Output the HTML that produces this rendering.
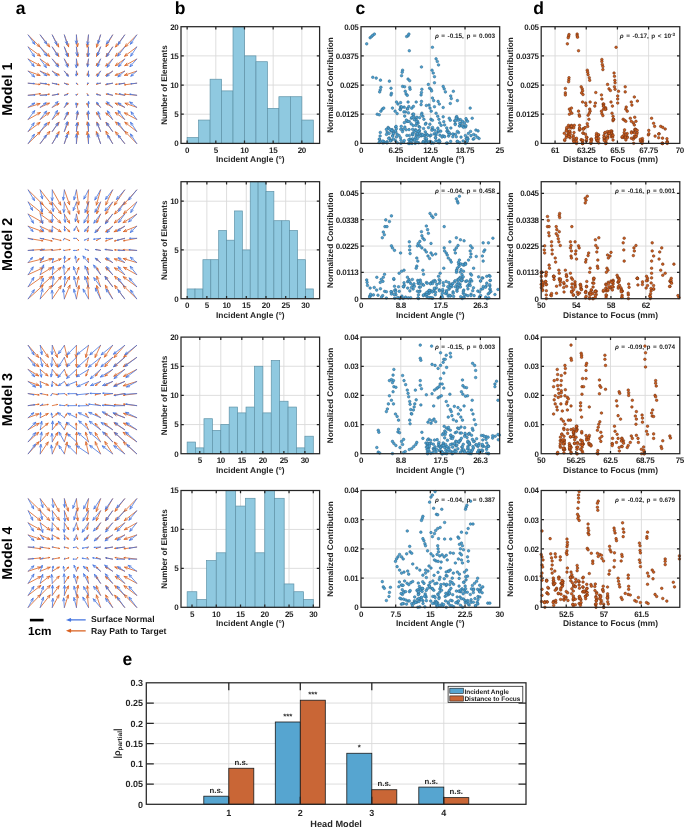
<!DOCTYPE html><html><head><meta charset="utf-8"><style>html,body{margin:0;padding:0;background:#fff;width:685px;height:828px;overflow:hidden}svg{display:block;will-change:transform}text{font-family:"Liberation Sans", sans-serif;text-rendering:geometricPrecision}</style></head><body>
<svg width="685" height="828" viewBox="0 0 685 828">
<rect width="685" height="828" fill="#fff"/>
<text x="15.8" y="14" font-size="17.5" font-weight="bold" text-anchor="start" fill="#000">a</text>
<text x="174.7" y="14.1" font-size="17.5" font-weight="bold" text-anchor="start" fill="#000">b</text>
<text x="355.4" y="14" font-size="17.5" font-weight="bold" text-anchor="start" fill="#000">c</text>
<text x="533.3" y="14" font-size="17.5" font-weight="bold" text-anchor="start" fill="#000">d</text>
<text x="122.6" y="665.4" font-size="17.5" font-weight="bold" text-anchor="start" fill="#000">e</text>
<text x="12" y="89.2" font-size="14.3" font-weight="bold" text-anchor="middle" fill="#000" transform="rotate(-90 12 89.2)">Model 1</text>
<text x="12" y="244.35" font-size="14.3" font-weight="bold" text-anchor="middle" fill="#000" transform="rotate(-90 12 244.35)">Model 2</text>
<text x="12" y="399.55" font-size="14.3" font-weight="bold" text-anchor="middle" fill="#000" transform="rotate(-90 12 399.55)">Model 3</text>
<text x="12" y="553.05" font-size="14.3" font-weight="bold" text-anchor="middle" fill="#000" transform="rotate(-90 12 553.05)">Model 4</text>
<path d="M28.2 35L39.92 46.91M38.7 43.95L39.92 46.91L36.99 45.63M40.26 35L49.68 46.9M48.77 43.83L49.68 46.9L46.9 45.31M52.31 35L58.69 46.91M58.35 43.73L58.69 46.91L56.23 44.86M64.37 35L68.61 46.84M68.74 43.64L68.61 46.84L66.48 44.45M76.42 35L77.57 46.74M78.47 43.67L77.57 46.74L76.09 43.91M88.48 35L87.23 47.21M88.72 44.38L87.23 47.21L86.34 44.14M100.53 35L96.59 47.18M98.64 44.72L96.59 47.18L96.36 43.98M112.59 35L106.05 46.71M108.54 44.7L106.05 46.71L106.45 43.53M124.64 35L115.53 46.97M118.28 45.34L115.53 46.97L116.37 43.89M136.7 35L125.01 46.78M127.95 45.52L125.01 46.78L126.25 43.83M28.2 47.06L40.38 56.11M38.71 53.38L40.38 56.11L37.28 55.31M40.26 47.06L49.6 56.47M48.36 53.52L49.6 56.47L46.66 55.21M52.31 47.06L58.82 56.39M58.11 53.29L58.82 56.39L56.15 54.65M64.37 47.06L68.56 56.26M68.43 53.43L68.56 56.26L66.5 54.31M76.42 47.06L77.94 56.57M78.54 53.94L77.94 56.57L76.55 54.26M88.48 47.06L87.36 56.58M88.65 54.23L87.36 56.58L86.65 53.99M100.53 47.06L96.56 56.33M98.57 54.34L96.56 56.33L96.62 53.51M112.59 47.06L106.06 56.56M108.73 54.79L106.06 56.56L106.76 53.43M124.64 47.06L115.49 56.11M118.44 54.88L115.49 56.11L116.75 53.17M136.7 47.06L124.6 56.22M127.69 55.39L124.6 56.22L126.24 53.48M28.2 59.11L40.28 65.78M38.27 63.3L40.28 65.78L37.11 65.4M40.26 59.11L49.31 65.56M47.63 62.93L49.31 65.56L46.28 64.83M52.31 59.11L58.77 65.68M57.78 63.29L58.77 65.68L56.4 64.65M64.37 59.11L68.47 65.81M68.11 63.64L68.47 65.81L66.7 64.5M76.42 59.11L77.78 65.86M78.13 63.97L77.78 65.86L76.72 64.25M88.48 59.11L87.38 65.47M88.33 63.93L87.38 65.47L86.99 63.7M100.53 59.11L96.31 65.53M98.08 64.3L96.31 65.53L96.73 63.42M112.59 59.11L105.7 66.01M108.21 64.94L105.7 66.01L106.76 63.5M124.64 59.11L115.35 65.65M118.45 64.93L115.35 65.65L117.07 62.98M136.7 59.11L124.81 65.59M127.99 65.22L124.81 65.59L126.84 63.12M28.2 71.17L40.08 75.4M37.69 73.28L40.08 75.4L36.89 75.54M40.26 71.17L49.48 75M47.49 73.04L49.48 75L46.68 74.97M52.31 71.17L59.24 75.08M57.85 73.34L59.24 75.08L57.03 74.79M64.37 71.17L68.23 75.41M67.67 73.9L68.23 75.41L66.78 74.71M76.42 71.17L77.59 74.85M77.67 73.77L77.59 74.85L76.9 74.02M88.48 71.17L87.24 75.22M87.98 74.3L87.24 75.22L87.13 74.04M100.53 71.17L96.47 75.25M97.95 74.62L96.47 75.25L97.09 73.76M112.59 71.17L105.77 75.43M107.99 75.04L105.77 75.43L107.09 73.61M124.64 71.17L115.27 75.33M118.14 75.23L115.27 75.33L117.27 73.26M136.7 71.17L124.47 75.29M127.66 75.48L124.47 75.29L126.9 73.2M28.2 83.22L39.94 84.48M38.95 83.95L39.94 84.48L38.86 84.78M40.26 83.22L49.33 84.75M48.57 84.28L49.33 84.75L48.45 84.95M52.31 83.22L59.02 84.63M58.46 84.25L59.02 84.63L58.36 84.75M64.37 83.22L68.4 84.31M68.07 84.07L68.4 84.31L67.99 84.36M76.42 83.22L77.8 84.38M77.71 84.23L77.8 84.38L77.63 84.33M88.48 83.22L87.28 84.76M87.44 84.67L87.28 84.76L87.33 84.58M100.53 83.22L96.52 84.26M96.92 84.31L96.52 84.26L96.85 84.02M112.59 83.22L105.71 84.62M106.39 84.75L105.71 84.62L106.28 84.24M124.64 83.22L115.64 84.33M116.5 84.56L115.64 84.33L116.42 83.9M136.7 83.22L124.57 84.82M125.65 85.1L124.57 84.82L125.54 84.27M28.2 95.28L40.37 93.71M39.28 93.43L40.37 93.71L39.39 94.26M40.26 95.28L49.31 94.2M48.45 93.97L49.31 94.2L48.52 94.63M52.31 95.28L58.81 94.09M58.18 93.96L58.81 94.09L58.26 94.44M64.37 95.28L68.07 93.66M67.67 93.67L68.07 93.66L67.79 93.94M76.42 95.28L77.52 94.03M77.38 94.1L77.52 94.03L77.47 94.18M88.48 95.28L87.16 93.77M87.22 93.96L87.16 93.77L87.33 93.86M100.53 95.28L96.77 94M97.06 94.26L96.77 94L97.16 93.98M112.59 95.28L106.24 94.11M106.77 94.45L106.24 94.11L106.86 93.98M124.64 95.28L115.41 93.79M116.19 94.27L115.41 93.79L116.3 93.59M136.7 95.28L124.6 94.18M125.59 94.69L124.6 94.18L125.67 93.86M28.2 107.33L40.02 103.58M36.83 103.34L40.02 103.58L37.55 105.62M40.26 107.33L49.35 103.11M46.55 103.25L49.35 103.11L47.43 105.16M52.31 107.33L59.01 103.62M56.88 103.88L59.01 103.62L57.66 105.28M64.37 107.33L68.23 103.18M66.79 103.85L68.23 103.18L67.67 104.66M76.42 107.33L77.71 103.51M76.98 104.37L77.71 103.51L77.78 104.64M88.48 107.33L86.95 103.5M86.94 104.66L86.95 103.5L87.75 104.34M100.53 107.33L96.58 103.64M97.22 105.01L96.58 103.64L97.99 104.18M112.59 107.33L105.91 103.28M107.22 105.04L105.91 103.28L108.07 103.64M124.64 107.33L115.22 103.19M117.23 105.25L115.22 103.19L118.1 103.27M136.7 107.33L125.03 103.21M127.43 105.33L125.03 103.21L128.23 103.07M28.2 119.39L40.35 112.56M37.18 112.97L40.35 112.56L38.35 115.06M40.26 119.39L49.45 112.56M46.35 113.37L49.45 112.56L47.78 115.29M52.31 119.39L59.11 112.77M56.65 113.78L59.11 112.77L58.04 115.2M64.37 119.39L68.55 112.48M66.74 113.84L68.55 112.48L68.19 114.71M76.42 119.39L77.92 112.67M76.83 114.26L77.92 112.67L78.24 114.57M88.48 119.39L87.2 112.8M86.84 114.65L87.2 112.8L88.22 114.38M100.53 119.39L96.49 112.65M96.84 114.83L96.49 112.65L98.25 113.98M112.59 119.39L105.86 112.92M106.93 115.31L105.86 112.92L108.29 113.9M124.64 119.39L115.36 112.52M117.03 115.25L115.36 112.52L118.46 113.32M136.7 119.39L124.51 112.83M126.56 115.29L124.51 112.83L127.69 113.18M28.2 131.44L39.97 122.43M36.88 123.28L39.97 122.43L38.34 125.19M40.26 131.44L49.6 122.15M46.65 123.39L49.6 122.15L48.34 125.09M52.31 131.44L59.06 122.17M56.34 123.86L59.06 122.17L58.28 125.27M64.37 131.44L68.27 122.45M66.31 124.37L68.27 122.45L68.2 125.19M76.42 131.44L78.03 122.43M76.66 124.6L78.03 122.43L78.56 124.94M88.48 131.44L87.27 121.92M86.58 124.52L87.27 121.92L88.58 124.27M100.53 131.44L96.83 122.15M96.82 124.95L96.83 122.15L98.77 124.17M112.59 131.44L105.99 122.39M106.75 125.43L105.99 122.39L108.65 124.04M124.64 131.44L115.61 121.97M116.79 124.95L115.61 121.97L118.52 123.29M136.7 131.44L124.86 122.24M126.46 125.01L124.86 122.24L127.94 123.11M28.2 143.5L40.26 131.86M37.29 133.06L40.26 131.86L38.96 134.78M40.26 143.5L49.82 131.37M47.04 132.96L49.82 131.37L48.92 134.44M52.31 143.5L59.12 131.71M56.59 133.68L59.12 131.71L58.67 134.88M64.37 143.5L68.62 131.27M66.52 133.67L68.62 131.27L68.78 134.46M76.42 143.5L77.88 131.44M76.33 134.24L77.88 131.44L78.71 134.53M88.48 143.5L87.23 131.58M86.35 134.66L87.23 131.58L88.73 134.41M100.53 143.5L96.38 131.65M96.23 134.85L96.38 131.65L98.49 134.05M112.59 143.5L105.9 131.33M106.28 134.51L105.9 131.33L108.38 133.35M124.64 143.5L115.5 131.84M116.39 134.91L115.5 131.84L118.28 133.43M136.7 143.5L124.92 131.41M126.13 134.37L124.92 131.41L127.85 132.7" stroke="#d9601f" stroke-width="0.8" fill="none" stroke-linecap="round" stroke-linejoin="round"/>
<path d="M28.2 35L34.82 44.32M34.13 41.4L34.82 44.32L32.29 42.71M40.26 35L46.78 44.05M46.06 41.13L46.78 44.05L44.24 42.45M52.31 35L56.84 44.69M56.68 41.69L56.84 44.69L54.64 42.64M64.37 35L67.11 44.42M67.41 41.44L67.11 44.42L65.25 42.07M76.42 35L76.37 43.75M77.51 40.97L76.37 43.75L75.26 40.96M88.48 35L87.57 44.72M88.95 42.06L87.57 44.72L86.71 41.85M100.53 35L98 43.45M99.87 41.11L98 43.45L97.72 40.46M112.59 35L106.55 43.83M109.05 42.17L106.55 43.83L107.19 40.9M124.64 35L118.11 44.54M120.61 42.88L118.11 44.54L118.75 41.61M136.7 35L130.43 44.21M132.93 42.55L130.43 44.21L131.07 41.28M28.2 47.06L34.47 56.7M33.9 53.76L34.47 56.7L32.01 54.98M40.26 47.06L46.74 55.96M46.01 53.05L46.74 55.96L44.19 54.37M52.31 47.06L57.61 55.7M57.11 52.74L57.61 55.7L55.2 53.92M64.37 47.06L67.39 56.37M67.6 53.38L67.39 56.37L65.46 54.07M76.42 47.06L77.11 55.55M78 52.71L77.11 55.55L75.77 52.89M88.48 47.06L88.37 56.38M89.53 53.61L88.37 56.38L87.28 53.58M100.53 47.06L97.62 55.39M99.6 53.13L97.62 55.39L97.48 52.39M112.59 47.06L106.8 56.36M109.23 54.59L106.8 56.36L107.32 53.4M124.64 47.06L117.88 56.1M120.45 54.55L117.88 56.1L118.65 53.2M136.7 47.06L130.71 56.19M133.17 54.48L130.71 56.19L131.29 53.25M28.2 59.11L34.12 66.4M33.24 63.53L34.12 66.4L31.49 64.95M40.26 59.11L46.34 67.53M45.62 64.62L46.34 67.53L43.8 65.94M52.31 59.11L58.26 67.02M57.49 64.12L58.26 67.02L55.69 65.48M64.37 59.11L67.67 67.14M67.65 64.14L67.67 67.14L65.57 65M76.42 59.11L76.33 67.66M77.48 64.9L76.33 67.66L75.24 64.87M88.48 59.11L87.55 66.78M88.85 64.41L87.55 66.78L86.84 64.17M100.53 59.11L97.71 66.58M99.61 64.53L97.71 66.58L97.65 63.79M112.59 59.11L107.18 67.25M109.66 65.55L107.18 67.25L107.79 64.31M124.64 59.11L118.53 66.69M121.15 65.23L118.53 66.69L119.4 63.82M136.7 59.11L129.95 66.72M132.63 65.38L129.95 66.72L130.95 63.89M28.2 71.17L34.54 76.96M33.25 74.26L34.54 76.96L31.73 75.92M40.26 71.17L46.64 75.7M45.16 73.39L46.64 75.7L43.97 75.06M52.31 71.17L57.2 75.83M56.22 73.67L57.2 75.83L55 74.96M64.37 71.17L68.2 76.29M67.63 74.12L68.2 76.29L66.28 75.13M76.42 71.17L76.2 75.87M76.89 74.37L76.2 75.87L75.65 74.31M88.48 71.17L88.59 76.71M89.28 74.89L88.59 76.71L87.83 74.92M100.53 71.17L97.4 76.56M99.12 75.22L97.4 76.56L97.71 74.4M112.59 71.17L106.57 76.38M109.21 75.48L106.57 76.38L107.84 73.9M124.64 71.17L118.03 76.82M120.88 75.87L118.03 76.82L119.42 74.16M136.7 71.17L130.84 76.2M133.4 75.34L130.84 76.2L132.08 73.8M28.2 83.22L34.3 83.54M33.62 83.23L34.3 83.54L33.59 83.79M40.26 83.22L46.38 83.64M45.7 83.31L46.38 83.64L45.66 83.87M52.31 83.22L56.98 84.14M56.49 83.82L56.98 84.14L56.41 84.25M64.37 83.22L67.09 84.58M66.85 84.3L67.09 84.58L66.72 84.56M76.42 83.22L76.7 83.94M76.7 83.84L76.7 83.94L76.64 83.87M88.48 83.22L87.37 83.28M87.5 83.32L87.37 83.28L87.49 83.22M100.53 83.22L96.94 83.37M97.35 83.52L96.94 83.37L97.34 83.19M112.59 83.22L106.69 84.11M107.4 84.28L106.69 84.11L107.32 83.74M124.64 83.22L119.02 84.14M119.7 84.29L119.02 84.14L119.61 83.78M136.7 83.22L130.89 83.81M131.58 84.01L130.89 83.81L131.53 83.48M28.2 95.28L34.92 95.04M34.15 94.76L34.92 95.04L34.17 95.38M40.26 95.28L46.75 95.16M46.01 94.87L46.75 95.16L46.02 95.47M52.31 95.28L58.01 94.25M57.32 94.11L58.01 94.25L57.41 94.63M64.37 95.28L67.42 94.57M67.04 94.51L67.42 94.57L67.11 94.79M76.42 95.28L76.15 94.46M76.15 94.57L76.15 94.46L76.22 94.54M88.48 95.28L87.31 95.14M87.43 95.21L87.31 95.14L87.44 95.1M100.53 95.28L96.74 94.54M97.13 94.8L96.74 94.54L97.2 94.45M112.59 95.28L107.64 93.76M108.13 94.16L107.64 93.76L108.27 93.7M124.64 95.28L119.38 93.71M119.91 94.13L119.38 93.71L120.05 93.65M136.7 95.28L129.91 94.18M130.63 94.61L129.91 94.18L130.73 93.99M28.2 107.33L34.7 103M32.02 103.55L34.7 103L33.16 105.26M40.26 107.33L46.05 102.73M43.57 103.47L46.05 102.73L44.77 104.99M52.31 107.33L57.9 101.64M55.34 102.75L57.9 101.64L56.83 104.22M64.37 107.33L67.04 102.57M65.55 103.77L67.04 102.57L66.8 104.47M76.42 107.33L76.1 102.96M75.63 104.42L76.1 102.96L76.78 104.34M88.48 107.33L88.58 101.57M87.79 103.43L88.58 101.57L89.3 103.46M100.53 107.33L96.7 102.3M97.28 104.44L96.7 102.3L98.6 103.43M112.59 107.33L106.85 101.8M107.99 104.35L106.85 101.8L109.44 102.84M124.64 107.33L118.27 102.95M119.76 105.21L118.27 102.95L120.91 103.54M136.7 107.33L129.76 101.93M131.26 104.53L129.76 101.93L132.64 102.75M28.2 119.39L34.65 110.67M32.09 112.24L34.65 110.67L33.9 113.57M40.26 119.39L46.49 111.11M43.91 112.66L46.49 111.11L45.71 114.01M52.31 119.39L57.41 110.55M55.04 112.4L57.41 110.55L56.99 113.52M64.37 119.39L67.41 112.1M65.47 114.07L67.41 112.1L67.38 114.86M76.42 119.39L77.56 110.93M76.08 113.53L77.56 110.93L78.3 113.82M88.48 119.39L88.38 110.98M87.31 113.72L88.38 110.98L89.52 113.7M100.53 119.39L98.16 111.7M97.92 114.51L98.16 111.7L99.94 113.88M112.59 119.39L107.53 110.91M107.99 113.88L107.53 110.91L109.92 112.72M124.64 119.39L118.14 110.64M118.9 113.54L118.14 110.64L120.7 112.2M136.7 119.39L131.04 111.85M131.81 114.75L131.04 111.85L133.61 113.4M28.2 131.44L34.12 122.86M31.62 124.51L34.12 122.86L33.47 125.78M40.26 131.44L46.6 123.17M44.02 124.7L46.6 123.17L45.8 126.07M52.31 131.44L58.14 122.94M55.64 124.6L58.14 122.94L57.49 125.87M64.37 131.44L67.26 121.81M65.38 124.15L67.26 121.81L67.53 124.8M76.42 131.44L76.93 122.95M75.65 125.64L76.93 122.95L77.88 125.77M88.48 131.44L88.5 122.75M87.37 125.53L88.5 122.75L89.62 125.54M100.53 131.44L97.13 122.98M97.13 125.98L97.13 122.98L99.21 125.14M112.59 131.44L106.61 122.84M107.27 125.77L106.61 122.84L109.12 124.49M124.64 131.44L117.95 122.53M118.72 125.43L117.95 122.53L120.52 124.08M136.7 131.44L130.56 122.29M131.18 125.23L130.56 122.29L133.04 123.98M28.2 143.5L34.4 134.34M31.91 136.01L34.4 134.34L33.77 137.27M40.26 143.5L46.4 135.05M43.85 136.64L46.4 135.05L45.67 137.96M52.31 143.5L57.85 134.43M55.44 136.21L57.85 134.43L57.36 137.39M64.37 143.5L67.29 134.43M65.37 136.73L67.29 134.43L67.51 137.42M76.42 143.5L76.39 134.42M75.27 137.21L76.39 134.42L77.52 137.2M88.48 143.5L88.63 134.46M87.46 137.22L88.63 134.46L89.71 137.26M100.53 143.5L97.31 133.75M97.12 136.74L97.31 133.75L99.25 136.03M112.59 143.5L107.56 135.15M108.03 138.11L107.56 135.15L109.96 136.95M124.64 143.5L118.03 135.04M118.86 137.93L118.03 135.04L120.63 136.54M136.7 143.5L130.47 133.98M131.05 136.93L130.47 133.98L132.94 135.69" stroke="#4474e0" stroke-width="0.8" fill="none" stroke-linecap="round" stroke-linejoin="round"/>
<line x1="187.15" y1="26.7" x2="187.15" y2="143.4" stroke="#dadada" stroke-width="0.9"/>
<line x1="215.82" y1="26.7" x2="215.82" y2="143.4" stroke="#dadada" stroke-width="0.9"/>
<line x1="244.49" y1="26.7" x2="244.49" y2="143.4" stroke="#dadada" stroke-width="0.9"/>
<line x1="273.16" y1="26.7" x2="273.16" y2="143.4" stroke="#dadada" stroke-width="0.9"/>
<line x1="301.83" y1="26.7" x2="301.83" y2="143.4" stroke="#dadada" stroke-width="0.9"/>
<line x1="181" y1="114.23" x2="319.6" y2="114.23" stroke="#dadada" stroke-width="0.9"/>
<line x1="181" y1="85.05" x2="319.6" y2="85.05" stroke="#dadada" stroke-width="0.9"/>
<line x1="181" y1="55.88" x2="319.6" y2="55.88" stroke="#dadada" stroke-width="0.9"/>
<rect x="187.15" y="137.56" width="11.47" height="5.83" fill="#8fc9e0" stroke="#5f93a8" stroke-width="0.7"/>
<rect x="198.62" y="120.06" width="11.47" height="23.34" fill="#8fc9e0" stroke="#5f93a8" stroke-width="0.7"/>
<rect x="210.09" y="79.22" width="11.47" height="64.19" fill="#8fc9e0" stroke="#5f93a8" stroke-width="0.7"/>
<rect x="221.55" y="90.89" width="11.47" height="52.52" fill="#8fc9e0" stroke="#5f93a8" stroke-width="0.7"/>
<rect x="233.02" y="26.7" width="11.47" height="116.7" fill="#8fc9e0" stroke="#5f93a8" stroke-width="0.7"/>
<rect x="244.49" y="55.88" width="11.47" height="87.53" fill="#8fc9e0" stroke="#5f93a8" stroke-width="0.7"/>
<rect x="255.96" y="61.71" width="11.47" height="81.69" fill="#8fc9e0" stroke="#5f93a8" stroke-width="0.7"/>
<rect x="267.43" y="108.39" width="11.47" height="35.01" fill="#8fc9e0" stroke="#5f93a8" stroke-width="0.7"/>
<rect x="278.9" y="96.72" width="11.47" height="46.68" fill="#8fc9e0" stroke="#5f93a8" stroke-width="0.7"/>
<rect x="290.36" y="96.72" width="11.47" height="46.68" fill="#8fc9e0" stroke="#5f93a8" stroke-width="0.7"/>
<rect x="301.83" y="120.06" width="11.47" height="23.34" fill="#8fc9e0" stroke="#5f93a8" stroke-width="0.7"/>
<path d="M187.15 143.4V140.6M187.15 26.7V29.5M215.82 143.4V140.6M215.82 26.7V29.5M244.49 143.4V140.6M244.49 26.7V29.5M273.16 143.4V140.6M273.16 26.7V29.5M301.83 143.4V140.6M301.83 26.7V29.5M181 114.23H183.8M319.6 114.23H316.8M181 85.05H183.8M319.6 85.05H316.8M181 55.88H183.8M319.6 55.88H316.8" stroke="#262626" stroke-width="1.25" fill="none"/>
<rect x="181" y="26.7" width="138.6" height="116.7" fill="none" stroke="#262626" stroke-width="1.25"/>
<text x="187.15" y="152.9" font-size="8.0" font-weight="bold" text-anchor="middle" fill="#262626" letter-spacing="-0.3">0</text>
<text x="215.82" y="152.9" font-size="8.0" font-weight="bold" text-anchor="middle" fill="#262626" letter-spacing="-0.3">5</text>
<text x="244.49" y="152.9" font-size="8.0" font-weight="bold" text-anchor="middle" fill="#262626" letter-spacing="-0.3">10</text>
<text x="273.16" y="152.9" font-size="8.0" font-weight="bold" text-anchor="middle" fill="#262626" letter-spacing="-0.3">15</text>
<text x="301.83" y="152.9" font-size="8.0" font-weight="bold" text-anchor="middle" fill="#262626" letter-spacing="-0.3">20</text>
<text x="178.5" y="146.26" font-size="8.0" font-weight="bold" text-anchor="end" fill="#262626" letter-spacing="-0.3">0</text>
<text x="178.5" y="117.09" font-size="8.0" font-weight="bold" text-anchor="end" fill="#262626" letter-spacing="-0.3">5</text>
<text x="178.5" y="87.91" font-size="8.0" font-weight="bold" text-anchor="end" fill="#262626" letter-spacing="-0.3">10</text>
<text x="178.5" y="58.74" font-size="8.0" font-weight="bold" text-anchor="end" fill="#262626" letter-spacing="-0.3">15</text>
<text x="178.5" y="29.56" font-size="8.0" font-weight="bold" text-anchor="end" fill="#262626" letter-spacing="-0.3">20</text>
<text x="250.3" y="162.3" font-size="8.4" font-weight="bold" text-anchor="middle" fill="#262626">Incident Angle (°)</text>
<text x="167.3" y="85.05" font-size="8.2" font-weight="bold" text-anchor="middle" fill="#262626" transform="rotate(-90 167.3 85.05)">Number of Elements</text>
<line x1="395.68" y1="26.7" x2="395.68" y2="143.4" stroke="#dadada" stroke-width="0.9"/>
<line x1="430.35" y1="26.7" x2="430.35" y2="143.4" stroke="#dadada" stroke-width="0.9"/>
<line x1="465.02" y1="26.7" x2="465.02" y2="143.4" stroke="#dadada" stroke-width="0.9"/>
<line x1="361" y1="114.23" x2="499.7" y2="114.23" stroke="#dadada" stroke-width="0.9"/>
<line x1="361" y1="85.05" x2="499.7" y2="85.05" stroke="#dadada" stroke-width="0.9"/>
<line x1="361" y1="55.88" x2="499.7" y2="55.88" stroke="#dadada" stroke-width="0.9"/>
<g fill="#4ba2d4" stroke="#2f6688" stroke-width="0.55">
<circle cx="366.69" cy="43.84" r="1.3"/>
<circle cx="370.13" cy="37.76" r="1.3"/>
<circle cx="371.56" cy="36.54" r="1.3"/>
<circle cx="372.78" cy="35.32" r="1.3"/>
<circle cx="374.4" cy="34.11" r="1.3"/>
<circle cx="406.66" cy="36.54" r="1.3"/>
<circle cx="408.07" cy="35.73" r="1.3"/>
<circle cx="408.89" cy="34.11" r="1.3"/>
<circle cx="409.3" cy="50.74" r="1.3"/>
<circle cx="432.43" cy="47.29" r="1.3"/>
<circle cx="436.08" cy="58.85" r="1.3"/>
<circle cx="437.3" cy="61.48" r="1.3"/>
<circle cx="438.52" cy="64.93" r="1.3"/>
<circle cx="421.47" cy="66.95" r="1.3"/>
<circle cx="402.6" cy="70.19" r="1.3"/>
<circle cx="402.19" cy="72.22" r="1.3"/>
<circle cx="401.58" cy="75.68" r="1.3"/>
<circle cx="432.03" cy="70.19" r="1.3"/>
<circle cx="433.23" cy="73.04" r="1.3"/>
<circle cx="434.46" cy="76.68" r="1.3"/>
<circle cx="372.78" cy="77.3" r="1.3"/>
<circle cx="376.22" cy="78.11" r="1.3"/>
<circle cx="380.47" cy="80.14" r="1.3"/>
<circle cx="389.41" cy="81.15" r="1.3"/>
<circle cx="408.07" cy="79.12" r="1.3"/>
<circle cx="409.7" cy="80.74" r="1.3"/>
<circle cx="434.46" cy="82.77" r="1.3"/>
<circle cx="428.37" cy="84.4" r="1.3"/>
<circle cx="380.89" cy="87.23" r="1.3"/>
<circle cx="380.28" cy="89.87" r="1.3"/>
<circle cx="379.67" cy="91.89" r="1.3"/>
<circle cx="391.03" cy="88.25" r="1.3"/>
<circle cx="391.44" cy="93.31" r="1.3"/>
<circle cx="391.03" cy="94.93" r="1.3"/>
<circle cx="402.6" cy="86.42" r="1.3"/>
<circle cx="404.62" cy="86.82" r="1.3"/>
<circle cx="409.7" cy="87.43" r="1.3"/>
<circle cx="410.1" cy="89.26" r="1.3"/>
<circle cx="421.88" cy="89.26" r="1.3"/>
<circle cx="421.47" cy="92.51" r="1.3"/>
<circle cx="421.07" cy="94.93" r="1.3"/>
<circle cx="429.59" cy="88.25" r="1.3"/>
<circle cx="431" cy="89.26" r="1.3"/>
<circle cx="431.61" cy="90.89" r="1.3"/>
<circle cx="443.18" cy="86.42" r="1.3"/>
<circle cx="444.19" cy="88.85" r="1.3"/>
<circle cx="445.41" cy="91.89" r="1.3"/>
<circle cx="453.33" cy="91.28" r="1.3"/>
<circle cx="450.7" cy="95.95" r="1.3"/>
<circle cx="451.29" cy="98.59" r="1.3"/>
<circle cx="450.28" cy="103.45" r="1.3"/>
<circle cx="457.38" cy="100.61" r="1.3"/>
<circle cx="432.43" cy="97.98" r="1.3"/>
<circle cx="433.65" cy="100.61" r="1.3"/>
<circle cx="438.1" cy="101.42" r="1.3"/>
<circle cx="439.32" cy="104.06" r="1.3"/>
<circle cx="405.23" cy="91.28" r="1.3"/>
<circle cx="406.05" cy="93.92" r="1.3"/>
<circle cx="407.27" cy="95.34" r="1.3"/>
<circle cx="396.51" cy="102.03" r="1.3"/>
<circle cx="397.94" cy="104.06" r="1.3"/>
<circle cx="400.57" cy="102.64" r="1.3"/>
<circle cx="408.07" cy="102.03" r="1.3"/>
<circle cx="416.19" cy="102.03" r="1.3"/>
<circle cx="421.47" cy="101.42" r="1.3"/>
<circle cx="421.07" cy="104.67" r="1.3"/>
<circle cx="426.34" cy="105.47" r="1.3"/>
<circle cx="428.98" cy="105.08" r="1.3"/>
<circle cx="429.99" cy="108.11" r="1.3"/>
<circle cx="431.21" cy="111.16" r="1.3"/>
<circle cx="434.46" cy="106.7" r="1.3"/>
<circle cx="443.18" cy="107.5" r="1.3"/>
<circle cx="377.23" cy="114.2" r="1.3"/>
<circle cx="379.27" cy="114.81" r="1.3"/>
<circle cx="380.89" cy="111.16" r="1.3"/>
<circle cx="382.3" cy="109.13" r="1.3"/>
<circle cx="383.73" cy="108.11" r="1.3"/>
<circle cx="392.46" cy="108.11" r="1.3"/>
<circle cx="395.09" cy="111.16" r="1.3"/>
<circle cx="397.12" cy="113.58" r="1.3"/>
<circle cx="412.75" cy="114.2" r="1.3"/>
<circle cx="413.76" cy="116.22" r="1.3"/>
<circle cx="411.32" cy="118.25" r="1.3"/>
<circle cx="421.88" cy="113.19" r="1.3"/>
<circle cx="422.89" cy="116.22" r="1.3"/>
<circle cx="423.9" cy="119.27" r="1.3"/>
<circle cx="425.94" cy="123.32" r="1.3"/>
<circle cx="436.08" cy="113.19" r="1.3"/>
<circle cx="437.7" cy="116.22" r="1.3"/>
<circle cx="438.92" cy="119.27" r="1.3"/>
<circle cx="439.73" cy="122.92" r="1.3"/>
<circle cx="441.15" cy="125.35" r="1.3"/>
<circle cx="431" cy="119.27" r="1.3"/>
<circle cx="432.43" cy="120.28" r="1.3"/>
<circle cx="443.18" cy="116.83" r="1.3"/>
<circle cx="443.79" cy="121.69" r="1.3"/>
<circle cx="444.61" cy="124.94" r="1.3"/>
<circle cx="456.37" cy="117.24" r="1.3"/>
<circle cx="457.99" cy="118.86" r="1.3"/>
<circle cx="460.43" cy="119.67" r="1.3"/>
<circle cx="462.46" cy="121.3" r="1.3"/>
<circle cx="464.48" cy="122.92" r="1.3"/>
<circle cx="466.52" cy="120.28" r="1.3"/>
<circle cx="463.47" cy="125.75" r="1.3"/>
<circle cx="465.51" cy="126.97" r="1.3"/>
<circle cx="467.54" cy="121.3" r="1.3"/>
<circle cx="472.2" cy="118.25" r="1.3"/>
<circle cx="470.17" cy="108.11" r="1.3"/>
<circle cx="449.27" cy="118.25" r="1.3"/>
<circle cx="450.28" cy="120.28" r="1.3"/>
<circle cx="380.28" cy="132.44" r="1.3"/>
<circle cx="379.67" cy="139.54" r="1.3"/>
<circle cx="380.28" cy="141.57" r="1.3"/>
<circle cx="470.57" cy="131.43" r="1.3"/>
<circle cx="473.62" cy="134.47" r="1.3"/>
<circle cx="475.65" cy="135.49" r="1.3"/>
<circle cx="479.1" cy="138.52" r="1.3"/>
<circle cx="404.15" cy="107.15" r="1.3"/>
<circle cx="408.8" cy="106.6" r="1.3"/>
<circle cx="407.17" cy="108.68" r="1.3"/>
<circle cx="400.38" cy="109.69" r="1.3"/>
<circle cx="400.09" cy="109.16" r="1.3"/>
<circle cx="400.54" cy="106.73" r="1.3"/>
<circle cx="405.58" cy="111.95" r="1.3"/>
<circle cx="401.32" cy="107.67" r="1.3"/>
<circle cx="408.46" cy="112.81" r="1.3"/>
<circle cx="407.76" cy="108.9" r="1.3"/>
<circle cx="413.43" cy="106.42" r="1.3"/>
<circle cx="411.75" cy="108.14" r="1.3"/>
<circle cx="401.6" cy="106.92" r="1.3"/>
<circle cx="403.94" cy="111.88" r="1.3"/>
<circle cx="406.91" cy="121.44" r="1.3"/>
<circle cx="415.29" cy="118.47" r="1.3"/>
<circle cx="413.62" cy="114.07" r="1.3"/>
<circle cx="404.7" cy="116.1" r="1.3"/>
<circle cx="416.04" cy="119.25" r="1.3"/>
<circle cx="409.35" cy="121.5" r="1.3"/>
<circle cx="411.89" cy="117.43" r="1.3"/>
<circle cx="418.12" cy="123.11" r="1.3"/>
<circle cx="408.07" cy="121.33" r="1.3"/>
<circle cx="413.21" cy="125.6" r="1.3"/>
<circle cx="416.94" cy="117.27" r="1.3"/>
<circle cx="421.51" cy="114.86" r="1.3"/>
<circle cx="411.25" cy="123.92" r="1.3"/>
<circle cx="406.38" cy="120.12" r="1.3"/>
<circle cx="404.33" cy="122.66" r="1.3"/>
<circle cx="417.58" cy="121.32" r="1.3"/>
<circle cx="419.6" cy="117.63" r="1.3"/>
<circle cx="416.31" cy="121.61" r="1.3"/>
<circle cx="414.21" cy="119.65" r="1.3"/>
<circle cx="418.95" cy="126.6" r="1.3"/>
<circle cx="461.07" cy="123.29" r="1.3"/>
<circle cx="455.21" cy="123.75" r="1.3"/>
<circle cx="463.54" cy="127.3" r="1.3"/>
<circle cx="466.02" cy="118.67" r="1.3"/>
<circle cx="459.82" cy="123.34" r="1.3"/>
<circle cx="454.66" cy="120.83" r="1.3"/>
<circle cx="456.73" cy="116.63" r="1.3"/>
<circle cx="455.18" cy="124.55" r="1.3"/>
<circle cx="456.18" cy="118.22" r="1.3"/>
<circle cx="459.89" cy="125.81" r="1.3"/>
<circle cx="455.48" cy="120.68" r="1.3"/>
<circle cx="462.15" cy="125.95" r="1.3"/>
<circle cx="465.98" cy="125.72" r="1.3"/>
<circle cx="458.3" cy="120.26" r="1.3"/>
<circle cx="459.44" cy="125.97" r="1.3"/>
<circle cx="412.6" cy="129.37" r="1.3"/>
<circle cx="391.19" cy="131.02" r="1.3"/>
<circle cx="392.76" cy="135.57" r="1.3"/>
<circle cx="402.5" cy="131.61" r="1.3"/>
<circle cx="386.48" cy="134.45" r="1.3"/>
<circle cx="396.48" cy="136.92" r="1.3"/>
<circle cx="412.47" cy="138.92" r="1.3"/>
<circle cx="400.49" cy="137.75" r="1.3"/>
<circle cx="404.88" cy="127.11" r="1.3"/>
<circle cx="411" cy="140.31" r="1.3"/>
<circle cx="410.32" cy="140.58" r="1.3"/>
<circle cx="397.12" cy="134.1" r="1.3"/>
<circle cx="389.2" cy="138.02" r="1.3"/>
<circle cx="388.07" cy="127.46" r="1.3"/>
<circle cx="392.08" cy="129.61" r="1.3"/>
<circle cx="395.68" cy="127.07" r="1.3"/>
<circle cx="386.37" cy="129.37" r="1.3"/>
<circle cx="389.14" cy="133.47" r="1.3"/>
<circle cx="387.06" cy="141.73" r="1.3"/>
<circle cx="403.19" cy="129.31" r="1.3"/>
<circle cx="393.28" cy="133.18" r="1.3"/>
<circle cx="396.34" cy="128.75" r="1.3"/>
<circle cx="409.61" cy="143.4" r="1.3"/>
<circle cx="399.13" cy="135.56" r="1.3"/>
<circle cx="388.71" cy="128.29" r="1.3"/>
<circle cx="395.74" cy="131.65" r="1.3"/>
<circle cx="409.07" cy="129.59" r="1.3"/>
<circle cx="386.99" cy="142.87" r="1.3"/>
<circle cx="400.83" cy="129.28" r="1.3"/>
<circle cx="401.25" cy="126.36" r="1.3"/>
<circle cx="400.83" cy="143.28" r="1.3"/>
<circle cx="410.02" cy="139" r="1.3"/>
<circle cx="393.51" cy="133.53" r="1.3"/>
<circle cx="390.95" cy="140.18" r="1.3"/>
<circle cx="400.96" cy="140.3" r="1.3"/>
<circle cx="395.4" cy="130.84" r="1.3"/>
<circle cx="408.6" cy="143.38" r="1.3"/>
<circle cx="409.73" cy="140.7" r="1.3"/>
<circle cx="408.78" cy="139.69" r="1.3"/>
<circle cx="392.58" cy="136.12" r="1.3"/>
<circle cx="396.1" cy="126.42" r="1.3"/>
<circle cx="387.13" cy="131.93" r="1.3"/>
<circle cx="393.47" cy="138.94" r="1.3"/>
<circle cx="412.57" cy="134.93" r="1.3"/>
<circle cx="412.03" cy="143.4" r="1.3"/>
<circle cx="412.53" cy="133.49" r="1.3"/>
<circle cx="392.4" cy="130.91" r="1.3"/>
<circle cx="391.75" cy="130.47" r="1.3"/>
<circle cx="403.46" cy="142.13" r="1.3"/>
<circle cx="409.39" cy="135.48" r="1.3"/>
<circle cx="404.25" cy="140.61" r="1.3"/>
<circle cx="388.68" cy="138.44" r="1.3"/>
<circle cx="411.29" cy="140.34" r="1.3"/>
<circle cx="406.91" cy="135.45" r="1.3"/>
<circle cx="391.25" cy="140.45" r="1.3"/>
<circle cx="395.48" cy="140.62" r="1.3"/>
<circle cx="412.98" cy="134.04" r="1.3"/>
<circle cx="397.37" cy="142.82" r="1.3"/>
<circle cx="406.22" cy="129.77" r="1.3"/>
<circle cx="389.85" cy="129.37" r="1.3"/>
<circle cx="411.15" cy="140.72" r="1.3"/>
<circle cx="390.36" cy="141.02" r="1.3"/>
<circle cx="435.63" cy="137.81" r="1.3"/>
<circle cx="421.58" cy="135.86" r="1.3"/>
<circle cx="416.69" cy="123.99" r="1.3"/>
<circle cx="435.43" cy="137.68" r="1.3"/>
<circle cx="425.51" cy="142.51" r="1.3"/>
<circle cx="423.44" cy="141.49" r="1.3"/>
<circle cx="432.19" cy="129.16" r="1.3"/>
<circle cx="419.38" cy="130.91" r="1.3"/>
<circle cx="419.13" cy="136.55" r="1.3"/>
<circle cx="419.55" cy="133.43" r="1.3"/>
<circle cx="416.69" cy="142.12" r="1.3"/>
<circle cx="421.65" cy="134.18" r="1.3"/>
<circle cx="426.79" cy="142.02" r="1.3"/>
<circle cx="423.15" cy="142.24" r="1.3"/>
<circle cx="424.95" cy="135.56" r="1.3"/>
<circle cx="425.44" cy="124.16" r="1.3"/>
<circle cx="423.58" cy="128.53" r="1.3"/>
<circle cx="413.84" cy="140.26" r="1.3"/>
<circle cx="417.6" cy="134.47" r="1.3"/>
<circle cx="429.95" cy="136" r="1.3"/>
<circle cx="421.03" cy="135.3" r="1.3"/>
<circle cx="426.16" cy="140.02" r="1.3"/>
<circle cx="416.13" cy="136.07" r="1.3"/>
<circle cx="419.31" cy="130.57" r="1.3"/>
<circle cx="431" cy="135.1" r="1.3"/>
<circle cx="426.3" cy="139.6" r="1.3"/>
<circle cx="434.12" cy="133.89" r="1.3"/>
<circle cx="427.44" cy="135.07" r="1.3"/>
<circle cx="425.19" cy="138.44" r="1.3"/>
<circle cx="423.86" cy="135.58" r="1.3"/>
<circle cx="424.43" cy="142.64" r="1.3"/>
<circle cx="429.37" cy="141.57" r="1.3"/>
<circle cx="434.79" cy="130.21" r="1.3"/>
<circle cx="426.24" cy="142.66" r="1.3"/>
<circle cx="432.51" cy="127.46" r="1.3"/>
<circle cx="416.48" cy="133.88" r="1.3"/>
<circle cx="415.38" cy="129.8" r="1.3"/>
<circle cx="415.4" cy="138.03" r="1.3"/>
<circle cx="431.25" cy="141.91" r="1.3"/>
<circle cx="417.2" cy="138.84" r="1.3"/>
<circle cx="428.49" cy="127.6" r="1.3"/>
<circle cx="433.47" cy="143.06" r="1.3"/>
<circle cx="418.66" cy="142.82" r="1.3"/>
<circle cx="422.65" cy="134.73" r="1.3"/>
<circle cx="435.86" cy="140.83" r="1.3"/>
<circle cx="417.37" cy="133.67" r="1.3"/>
<circle cx="425.27" cy="131.86" r="1.3"/>
<circle cx="418.13" cy="131.44" r="1.3"/>
<circle cx="429.88" cy="124.19" r="1.3"/>
<circle cx="426.12" cy="133.84" r="1.3"/>
<circle cx="414.16" cy="131.71" r="1.3"/>
<circle cx="427.69" cy="135.2" r="1.3"/>
<circle cx="415.19" cy="143.35" r="1.3"/>
<circle cx="431.36" cy="143.13" r="1.3"/>
<circle cx="416.09" cy="130.34" r="1.3"/>
<circle cx="414.65" cy="139.92" r="1.3"/>
<circle cx="419.79" cy="127.27" r="1.3"/>
<circle cx="423.18" cy="142.14" r="1.3"/>
<circle cx="432.04" cy="130.19" r="1.3"/>
<circle cx="417.09" cy="142.27" r="1.3"/>
<circle cx="426.49" cy="138.57" r="1.3"/>
<circle cx="415.76" cy="125.38" r="1.3"/>
<circle cx="465.41" cy="135.56" r="1.3"/>
<circle cx="439.17" cy="142.79" r="1.3"/>
<circle cx="463.11" cy="140.96" r="1.3"/>
<circle cx="439.64" cy="141.7" r="1.3"/>
<circle cx="438.92" cy="141.79" r="1.3"/>
<circle cx="455.41" cy="134.2" r="1.3"/>
<circle cx="459.64" cy="142.64" r="1.3"/>
<circle cx="447.49" cy="130.53" r="1.3"/>
<circle cx="458.53" cy="132.52" r="1.3"/>
<circle cx="440.74" cy="131.15" r="1.3"/>
<circle cx="438.23" cy="131.88" r="1.3"/>
<circle cx="449.38" cy="133.64" r="1.3"/>
<circle cx="468.45" cy="133.4" r="1.3"/>
<circle cx="457.4" cy="131.45" r="1.3"/>
<circle cx="450.86" cy="128.03" r="1.3"/>
<circle cx="446.76" cy="127.95" r="1.3"/>
<circle cx="467.31" cy="137.45" r="1.3"/>
<circle cx="444.15" cy="136.32" r="1.3"/>
<circle cx="475.91" cy="130.07" r="1.3"/>
<circle cx="470.98" cy="135.66" r="1.3"/>
<circle cx="457.17" cy="141.42" r="1.3"/>
<circle cx="452.83" cy="136.79" r="1.3"/>
<circle cx="465.39" cy="143.36" r="1.3"/>
<circle cx="450.68" cy="141.38" r="1.3"/>
<circle cx="466.19" cy="138.66" r="1.3"/>
<circle cx="453.33" cy="134.34" r="1.3"/>
<circle cx="438.39" cy="130.54" r="1.3"/>
<circle cx="439.09" cy="140.13" r="1.3"/>
<circle cx="446.97" cy="131.18" r="1.3"/>
<circle cx="439.68" cy="141.5" r="1.3"/>
<circle cx="473.18" cy="139.15" r="1.3"/>
<circle cx="448.09" cy="132.59" r="1.3"/>
<circle cx="448.58" cy="136.08" r="1.3"/>
<circle cx="442.79" cy="135.87" r="1.3"/>
<circle cx="447.3" cy="143.1" r="1.3"/>
<circle cx="477.52" cy="137.39" r="1.3"/>
<circle cx="446.49" cy="143.14" r="1.3"/>
<circle cx="449.27" cy="134.48" r="1.3"/>
<circle cx="436.12" cy="134.88" r="1.3"/>
<circle cx="456.3" cy="136.74" r="1.3"/>
<circle cx="444.65" cy="136.76" r="1.3"/>
<circle cx="436.29" cy="132.97" r="1.3"/>
<circle cx="439.91" cy="135.16" r="1.3"/>
<circle cx="437.85" cy="128.16" r="1.3"/>
<circle cx="449.05" cy="132.43" r="1.3"/>
<circle cx="461.03" cy="137.12" r="1.3"/>
<circle cx="468.06" cy="138.98" r="1.3"/>
<circle cx="466.59" cy="142.01" r="1.3"/>
<circle cx="452.68" cy="133.99" r="1.3"/>
<circle cx="478.05" cy="130.92" r="1.3"/>
<circle cx="466.94" cy="138.77" r="1.3"/>
<circle cx="437.95" cy="141.42" r="1.3"/>
<circle cx="474.08" cy="138.55" r="1.3"/>
<circle cx="467.36" cy="141.11" r="1.3"/>
<circle cx="442.01" cy="137.04" r="1.3"/>
<circle cx="457.58" cy="141.42" r="1.3"/>
<circle cx="384.77" cy="142.44" r="1.3"/>
<circle cx="382.98" cy="142.89" r="1.3"/>
<circle cx="383.79" cy="141.53" r="1.3"/>
<circle cx="380.11" cy="135.99" r="1.3"/>
<circle cx="379.32" cy="139.07" r="1.3"/>
<circle cx="379.1" cy="142.51" r="1.3"/>
<circle cx="382.78" cy="141.08" r="1.3"/>
</g>
<path d="M395.68 143.4V140.6M395.68 26.7V29.5M430.35 143.4V140.6M430.35 26.7V29.5M465.02 143.4V140.6M465.02 26.7V29.5M361 114.23H363.8M499.7 114.23H496.9M361 85.05H363.8M499.7 85.05H496.9M361 55.88H363.8M499.7 55.88H496.9" stroke="#262626" stroke-width="1.25" fill="none"/>
<rect x="361" y="26.7" width="138.7" height="116.7" fill="none" stroke="#262626" stroke-width="1.25"/>
<text x="361" y="152.9" font-size="8.0" font-weight="bold" text-anchor="middle" fill="#262626" letter-spacing="-0.3">0</text>
<text x="395.68" y="152.9" font-size="8.0" font-weight="bold" text-anchor="middle" fill="#262626" letter-spacing="-0.3">6.25</text>
<text x="430.35" y="152.9" font-size="8.0" font-weight="bold" text-anchor="middle" fill="#262626" letter-spacing="-0.3">12.5</text>
<text x="465.02" y="152.9" font-size="8.0" font-weight="bold" text-anchor="middle" fill="#262626" letter-spacing="-0.3">18.75</text>
<text x="499.7" y="152.9" font-size="8.0" font-weight="bold" text-anchor="middle" fill="#262626" letter-spacing="-0.3">25</text>
<text x="358.5" y="146.26" font-size="8.0" font-weight="bold" text-anchor="end" fill="#262626" letter-spacing="-0.3">0</text>
<text x="358.5" y="117.09" font-size="8.0" font-weight="bold" text-anchor="end" fill="#262626" letter-spacing="-0.3">0.0125</text>
<text x="358.5" y="87.91" font-size="8.0" font-weight="bold" text-anchor="end" fill="#262626" letter-spacing="-0.3">0.025</text>
<text x="358.5" y="58.74" font-size="8.0" font-weight="bold" text-anchor="end" fill="#262626" letter-spacing="-0.3">0.0375</text>
<text x="358.5" y="29.56" font-size="8.0" font-weight="bold" text-anchor="end" fill="#262626" letter-spacing="-0.3">0.05</text>
<text x="430.35" y="162.3" font-size="8.4" font-weight="bold" text-anchor="middle" fill="#262626">Incident Angle (°)</text>
<text x="332.6" y="85.05" font-size="8.2" font-weight="bold" text-anchor="middle" fill="#262626" transform="rotate(-90 332.6 85.05)">Normalized Contribution</text>
<text x="495.1" y="38.2" font-size="6.4" font-weight="bold" text-anchor="end" fill="#262626" word-spacing="0.75"><tspan font-style="italic">&#961;</tspan> = -0.15, p = 0.003</text>
<line x1="555.06" y1="26.7" x2="555.06" y2="143.4" stroke="#dadada" stroke-width="0.9"/>
<line x1="586.25" y1="26.7" x2="586.25" y2="143.4" stroke="#dadada" stroke-width="0.9"/>
<line x1="617.43" y1="26.7" x2="617.43" y2="143.4" stroke="#dadada" stroke-width="0.9"/>
<line x1="648.62" y1="26.7" x2="648.62" y2="143.4" stroke="#dadada" stroke-width="0.9"/>
<line x1="541.2" y1="114.23" x2="679.8" y2="114.23" stroke="#dadada" stroke-width="0.9"/>
<line x1="541.2" y1="85.05" x2="679.8" y2="85.05" stroke="#dadada" stroke-width="0.9"/>
<line x1="541.2" y1="55.88" x2="679.8" y2="55.88" stroke="#dadada" stroke-width="0.9"/>
<g fill="#d2601f" stroke="#6b3012" stroke-width="0.55">
<circle cx="569" cy="34.52" r="1.3"/>
<circle cx="568.6" cy="36.14" r="1.3"/>
<circle cx="568.19" cy="37.76" r="1.3"/>
<circle cx="577.13" cy="34.11" r="1.3"/>
<circle cx="577.13" cy="35.73" r="1.3"/>
<circle cx="577.53" cy="37.16" r="1.3"/>
<circle cx="567.38" cy="43.84" r="1.3"/>
<circle cx="578.54" cy="50.74" r="1.3"/>
<circle cx="616.09" cy="47.29" r="1.3"/>
<circle cx="601.88" cy="59.46" r="1.3"/>
<circle cx="601.88" cy="61.48" r="1.3"/>
<circle cx="602.28" cy="64.52" r="1.3"/>
<circle cx="602.89" cy="66.55" r="1.3"/>
<circle cx="602.89" cy="69.59" r="1.3"/>
<circle cx="587.27" cy="70.19" r="1.3"/>
<circle cx="587.67" cy="72.22" r="1.3"/>
<circle cx="588.07" cy="74.66" r="1.3"/>
<circle cx="589.29" cy="77.7" r="1.3"/>
<circle cx="589.7" cy="80.34" r="1.3"/>
<circle cx="569" cy="77.7" r="1.3"/>
<circle cx="568.8" cy="79.73" r="1.3"/>
<circle cx="568.6" cy="81.76" r="1.3"/>
<circle cx="614.05" cy="73.04" r="1.3"/>
<circle cx="614.45" cy="76.29" r="1.3"/>
<circle cx="614.87" cy="80.34" r="1.3"/>
<circle cx="615.06" cy="82.77" r="1.3"/>
<circle cx="565.34" cy="88.45" r="1.3"/>
<circle cx="565.34" cy="92.9" r="1.3"/>
<circle cx="565.34" cy="94.93" r="1.3"/>
<circle cx="581.17" cy="86.82" r="1.3"/>
<circle cx="582.2" cy="88.85" r="1.3"/>
<circle cx="582.6" cy="90.89" r="1.3"/>
<circle cx="581.59" cy="92.9" r="1.3"/>
<circle cx="583" cy="94.53" r="1.3"/>
<circle cx="607.56" cy="84.4" r="1.3"/>
<circle cx="608.98" cy="88.85" r="1.3"/>
<circle cx="610.4" cy="90.48" r="1.3"/>
<circle cx="614.45" cy="86.82" r="1.3"/>
<circle cx="615.06" cy="89.26" r="1.3"/>
<circle cx="595.79" cy="92.51" r="1.3"/>
<circle cx="618.51" cy="91.28" r="1.3"/>
<circle cx="625.21" cy="86.82" r="1.3"/>
<circle cx="625.21" cy="91.89" r="1.3"/>
<circle cx="601.46" cy="94.93" r="1.3"/>
<circle cx="601.88" cy="98.98" r="1.3"/>
<circle cx="617.71" cy="95.95" r="1.3"/>
<circle cx="617.71" cy="98.98" r="1.3"/>
<circle cx="617.71" cy="103.05" r="1.3"/>
<circle cx="634.34" cy="96.97" r="1.3"/>
<circle cx="637.39" cy="101.01" r="1.3"/>
<circle cx="582.6" cy="102.03" r="1.3"/>
<circle cx="585.65" cy="103.05" r="1.3"/>
<circle cx="586.05" cy="105.47" r="1.3"/>
<circle cx="590.11" cy="102.03" r="1.3"/>
<circle cx="595.38" cy="103.05" r="1.3"/>
<circle cx="594.77" cy="106.09" r="1.3"/>
<circle cx="611.01" cy="102.03" r="1.3"/>
<circle cx="612.43" cy="106.09" r="1.3"/>
<circle cx="631.3" cy="102.03" r="1.3"/>
<circle cx="631.91" cy="105.08" r="1.3"/>
<circle cx="626.23" cy="107.09" r="1.3"/>
<circle cx="627.24" cy="111.16" r="1.3"/>
<circle cx="625.82" cy="109.13" r="1.3"/>
<circle cx="569.41" cy="109.13" r="1.3"/>
<circle cx="571.44" cy="108.11" r="1.3"/>
<circle cx="570.42" cy="111.16" r="1.3"/>
<circle cx="569.41" cy="114.2" r="1.3"/>
<circle cx="571.84" cy="113.19" r="1.3"/>
<circle cx="578.54" cy="111.16" r="1.3"/>
<circle cx="579.15" cy="114.81" r="1.3"/>
<circle cx="579.55" cy="116.22" r="1.3"/>
<circle cx="589.7" cy="109.13" r="1.3"/>
<circle cx="590.11" cy="111.16" r="1.3"/>
<circle cx="589.29" cy="113.19" r="1.3"/>
<circle cx="588.07" cy="115.21" r="1.3"/>
<circle cx="588.89" cy="119.27" r="1.3"/>
<circle cx="601.46" cy="111.16" r="1.3"/>
<circle cx="601.88" cy="113.58" r="1.3"/>
<circle cx="602.89" cy="115.61" r="1.3"/>
<circle cx="612.02" cy="113.19" r="1.3"/>
<circle cx="613.04" cy="116.22" r="1.3"/>
<circle cx="613.65" cy="119.27" r="1.3"/>
<circle cx="623.18" cy="119.27" r="1.3"/>
<circle cx="624.61" cy="120.28" r="1.3"/>
<circle cx="625.82" cy="121.3" r="1.3"/>
<circle cx="630.28" cy="118.25" r="1.3"/>
<circle cx="631.3" cy="121.3" r="1.3"/>
<circle cx="633.33" cy="122.92" r="1.3"/>
<circle cx="634.34" cy="124.94" r="1.3"/>
<circle cx="634.75" cy="117.24" r="1.3"/>
<circle cx="635.96" cy="121.3" r="1.3"/>
<circle cx="651.59" cy="118.25" r="1.3"/>
<circle cx="653.62" cy="123.32" r="1.3"/>
<circle cx="654.63" cy="126.36" r="1.3"/>
<circle cx="660.73" cy="126.36" r="1.3"/>
<circle cx="662.75" cy="127.38" r="1.3"/>
<circle cx="665.19" cy="129" r="1.3"/>
<circle cx="603.13" cy="104.06" r="1.3"/>
<circle cx="603.75" cy="104.06" r="1.3"/>
<circle cx="603.42" cy="106.02" r="1.3"/>
<circle cx="603.74" cy="106.3" r="1.3"/>
<circle cx="603.65" cy="109.13" r="1.3"/>
<circle cx="605.61" cy="107.82" r="1.3"/>
<circle cx="605.82" cy="109.13" r="1.3"/>
<circle cx="605.3" cy="109.13" r="1.3"/>
<circle cx="570.01" cy="136.5" r="1.3"/>
<circle cx="570.04" cy="137.79" r="1.3"/>
<circle cx="574.3" cy="125.35" r="1.3"/>
<circle cx="573.69" cy="127.82" r="1.3"/>
<circle cx="574.01" cy="132.47" r="1.3"/>
<circle cx="568.24" cy="135.69" r="1.3"/>
<circle cx="568.21" cy="134.53" r="1.3"/>
<circle cx="568.7" cy="133.78" r="1.3"/>
<circle cx="568.82" cy="136.42" r="1.3"/>
<circle cx="568.3" cy="131.89" r="1.3"/>
<circle cx="570.07" cy="132.13" r="1.3"/>
<circle cx="570.15" cy="134.16" r="1.3"/>
<circle cx="569.7" cy="130.99" r="1.3"/>
<circle cx="568.52" cy="125.35" r="1.3"/>
<circle cx="568.89" cy="127.32" r="1.3"/>
<circle cx="566.66" cy="129.2" r="1.3"/>
<circle cx="566.29" cy="137.39" r="1.3"/>
<circle cx="566.36" cy="135.28" r="1.3"/>
<circle cx="566.73" cy="127.65" r="1.3"/>
<circle cx="566.26" cy="130.97" r="1.3"/>
<circle cx="579.77" cy="128.53" r="1.3"/>
<circle cx="579.51" cy="125.35" r="1.3"/>
<circle cx="579.47" cy="130.08" r="1.3"/>
<circle cx="580.06" cy="129.54" r="1.3"/>
<circle cx="579.56" cy="128.16" r="1.3"/>
<circle cx="575.86" cy="138.8" r="1.3"/>
<circle cx="576.17" cy="139.58" r="1.3"/>
<circle cx="576.45" cy="143.4" r="1.3"/>
<circle cx="576.63" cy="141.72" r="1.3"/>
<circle cx="576.53" cy="138.2" r="1.3"/>
<circle cx="564.73" cy="140.49" r="1.3"/>
<circle cx="564.69" cy="139.74" r="1.3"/>
<circle cx="564.29" cy="133.28" r="1.3"/>
<circle cx="571.39" cy="127.94" r="1.3"/>
<circle cx="571.11" cy="126.6" r="1.3"/>
<circle cx="571.46" cy="125.35" r="1.3"/>
<circle cx="571.08" cy="126.39" r="1.3"/>
<circle cx="571.57" cy="126.26" r="1.3"/>
<circle cx="573.26" cy="139.79" r="1.3"/>
<circle cx="573.3" cy="135.67" r="1.3"/>
<circle cx="573.22" cy="137.32" r="1.3"/>
<circle cx="573.95" cy="141.26" r="1.3"/>
<circle cx="573.88" cy="141.82" r="1.3"/>
<circle cx="581.45" cy="140.03" r="1.3"/>
<circle cx="581.2" cy="139.71" r="1.3"/>
<circle cx="590.79" cy="139.37" r="1.3"/>
<circle cx="591.51" cy="139.04" r="1.3"/>
<circle cx="591.53" cy="140.35" r="1.3"/>
<circle cx="590.96" cy="142.77" r="1.3"/>
<circle cx="583.29" cy="133.12" r="1.3"/>
<circle cx="582.89" cy="133.08" r="1.3"/>
<circle cx="583.31" cy="128.64" r="1.3"/>
<circle cx="583.36" cy="129.2" r="1.3"/>
<circle cx="585.44" cy="134.19" r="1.3"/>
<circle cx="584.98" cy="127.63" r="1.3"/>
<circle cx="597.15" cy="140.97" r="1.3"/>
<circle cx="597.06" cy="139.81" r="1.3"/>
<circle cx="596.92" cy="135.16" r="1.3"/>
<circle cx="597" cy="136.46" r="1.3"/>
<circle cx="596.78" cy="139.98" r="1.3"/>
<circle cx="590.92" cy="143.4" r="1.3"/>
<circle cx="590.94" cy="141.88" r="1.3"/>
<circle cx="586.99" cy="137.35" r="1.3"/>
<circle cx="586.38" cy="141.04" r="1.3"/>
<circle cx="586.38" cy="137.12" r="1.3"/>
<circle cx="586.55" cy="139.75" r="1.3"/>
<circle cx="596.34" cy="137.94" r="1.3"/>
<circle cx="596.68" cy="137.45" r="1.3"/>
<circle cx="596.56" cy="133.46" r="1.3"/>
<circle cx="598.48" cy="135.15" r="1.3"/>
<circle cx="598.05" cy="140.7" r="1.3"/>
<circle cx="598.69" cy="138.45" r="1.3"/>
<circle cx="598.73" cy="142.93" r="1.3"/>
<circle cx="598.48" cy="134.69" r="1.3"/>
<circle cx="587.71" cy="126.41" r="1.3"/>
<circle cx="587.31" cy="123.71" r="1.3"/>
<circle cx="596.32" cy="138.46" r="1.3"/>
<circle cx="596.35" cy="135.39" r="1.3"/>
<circle cx="582.88" cy="143.4" r="1.3"/>
<circle cx="582.52" cy="140.7" r="1.3"/>
<circle cx="582.5" cy="143.4" r="1.3"/>
<circle cx="582.43" cy="143.4" r="1.3"/>
<circle cx="582.84" cy="140.27" r="1.3"/>
<circle cx="582.72" cy="143.4" r="1.3"/>
<circle cx="611.87" cy="131.12" r="1.3"/>
<circle cx="611.55" cy="135.27" r="1.3"/>
<circle cx="611.91" cy="133.52" r="1.3"/>
<circle cx="612.99" cy="120.74" r="1.3"/>
<circle cx="613.29" cy="119.27" r="1.3"/>
<circle cx="613.38" cy="119.27" r="1.3"/>
<circle cx="606.06" cy="142.84" r="1.3"/>
<circle cx="605.9" cy="143.4" r="1.3"/>
<circle cx="605.73" cy="143.4" r="1.3"/>
<circle cx="606.02" cy="140.69" r="1.3"/>
<circle cx="603.93" cy="135.57" r="1.3"/>
<circle cx="604.24" cy="139.23" r="1.3"/>
<circle cx="604.26" cy="140.59" r="1.3"/>
<circle cx="611.01" cy="131.99" r="1.3"/>
<circle cx="611.29" cy="132.98" r="1.3"/>
<circle cx="610.93" cy="130.98" r="1.3"/>
<circle cx="611.32" cy="136.84" r="1.3"/>
<circle cx="604.48" cy="137.49" r="1.3"/>
<circle cx="604.43" cy="138.18" r="1.3"/>
<circle cx="604.85" cy="133.07" r="1.3"/>
<circle cx="605.15" cy="132.49" r="1.3"/>
<circle cx="607.76" cy="137.17" r="1.3"/>
<circle cx="608.25" cy="133.36" r="1.3"/>
<circle cx="607.76" cy="135.53" r="1.3"/>
<circle cx="607.53" cy="138.25" r="1.3"/>
<circle cx="607.53" cy="131.52" r="1.3"/>
<circle cx="609.38" cy="131.64" r="1.3"/>
<circle cx="608.96" cy="133.43" r="1.3"/>
<circle cx="609.17" cy="133.33" r="1.3"/>
<circle cx="612.69" cy="136.92" r="1.3"/>
<circle cx="613.05" cy="140.05" r="1.3"/>
<circle cx="613.02" cy="135.23" r="1.3"/>
<circle cx="604.36" cy="137.9" r="1.3"/>
<circle cx="604.21" cy="137.46" r="1.3"/>
<circle cx="624.19" cy="132.63" r="1.3"/>
<circle cx="623.86" cy="135.2" r="1.3"/>
<circle cx="624.14" cy="137.65" r="1.3"/>
<circle cx="624.57" cy="129.92" r="1.3"/>
<circle cx="622.09" cy="137.48" r="1.3"/>
<circle cx="622.16" cy="136.75" r="1.3"/>
<circle cx="631.54" cy="131.84" r="1.3"/>
<circle cx="631.36" cy="138.23" r="1.3"/>
<circle cx="631.43" cy="132.98" r="1.3"/>
<circle cx="635.66" cy="129.41" r="1.3"/>
<circle cx="635" cy="129.41" r="1.3"/>
<circle cx="635" cy="129.41" r="1.3"/>
<circle cx="627.16" cy="133.54" r="1.3"/>
<circle cx="627.19" cy="136.76" r="1.3"/>
<circle cx="627.24" cy="137.62" r="1.3"/>
<circle cx="633.22" cy="139.25" r="1.3"/>
<circle cx="633.67" cy="143.29" r="1.3"/>
<circle cx="633.98" cy="131.87" r="1.3"/>
<circle cx="634.63" cy="137.55" r="1.3"/>
<circle cx="634.15" cy="137.11" r="1.3"/>
<circle cx="634.39" cy="136.42" r="1.3"/>
<circle cx="634.42" cy="132.93" r="1.3"/>
<circle cx="636" cy="136.18" r="1.3"/>
<circle cx="635.79" cy="130.01" r="1.3"/>
<circle cx="636" cy="136.76" r="1.3"/>
<circle cx="625.47" cy="137" r="1.3"/>
<circle cx="625.87" cy="139.91" r="1.3"/>
<circle cx="625.95" cy="134.81" r="1.3"/>
<circle cx="642.39" cy="138.64" r="1.3"/>
<circle cx="642.39" cy="140.62" r="1.3"/>
<circle cx="642.1" cy="143.4" r="1.3"/>
<circle cx="642.03" cy="141.26" r="1.3"/>
<circle cx="641.96" cy="142.43" r="1.3"/>
<circle cx="659.13" cy="133.77" r="1.3"/>
<circle cx="658.62" cy="137.72" r="1.3"/>
<circle cx="658.68" cy="133.96" r="1.3"/>
<circle cx="648.37" cy="134.89" r="1.3"/>
<circle cx="648.77" cy="130.41" r="1.3"/>
<circle cx="648.89" cy="133.74" r="1.3"/>
<circle cx="667.27" cy="141.54" r="1.3"/>
<circle cx="666.95" cy="138.7" r="1.3"/>
<circle cx="667.19" cy="143.4" r="1.3"/>
<circle cx="667.13" cy="142.02" r="1.3"/>
<circle cx="667.09" cy="142.43" r="1.3"/>
<circle cx="637.13" cy="132.69" r="1.3"/>
<circle cx="637.14" cy="130.41" r="1.3"/>
<circle cx="636.65" cy="134.43" r="1.3"/>
<circle cx="640.58" cy="141.31" r="1.3"/>
<circle cx="640.65" cy="140.52" r="1.3"/>
<circle cx="640.4" cy="139.27" r="1.3"/>
<circle cx="662.64" cy="143.4" r="1.3"/>
<circle cx="662.07" cy="143.4" r="1.3"/>
<circle cx="662.57" cy="143.4" r="1.3"/>
<circle cx="662.53" cy="138.14" r="1.3"/>
<circle cx="662.05" cy="143.4" r="1.3"/>
<circle cx="655.1" cy="136.11" r="1.3"/>
</g>
<path d="M555.06 143.4V140.6M555.06 26.7V29.5M586.25 143.4V140.6M586.25 26.7V29.5M617.43 143.4V140.6M617.43 26.7V29.5M648.62 143.4V140.6M648.62 26.7V29.5M541.2 114.23H544M679.8 114.23H677M541.2 85.05H544M679.8 85.05H677M541.2 55.88H544M679.8 55.88H677" stroke="#262626" stroke-width="1.25" fill="none"/>
<rect x="541.2" y="26.7" width="138.6" height="116.7" fill="none" stroke="#262626" stroke-width="1.25"/>
<text x="555.06" y="152.9" font-size="8.0" font-weight="bold" text-anchor="middle" fill="#262626" letter-spacing="-0.3">61</text>
<text x="586.25" y="152.9" font-size="8.0" font-weight="bold" text-anchor="middle" fill="#262626" letter-spacing="-0.3">63.25</text>
<text x="617.43" y="152.9" font-size="8.0" font-weight="bold" text-anchor="middle" fill="#262626" letter-spacing="-0.3">65.5</text>
<text x="648.62" y="152.9" font-size="8.0" font-weight="bold" text-anchor="middle" fill="#262626" letter-spacing="-0.3">67.75</text>
<text x="679.8" y="152.9" font-size="8.0" font-weight="bold" text-anchor="middle" fill="#262626" letter-spacing="-0.3">70</text>
<text x="538.7" y="146.26" font-size="8.0" font-weight="bold" text-anchor="end" fill="#262626" letter-spacing="-0.3">0</text>
<text x="538.7" y="117.09" font-size="8.0" font-weight="bold" text-anchor="end" fill="#262626" letter-spacing="-0.3">0.0125</text>
<text x="538.7" y="87.91" font-size="8.0" font-weight="bold" text-anchor="end" fill="#262626" letter-spacing="-0.3">0.025</text>
<text x="538.7" y="58.74" font-size="8.0" font-weight="bold" text-anchor="end" fill="#262626" letter-spacing="-0.3">0.0375</text>
<text x="538.7" y="29.56" font-size="8.0" font-weight="bold" text-anchor="end" fill="#262626" letter-spacing="-0.3">0.05</text>
<text x="610.5" y="162.3" font-size="8.4" font-weight="bold" text-anchor="middle" fill="#262626">Distance to Focus (mm)</text>
<text x="512.8" y="85.05" font-size="8.2" font-weight="bold" text-anchor="middle" fill="#262626" transform="rotate(-90 512.8 85.05)">Normalized Contribution</text>
<text x="675.2" y="38.2" font-size="6.4" font-weight="bold" text-anchor="end" fill="#262626" word-spacing="0.75"><tspan font-style="italic">&#961;</tspan> = -0.17, p &lt; 10<tspan dy="-2.2" font-size="4.6">-3</tspan></text>
<path d="M28.2 190L43.13 204.74M41.86 201.8L43.13 204.74L40.18 203.51M40.26 190L51.99 205.02M51.11 201.95L51.99 205.02L49.22 203.42M52.31 190L60.8 205.04M60.39 201.87L60.8 205.04L58.3 203.04M64.37 190L69.59 204.74M69.73 201.54L69.59 204.74L67.47 202.34M76.42 190L78.69 204.91M79.43 201.79L78.69 204.91L77.06 202.15M88.48 190L87.63 204.75M89 201.86L87.63 204.75L86.61 201.72M100.53 190L96.38 205.12M98.32 202.57L96.38 205.12L96.01 201.94M112.59 190L105.76 204.86M108.09 202.67L105.76 204.86L105.91 201.66M124.64 190L114.4 205.03M117.06 203.25L114.4 205.03L115.08 201.9M136.7 190L123.4 204.83M126.27 203.42L123.4 204.83L124.48 201.82M28.2 202.09L42.79 213.91M41.24 211.11L42.79 213.91L39.73 212.97M40.26 202.09L51.81 213.61M50.56 210.67L51.81 213.61L48.87 212.36M52.31 202.09L61.06 213.79M60.25 210.69L61.06 213.79L58.33 212.13M64.37 202.09L69.85 214.1M69.71 210.9L69.85 214.1L67.52 211.89M76.42 202.09L78.88 213.98M79.46 210.83L78.88 213.98L77.11 211.32M88.48 202.09L87.41 213.78M88.87 210.93L87.41 213.78L86.49 210.71M100.53 202.09L96.81 213.64M98.86 211.18L96.81 213.64L96.58 210.45M112.59 202.09L105.72 214.05M108.24 212.07L105.72 214.05L106.16 210.88M124.64 202.09L114.63 214.01M117.46 212.51L114.63 214.01L115.62 210.97M136.7 202.09L123.61 213.65M126.63 212.59L123.61 213.65L125.04 210.79M28.2 214.18L42.99 222.56M41 220.05L42.99 222.56L39.82 222.14M40.26 214.18L51.92 222.55M50.21 219.85L51.92 222.55L48.81 221.79M52.31 214.18L60.68 223.08M59.52 220.1L60.68 223.08L57.78 221.74M64.37 214.18L69.62 223.1M69.19 220.24L69.62 223.1L67.32 221.34M76.42 214.18L78.53 222.91M78.9 220.42L78.53 222.91L77.06 220.86M88.48 214.18L87.77 223.03M88.88 220.81L87.77 223.03L87.03 220.66M100.53 214.18L96.79 222.66M98.65 220.85L96.79 222.66L96.88 220.06M112.59 214.18L105.56 222.84M108.3 221.33L105.56 222.84L106.48 219.85M124.64 214.18L114.33 222.92M117.37 221.92L114.33 222.92L115.82 220.09M136.7 214.18L123.11 222.65M126.26 222.1L123.11 222.65L124.99 220.06M28.2 226.27L42.86 231.67M40.49 229.52L42.86 231.67L39.66 231.77M40.26 226.27L52.11 231.87M49.93 229.52L52.11 231.87L48.91 231.68M52.31 226.27L61.02 231.79M59.34 229.44L61.02 231.79L58.18 231.27M64.37 226.27L69.74 231.87M68.93 229.85L69.74 231.87L67.76 230.98M76.42 226.27L78.73 231.73M78.7 230.07L78.73 231.73L77.56 230.56M88.48 226.27L87.42 232.06M88.3 230.66L87.42 232.06L87.09 230.44M100.53 226.27L96.71 231.62M98.27 230.63L96.71 231.62L97.14 229.83M112.59 226.27L105.7 231.74M108.06 231.04L105.7 231.74L106.91 229.6M124.64 226.27L114.19 231.71M117.37 231.4L114.19 231.71L116.27 229.28M136.7 226.27L123.44 231.55M126.64 231.56L123.44 231.55L125.76 229.34M28.2 238.36L42.82 240.82M41.87 240.24L42.82 240.82L41.73 241.06M40.26 238.36L52.12 240.99M51.2 240.36L52.12 240.99L51.02 241.18M52.31 238.36L61.07 240.5M60.35 239.98L61.07 240.5L60.19 240.62M64.37 238.36L69.71 240.55M69.3 240.15L69.71 240.55L69.14 240.55M76.42 238.36L78.53 240.55M78.42 240.27L78.53 240.55L78.26 240.42M88.48 238.36L87.83 240.76M87.98 240.56L87.83 240.76L87.8 240.52M100.53 238.36L96.58 240.43M97.02 240.39L96.58 240.43L96.86 240.1M112.59 238.36L105.66 240.96M106.39 240.98L105.66 240.96L106.2 240.47M124.64 238.36L114.51 240.97M115.53 241.1L114.51 240.97L115.33 240.36M136.7 238.36L123.62 240.75M124.71 240.98L123.62 240.75L124.56 240.15M28.2 250.44L42.85 249.38M41.79 249.03L42.85 249.38L41.85 249.87M40.26 250.44L52.3 249.71M51.24 249.36L52.3 249.71L51.29 250.2M52.31 250.44L60.71 249.39M59.91 249.18L60.71 249.39L59.98 249.79M64.37 250.44L70.14 249.53M69.58 249.4L70.14 249.53L69.65 249.83M76.42 250.44L78.7 249.69M78.47 249.67L78.7 249.69L78.52 249.84M88.48 250.44L87.94 249.81M87.97 249.88L87.94 249.81L88.01 249.84M100.53 250.44L96.33 249.54M96.68 249.77L96.33 249.54L96.75 249.46M112.59 250.44L105.35 249.44M105.97 249.8L105.35 249.44L106.05 249.27M124.64 250.44L114.71 249.88M115.59 250.3L114.71 249.88L115.63 249.57M136.7 250.44L123.19 249.82M124.21 250.29L123.19 249.82L124.25 249.45M28.2 262.53L42.81 258.83M39.63 258.4L42.81 258.83L40.22 260.72M40.26 262.53L52.1 258.69M48.91 258.46L52.1 258.69L49.65 260.74M52.31 262.53L61.1 258.86M58.44 258.89L61.1 258.86L59.21 260.74M64.37 262.53L70.06 258.33M68.14 258.83L70.06 258.33L69.02 260.02M76.42 262.53L78.87 258.52M77.81 259.31L78.87 258.52L78.65 259.82M88.48 262.53L87.96 258.32M87.65 259.47L87.96 258.32L88.53 259.36M100.53 262.53L96.39 258.89M97.08 260.27L96.39 258.89L97.85 259.4M112.59 262.53L105.34 258.71M106.82 260.46L105.34 258.71L107.63 258.94M124.64 262.53L114.32 258.88M116.61 260.91L114.32 258.88L117.38 258.75M136.7 262.53L123.25 258.54M125.75 260.53L123.25 258.54L126.43 258.23M28.2 274.62L43.08 267.8M39.88 267.94L43.08 267.8L40.88 270.12M40.26 274.62L51.73 267.56M48.58 268.1L51.73 267.56L49.83 270.14M52.31 274.62L61.05 267.42M58.02 268.37L61.05 267.42L59.53 270.2M64.37 274.62L69.63 267.81M67.55 269.03L69.63 267.81L68.98 270.13M76.42 274.62L78.74 267.28M77.36 268.95L78.74 267.28L78.9 269.43M88.48 274.62L87.45 267.57M86.98 269.51L87.45 267.57L88.46 269.29M100.53 274.62L96.8 267.74M97.05 269.92L96.8 267.74L98.49 269.14M112.59 274.62L105.7 267.76M106.77 270.27L105.7 267.76L108.21 268.82M124.64 274.62L114.46 267.82M116.26 270.46L114.46 267.82L117.59 268.47M136.7 274.62L123.62 267.28M125.62 269.78L123.62 267.28L126.8 267.68M28.2 286.71L42.79 276.34M39.68 277.08L42.79 276.34L41.07 279.04M40.26 286.71L52.04 276.36M49.02 277.42L52.04 276.36L50.6 279.22M52.31 286.71L61.22 276.52M58.36 277.97L61.22 276.52L60.17 279.54M64.37 286.71L69.63 276.53M67.21 278.61L69.63 276.53L69.33 279.71M76.42 286.71L78.56 276.49M76.93 278.92L78.56 276.49L79.08 279.37M88.48 286.71L87.49 276.44M86.67 279.21L87.49 276.44L88.82 279.01M100.53 286.71L96.8 276.24M96.67 279.35L96.8 276.24L98.86 278.56M112.59 286.71L105.24 276.38M105.98 279.5L105.24 276.38L107.93 278.11M124.64 286.71L114.69 276.29M115.87 279.26L114.69 276.29L117.6 277.6M136.7 286.71L123.22 276.71M124.89 279.44L123.22 276.71L126.32 277.51M28.2 298.8L43.13 285.35M40.13 286.44L43.13 285.35L41.73 288.22M40.26 298.8L51.9 285.48M49.04 286.93L51.9 285.48L50.85 288.5M52.31 298.8L61.19 285.72M58.53 287.5L61.19 285.72L60.52 288.85M64.37 298.8L69.98 285.14M67.74 287.43L69.98 285.14L69.96 288.34M76.42 298.8L79 285.66M77.25 288.34L79 285.66L79.61 288.8M88.48 298.8L87.95 285.26M86.86 288.27L87.95 285.26L89.26 288.18M100.53 298.8L96.72 285.66M96.4 288.84L96.72 285.66L98.7 288.17M112.59 298.8L105.34 285.21M105.68 288.4L105.34 285.21L107.79 287.27M124.64 298.8L114.71 285.51M115.52 288.6L114.71 285.51L117.44 287.16M136.7 298.8L123.2 285.67M124.49 288.6L123.2 285.67L126.16 286.88" stroke="#d9601f" stroke-width="0.8" fill="none" stroke-linecap="round" stroke-linejoin="round"/>
<path d="M28.2 190L34.46 200.51M34 197.55L34.46 200.51L32.07 198.7M40.26 190L42.41 198.83M42.84 195.86L42.41 198.83L40.66 196.39M52.31 190L52.19 200.62M53.34 197.86L52.19 200.62L51.1 197.83M64.37 190L63.24 200.14M64.67 197.5L63.24 200.14L62.43 197.25M76.42 190L74.06 199.82M75.8 197.38L74.06 199.82L73.62 196.86M88.48 190L83.88 199.02M86.14 197.06L83.88 199.02L84.14 196.04M100.53 190L94.87 199.89M97.23 198.03L94.87 199.89L95.28 196.92M112.59 190L105.52 199.31M108.09 197.77L105.52 199.31L106.31 196.41M124.64 190L116.5 199.41M119.17 198.04L116.5 199.41L117.47 196.57M136.7 190L128.56 199.99M131.19 198.54L128.56 199.99L129.44 197.12M28.2 202.09L32.51 210.36M32.22 207.38L32.51 210.36L30.23 208.42M40.26 202.09L42.26 211.92M42.8 208.97L42.26 211.92L40.6 209.42M52.31 202.09L53.24 211.42M54.09 208.54L53.24 211.42L51.85 208.77M64.37 202.09L63.78 212.37M65.06 209.66L63.78 212.37L62.82 209.53M76.42 202.09L73.29 210.48M75.32 208.27L73.29 210.48L73.21 207.48M88.48 202.09L85.12 212.38M87.05 210.09L85.12 212.38L84.91 209.39M100.53 202.09L94.93 212.14M97.27 210.26L94.93 212.14L95.3 209.16M112.59 202.09L104.94 210.71M107.63 209.37L104.94 210.71L105.95 207.88M124.64 202.09L118.62 211.35M121.08 209.63L118.62 211.35L119.2 208.41M136.7 202.09L130.8 212.4M133.16 210.55L130.8 212.4L131.21 209.43M28.2 214.18L33.46 223.16M33.02 220.2L33.46 223.16L31.08 221.33M40.26 214.18L42.56 223.49M42.99 220.52L42.56 223.49L40.8 221.06M52.31 214.18L52.28 222M53.31 219.47L52.28 222L51.26 219.46M64.37 214.18L65.19 222.28M65.99 219.54L65.19 222.28L63.86 219.76M76.42 214.18L75.41 221.54M76.7 219.28L75.41 221.54L74.77 219.02M88.48 214.18L83.95 222.88M86.23 220.93L83.95 222.88L84.24 219.89M100.53 214.18L93.89 223.09M96.45 221.54L93.89 223.09L94.65 220.19M112.59 214.18L105.41 223.76M107.98 222.21L105.41 223.76L106.18 220.86M124.64 214.18L118.63 222.47M121.17 220.88L118.63 222.47L119.35 219.56M136.7 214.18L128.66 221.86M131.45 220.75L128.66 221.86L129.9 219.13M28.2 226.27L33.03 231.46M32.14 229.14L33.03 231.46L30.78 230.41M40.26 226.27L43.54 231.27M43.13 229.21L43.54 231.27L41.82 230.07M52.31 226.27L51.98 231.7M52.8 229.98L51.98 231.7L51.38 229.89M64.37 226.27L64.79 230.97M65.27 229.39L64.79 230.97L64.04 229.5M76.42 226.27L73.99 230.49M75.33 229.44L73.99 230.49L74.23 228.8M88.48 226.27L84.62 231.44M86.55 230.27L84.62 231.44L85.2 229.26M100.53 226.27L94.94 232.67M97.6 231.33L94.94 232.67L95.92 229.86M112.59 226.27L106.97 232.6M109.62 231.28L106.97 232.6L107.96 229.81M124.64 226.27L117.57 231.05M120.49 230.43L117.57 231.05L119.24 228.57M136.7 226.27L130.3 232.45M133.08 231.33L130.3 232.45L131.52 229.71M28.2 238.36L32.78 239.52M32.31 239.17L32.78 239.52L32.21 239.59M40.26 238.36L43.81 238.8M43.43 238.58L43.81 238.8L43.39 238.91M52.31 238.36L53.39 238.99M53.3 238.86L53.39 238.99L53.24 238.96M64.37 238.36L63.55 239.9M63.71 239.76L63.55 239.9L63.57 239.68M76.42 238.36L73.74 238.36M74.04 238.49L73.74 238.36L74.04 238.24M88.48 238.36L84.44 240.15M84.98 240.13L84.44 240.15L84.82 239.76M100.53 238.36L93.69 239.22M94.51 239.44L93.69 239.22L94.43 238.81M112.59 238.36L105.83 238.53M106.61 238.82L105.83 238.53L106.59 238.2M124.64 238.36L117.28 240.22M118.2 240.35L117.28 240.22L118.03 239.67M136.7 238.36L129.66 238.29M130.46 238.62L129.66 238.29L130.46 237.98M28.2 250.44L33.61 250.13M32.98 249.91L33.61 250.13L33.01 250.41M40.26 250.44L44.28 249.38M43.77 249.32L44.28 249.38L43.87 249.69M52.31 250.44L52.37 249.69M52.33 249.77L52.37 249.69L52.4 249.78M64.37 250.44L63.6 250.15M63.67 250.22L63.6 250.15L63.7 250.15M76.42 250.44L73.64 250.46M73.96 250.59L73.64 250.46L73.96 250.33M88.48 250.44L85.09 249.21M85.42 249.51L85.09 249.21L85.53 249.2M100.53 250.44L95.39 249.54M95.93 249.88L95.39 249.54L96.02 249.41M112.59 250.44L105 249.47M105.82 249.93L105 249.47L105.91 249.23M124.64 250.44L118.3 250.23M119.01 250.55L118.3 250.23L119.03 249.96M136.7 250.44L129.04 249.68M129.88 250.12L129.04 249.68L129.95 249.41M28.2 262.53L32.45 257.43M30.4 258.53L32.45 257.43L31.74 259.64M40.26 262.53L43.53 256.9M41.73 258.3L43.53 256.9L43.21 259.15M52.31 262.53L53.16 258.36M52.34 259.6L53.16 258.36L53.43 259.83M64.37 262.53L64.64 256.23M63.73 258.24L64.64 256.23L65.38 258.31M76.42 262.53L75.33 256.12M74.84 258.34L75.33 256.12L76.52 258.06M88.48 262.53L82.98 256.02M83.91 258.85L82.98 256.02L85.62 257.41M100.53 262.53L95.24 258.21M96.39 260.31L95.24 258.21L97.52 258.92M112.59 262.53L106.52 257.75M107.86 260.1L106.52 257.75L109.11 258.51M124.64 262.53L118.23 257.65M119.67 260.08L118.23 257.65L120.95 258.39M136.7 262.53L130.32 257.25M131.7 259.8L130.32 257.25L133.09 258.13M28.2 274.62L33.15 266.95M30.7 268.68L33.15 266.95L32.59 269.9M40.26 274.62L43.61 264.92M41.64 267.18L43.61 264.92L43.76 267.91M52.31 274.62L53.18 266.39M51.82 268.95L53.18 266.39L53.98 269.17M64.37 274.62L63.61 265.22M62.72 268.08L63.61 265.22L64.96 267.9M76.42 274.62L73.52 266.72M73.43 269.66L73.52 266.72L75.5 268.9M88.48 274.62L84.97 265.98M84.98 268.98L84.97 265.98L87.06 268.13M100.53 274.62L93.63 265.07M94.35 267.99L93.63 265.07L96.17 266.67M112.59 274.62L106.65 266.6M107.41 269.51L106.65 266.6L109.21 268.17M124.64 274.62L118.26 266.72M119.13 269.59L118.26 266.72L120.88 268.18M136.7 274.62L130.28 266.29M131.09 269.18L130.28 266.29L132.87 267.81M28.2 286.71L33.86 277.39M31.46 279.18L33.86 277.39L33.38 280.35M40.26 286.71L43.26 278.23M41.27 280.48L43.26 278.23L43.39 281.23M52.31 286.71L53.43 276.33M52.02 278.97L53.43 276.33L54.25 279.22M64.37 286.71L65.01 276.41M63.72 279.11L65.01 276.41L65.96 279.25M76.42 286.71L74.01 276.46M73.55 279.42L74.01 276.46L75.74 278.91M88.48 286.71L84.75 276.53M84.65 279.53L84.75 276.53L86.76 278.76M100.53 286.71L93.84 277.72M94.6 280.63L93.84 277.72L96.4 279.28M112.59 286.71L104.98 276.67M105.76 279.57L104.98 276.67L107.55 278.21M124.64 286.71L118.21 278.3M119.01 281.2L118.21 278.3L120.79 279.83M136.7 286.71L129.27 277.97M130.22 280.82L129.27 277.97L131.93 279.37M28.2 298.8L34.27 289.78M31.78 291.46L34.27 289.78L33.65 292.71M40.26 298.8L42.6 288.79M40.87 291.24L42.6 288.79L43.06 291.76M52.31 298.8L52.06 290.31M51.03 293.1L52.06 290.31L53.25 293.03M64.37 298.8L63.29 289.15M62.48 292.04L63.29 289.15L64.72 291.79M76.42 298.8L73.88 289.18M73.5 292.15L73.88 289.18L75.68 291.58M88.48 298.8L83.1 289.1M83.47 292.08L83.1 289.1L85.43 290.99M100.53 298.8L95.34 288.13M95.55 291.13L95.34 288.13L97.57 290.14M112.59 298.8L106.04 289.08M106.66 292.01L106.04 289.08L108.52 290.76M124.64 298.8L117.96 289.75M118.71 292.66L117.96 289.75L120.51 291.32M136.7 298.8L130.57 290.08M131.25 293L130.57 290.08L133.09 291.71" stroke="#4474e0" stroke-width="0.8" fill="none" stroke-linecap="round" stroke-linejoin="round"/>
<line x1="187.15" y1="181.7" x2="187.15" y2="298.7" stroke="#dadada" stroke-width="0.9"/>
<line x1="206.86" y1="181.7" x2="206.86" y2="298.7" stroke="#dadada" stroke-width="0.9"/>
<line x1="226.57" y1="181.7" x2="226.57" y2="298.7" stroke="#dadada" stroke-width="0.9"/>
<line x1="246.28" y1="181.7" x2="246.28" y2="298.7" stroke="#dadada" stroke-width="0.9"/>
<line x1="265.99" y1="181.7" x2="265.99" y2="298.7" stroke="#dadada" stroke-width="0.9"/>
<line x1="285.7" y1="181.7" x2="285.7" y2="298.7" stroke="#dadada" stroke-width="0.9"/>
<line x1="305.42" y1="181.7" x2="305.42" y2="298.7" stroke="#dadada" stroke-width="0.9"/>
<line x1="181" y1="249.95" x2="319.6" y2="249.95" stroke="#dadada" stroke-width="0.9"/>
<line x1="181" y1="201.2" x2="319.6" y2="201.2" stroke="#dadada" stroke-width="0.9"/>
<rect x="187.15" y="288.95" width="7.88" height="9.75" fill="#8fc9e0" stroke="#5f93a8" stroke-width="0.7"/>
<rect x="195.03" y="288.95" width="7.88" height="9.75" fill="#8fc9e0" stroke="#5f93a8" stroke-width="0.7"/>
<rect x="202.92" y="259.7" width="7.88" height="39" fill="#8fc9e0" stroke="#5f93a8" stroke-width="0.7"/>
<rect x="210.8" y="259.7" width="7.88" height="39" fill="#8fc9e0" stroke="#5f93a8" stroke-width="0.7"/>
<rect x="218.69" y="230.45" width="7.88" height="68.25" fill="#8fc9e0" stroke="#5f93a8" stroke-width="0.7"/>
<rect x="226.57" y="240.2" width="7.88" height="58.5" fill="#8fc9e0" stroke="#5f93a8" stroke-width="0.7"/>
<rect x="234.46" y="210.95" width="7.88" height="87.75" fill="#8fc9e0" stroke="#5f93a8" stroke-width="0.7"/>
<rect x="242.34" y="249.95" width="7.88" height="48.75" fill="#8fc9e0" stroke="#5f93a8" stroke-width="0.7"/>
<rect x="250.23" y="181.7" width="7.88" height="117" fill="#8fc9e0" stroke="#5f93a8" stroke-width="0.7"/>
<rect x="258.11" y="181.7" width="7.88" height="117" fill="#8fc9e0" stroke="#5f93a8" stroke-width="0.7"/>
<rect x="265.99" y="191.45" width="7.88" height="107.25" fill="#8fc9e0" stroke="#5f93a8" stroke-width="0.7"/>
<rect x="273.88" y="220.7" width="7.88" height="78" fill="#8fc9e0" stroke="#5f93a8" stroke-width="0.7"/>
<rect x="281.76" y="220.7" width="7.88" height="78" fill="#8fc9e0" stroke="#5f93a8" stroke-width="0.7"/>
<rect x="289.65" y="230.45" width="7.88" height="68.25" fill="#8fc9e0" stroke="#5f93a8" stroke-width="0.7"/>
<rect x="297.53" y="259.7" width="7.88" height="39" fill="#8fc9e0" stroke="#5f93a8" stroke-width="0.7"/>
<rect x="305.42" y="288.95" width="7.88" height="9.75" fill="#8fc9e0" stroke="#5f93a8" stroke-width="0.7"/>
<path d="M187.15 298.7V295.9M187.15 181.7V184.5M206.86 298.7V295.9M206.86 181.7V184.5M226.57 298.7V295.9M226.57 181.7V184.5M246.28 298.7V295.9M246.28 181.7V184.5M265.99 298.7V295.9M265.99 181.7V184.5M285.7 298.7V295.9M285.7 181.7V184.5M305.42 298.7V295.9M305.42 181.7V184.5M181 249.95H183.8M319.6 249.95H316.8M181 201.2H183.8M319.6 201.2H316.8" stroke="#262626" stroke-width="1.25" fill="none"/>
<rect x="181" y="181.7" width="138.6" height="117" fill="none" stroke="#262626" stroke-width="1.25"/>
<text x="187.15" y="308.2" font-size="8.0" font-weight="bold" text-anchor="middle" fill="#262626" letter-spacing="-0.3">0</text>
<text x="206.86" y="308.2" font-size="8.0" font-weight="bold" text-anchor="middle" fill="#262626" letter-spacing="-0.3">5</text>
<text x="226.57" y="308.2" font-size="8.0" font-weight="bold" text-anchor="middle" fill="#262626" letter-spacing="-0.3">10</text>
<text x="246.28" y="308.2" font-size="8.0" font-weight="bold" text-anchor="middle" fill="#262626" letter-spacing="-0.3">15</text>
<text x="265.99" y="308.2" font-size="8.0" font-weight="bold" text-anchor="middle" fill="#262626" letter-spacing="-0.3">20</text>
<text x="285.7" y="308.2" font-size="8.0" font-weight="bold" text-anchor="middle" fill="#262626" letter-spacing="-0.3">25</text>
<text x="305.42" y="308.2" font-size="8.0" font-weight="bold" text-anchor="middle" fill="#262626" letter-spacing="-0.3">30</text>
<text x="178.5" y="301.56" font-size="8.0" font-weight="bold" text-anchor="end" fill="#262626" letter-spacing="-0.3">0</text>
<text x="178.5" y="252.81" font-size="8.0" font-weight="bold" text-anchor="end" fill="#262626" letter-spacing="-0.3">5</text>
<text x="178.5" y="204.06" font-size="8.0" font-weight="bold" text-anchor="end" fill="#262626" letter-spacing="-0.3">10</text>
<text x="250.3" y="317.6" font-size="8.4" font-weight="bold" text-anchor="middle" fill="#262626">Incident Angle (°)</text>
<text x="167.3" y="240.2" font-size="8.2" font-weight="bold" text-anchor="middle" fill="#262626" transform="rotate(-90 167.3 240.2)">Number of Elements</text>
<line x1="400.79" y1="181.7" x2="400.79" y2="298.7" stroke="#dadada" stroke-width="0.9"/>
<line x1="440.58" y1="181.7" x2="440.58" y2="298.7" stroke="#dadada" stroke-width="0.9"/>
<line x1="480.37" y1="181.7" x2="480.37" y2="298.7" stroke="#dadada" stroke-width="0.9"/>
<line x1="361" y1="272.38" x2="499.7" y2="272.38" stroke="#dadada" stroke-width="0.9"/>
<line x1="361" y1="246.05" x2="499.7" y2="246.05" stroke="#dadada" stroke-width="0.9"/>
<line x1="361" y1="219.72" x2="499.7" y2="219.72" stroke="#dadada" stroke-width="0.9"/>
<line x1="361" y1="193.4" x2="499.7" y2="193.4" stroke="#dadada" stroke-width="0.9"/>
<g fill="#4ba2d4" stroke="#2f6688" stroke-width="0.55">
<circle cx="456.37" cy="198.84" r="1.3"/>
<circle cx="457.38" cy="201.27" r="1.3"/>
<circle cx="457.99" cy="202.9" r="1.3"/>
<circle cx="459.42" cy="196.21" r="1.3"/>
<circle cx="429.99" cy="213.44" r="1.3"/>
<circle cx="431.61" cy="215.88" r="1.3"/>
<circle cx="433.04" cy="217.49" r="1.3"/>
<circle cx="435.68" cy="214.45" r="1.3"/>
<circle cx="391.44" cy="215.88" r="1.3"/>
<circle cx="385.76" cy="219.92" r="1.3"/>
<circle cx="389.41" cy="221.55" r="1.3"/>
<circle cx="384.94" cy="226.62" r="1.3"/>
<circle cx="386.98" cy="226.62" r="1.3"/>
<circle cx="383.32" cy="232.09" r="1.3"/>
<circle cx="384.33" cy="234.72" r="1.3"/>
<circle cx="382.3" cy="237.77" r="1.3"/>
<circle cx="444.19" cy="226.62" r="1.3"/>
<circle cx="426.34" cy="226.01" r="1.3"/>
<circle cx="427.56" cy="229.66" r="1.3"/>
<circle cx="428.37" cy="233.31" r="1.3"/>
<circle cx="421.47" cy="231.68" r="1.3"/>
<circle cx="421.88" cy="235.74" r="1.3"/>
<circle cx="422.89" cy="238.18" r="1.3"/>
<circle cx="424.32" cy="239.8" r="1.3"/>
<circle cx="419.85" cy="241.42" r="1.3"/>
<circle cx="418.23" cy="243.44" r="1.3"/>
<circle cx="409.3" cy="241.83" r="1.3"/>
<circle cx="409.7" cy="246.28" r="1.3"/>
<circle cx="409.7" cy="249.93" r="1.3"/>
<circle cx="410.1" cy="253.58" r="1.3"/>
<circle cx="391.44" cy="245.87" r="1.3"/>
<circle cx="392.46" cy="247.91" r="1.3"/>
<circle cx="394.48" cy="250.34" r="1.3"/>
<circle cx="400.57" cy="252.98" r="1.3"/>
<circle cx="431" cy="243.44" r="1.3"/>
<circle cx="417.41" cy="245.87" r="1.3"/>
<circle cx="419.85" cy="245.87" r="1.3"/>
<circle cx="421.88" cy="247.91" r="1.3"/>
<circle cx="424.91" cy="249.93" r="1.3"/>
<circle cx="426.34" cy="251.96" r="1.3"/>
<circle cx="427.96" cy="256.02" r="1.3"/>
<circle cx="429.59" cy="258.45" r="1.3"/>
<circle cx="431" cy="252.98" r="1.3"/>
<circle cx="432.43" cy="255" r="1.3"/>
<circle cx="435.68" cy="253.99" r="1.3"/>
<circle cx="456.37" cy="237.77" r="1.3"/>
<circle cx="460.43" cy="239.8" r="1.3"/>
<circle cx="464.08" cy="240.81" r="1.3"/>
<circle cx="449.88" cy="241.83" r="1.3"/>
<circle cx="444.19" cy="247.91" r="1.3"/>
<circle cx="444.61" cy="250.95" r="1.3"/>
<circle cx="446.23" cy="252.98" r="1.3"/>
<circle cx="447.24" cy="255" r="1.3"/>
<circle cx="448.26" cy="258.04" r="1.3"/>
<circle cx="450.28" cy="260.07" r="1.3"/>
<circle cx="451.29" cy="262.1" r="1.3"/>
<circle cx="454.75" cy="249.93" r="1.3"/>
<circle cx="456.37" cy="247.91" r="1.3"/>
<circle cx="457.99" cy="245.48" r="1.3"/>
<circle cx="455.36" cy="252.98" r="1.3"/>
<circle cx="470.57" cy="245.87" r="1.3"/>
<circle cx="472.2" cy="247.91" r="1.3"/>
<circle cx="470.17" cy="250.95" r="1.3"/>
<circle cx="470.99" cy="253.99" r="1.3"/>
<circle cx="470.57" cy="257.04" r="1.3"/>
<circle cx="476.26" cy="256.43" r="1.3"/>
<circle cx="483.15" cy="242.84" r="1.3"/>
<circle cx="488.44" cy="242.84" r="1.3"/>
<circle cx="492.9" cy="238.18" r="1.3"/>
<circle cx="484.78" cy="249.93" r="1.3"/>
<circle cx="483.76" cy="251.56" r="1.3"/>
<circle cx="482.35" cy="256.02" r="1.3"/>
<circle cx="483.15" cy="261.08" r="1.3"/>
<circle cx="416.8" cy="258.04" r="1.3"/>
<circle cx="417.81" cy="261.08" r="1.3"/>
<circle cx="416.8" cy="266.15" r="1.3"/>
<circle cx="416.19" cy="268.19" r="1.3"/>
<circle cx="422.89" cy="270.21" r="1.3"/>
<circle cx="423.5" cy="274.27" r="1.3"/>
<circle cx="459.42" cy="260.07" r="1.3"/>
<circle cx="464.48" cy="264.13" r="1.3"/>
<circle cx="468.55" cy="260.07" r="1.3"/>
<circle cx="443.79" cy="268.19" r="1.3"/>
<circle cx="440.14" cy="273.25" r="1.3"/>
<circle cx="438.52" cy="276.29" r="1.3"/>
<circle cx="399.14" cy="273.25" r="1.3"/>
<circle cx="401.58" cy="271.23" r="1.3"/>
<circle cx="404.02" cy="270.21" r="1.3"/>
<circle cx="384.54" cy="274.27" r="1.3"/>
<circle cx="383.32" cy="277.3" r="1.3"/>
<circle cx="381.29" cy="279.34" r="1.3"/>
<circle cx="380.28" cy="282.38" r="1.3"/>
<circle cx="382.91" cy="281.36" r="1.3"/>
<circle cx="366.69" cy="279.94" r="1.3"/>
<circle cx="367.09" cy="282.38" r="1.3"/>
<circle cx="367.49" cy="285.42" r="1.3"/>
<circle cx="370.13" cy="288.05" r="1.3"/>
<circle cx="376.83" cy="277.3" r="1.3"/>
<circle cx="473.62" cy="268.19" r="1.3"/>
<circle cx="470.57" cy="273.86" r="1.3"/>
<circle cx="490.86" cy="291.49" r="1.3"/>
<circle cx="494.93" cy="294.53" r="1.3"/>
<circle cx="497.97" cy="289.47" r="1.3"/>
<circle cx="486.81" cy="276.29" r="1.3"/>
<circle cx="461.07" cy="269.67" r="1.3"/>
<circle cx="457.77" cy="279.66" r="1.3"/>
<circle cx="456.44" cy="272.29" r="1.3"/>
<circle cx="465.48" cy="263.74" r="1.3"/>
<circle cx="462" cy="274.6" r="1.3"/>
<circle cx="456.79" cy="269.79" r="1.3"/>
<circle cx="463.51" cy="271.26" r="1.3"/>
<circle cx="463.74" cy="265.28" r="1.3"/>
<circle cx="458.78" cy="264.35" r="1.3"/>
<circle cx="461.5" cy="280.83" r="1.3"/>
<circle cx="462.36" cy="277.79" r="1.3"/>
<circle cx="460.27" cy="277.23" r="1.3"/>
<circle cx="457.41" cy="268" r="1.3"/>
<circle cx="463.21" cy="276.81" r="1.3"/>
<circle cx="460.66" cy="263.88" r="1.3"/>
<circle cx="459.07" cy="266.35" r="1.3"/>
<circle cx="459.23" cy="278.52" r="1.3"/>
<circle cx="458.4" cy="280.07" r="1.3"/>
<circle cx="465.29" cy="263.21" r="1.3"/>
<circle cx="460.21" cy="272.07" r="1.3"/>
<circle cx="456.61" cy="270.71" r="1.3"/>
<circle cx="465.57" cy="264.37" r="1.3"/>
<circle cx="462.43" cy="264.56" r="1.3"/>
<circle cx="462.24" cy="280.25" r="1.3"/>
<circle cx="458.44" cy="262.27" r="1.3"/>
<circle cx="395.49" cy="289.91" r="1.3"/>
<circle cx="393.89" cy="279.39" r="1.3"/>
<circle cx="405.56" cy="297.17" r="1.3"/>
<circle cx="403.69" cy="286.96" r="1.3"/>
<circle cx="409.02" cy="279.64" r="1.3"/>
<circle cx="407.59" cy="281.76" r="1.3"/>
<circle cx="408.3" cy="297.85" r="1.3"/>
<circle cx="394.79" cy="290.22" r="1.3"/>
<circle cx="408.23" cy="281.16" r="1.3"/>
<circle cx="400" cy="298.5" r="1.3"/>
<circle cx="417.77" cy="280.41" r="1.3"/>
<circle cx="410.64" cy="297.72" r="1.3"/>
<circle cx="399.24" cy="291.33" r="1.3"/>
<circle cx="394.51" cy="286.27" r="1.3"/>
<circle cx="409.88" cy="290.92" r="1.3"/>
<circle cx="412.33" cy="279.44" r="1.3"/>
<circle cx="401.92" cy="296.14" r="1.3"/>
<circle cx="407.69" cy="288.09" r="1.3"/>
<circle cx="403.26" cy="298.35" r="1.3"/>
<circle cx="407.45" cy="277.21" r="1.3"/>
<circle cx="412.93" cy="285.46" r="1.3"/>
<circle cx="404.02" cy="282.78" r="1.3"/>
<circle cx="404.27" cy="285.36" r="1.3"/>
<circle cx="395.63" cy="291.69" r="1.3"/>
<circle cx="395.98" cy="294.65" r="1.3"/>
<circle cx="394.08" cy="294.59" r="1.3"/>
<circle cx="413.14" cy="289.05" r="1.3"/>
<circle cx="410.74" cy="283.61" r="1.3"/>
<circle cx="411.43" cy="287.54" r="1.3"/>
<circle cx="399.09" cy="297.95" r="1.3"/>
<circle cx="403.23" cy="286.43" r="1.3"/>
<circle cx="414.4" cy="286.34" r="1.3"/>
<circle cx="409.73" cy="281.72" r="1.3"/>
<circle cx="414" cy="283.85" r="1.3"/>
<circle cx="394.69" cy="298.15" r="1.3"/>
<circle cx="397.67" cy="297.64" r="1.3"/>
<circle cx="417.48" cy="291.25" r="1.3"/>
<circle cx="393.76" cy="278.67" r="1.3"/>
<circle cx="398.55" cy="286.77" r="1.3"/>
<circle cx="432.71" cy="298.04" r="1.3"/>
<circle cx="426.45" cy="282.54" r="1.3"/>
<circle cx="431.5" cy="282.46" r="1.3"/>
<circle cx="419.92" cy="291" r="1.3"/>
<circle cx="434.76" cy="280.61" r="1.3"/>
<circle cx="428.81" cy="293.63" r="1.3"/>
<circle cx="436.43" cy="287.73" r="1.3"/>
<circle cx="439.42" cy="283.21" r="1.3"/>
<circle cx="435.25" cy="294.8" r="1.3"/>
<circle cx="439.25" cy="289.87" r="1.3"/>
<circle cx="420.24" cy="280.12" r="1.3"/>
<circle cx="430.7" cy="283.31" r="1.3"/>
<circle cx="433.15" cy="281.13" r="1.3"/>
<circle cx="436.81" cy="284.41" r="1.3"/>
<circle cx="418.13" cy="283.36" r="1.3"/>
<circle cx="428.94" cy="291.06" r="1.3"/>
<circle cx="427.27" cy="283.3" r="1.3"/>
<circle cx="429.56" cy="297.72" r="1.3"/>
<circle cx="430.85" cy="297.64" r="1.3"/>
<circle cx="418.52" cy="298.48" r="1.3"/>
<circle cx="439.46" cy="290.78" r="1.3"/>
<circle cx="430.56" cy="290.65" r="1.3"/>
<circle cx="439.96" cy="280.61" r="1.3"/>
<circle cx="433.47" cy="290.74" r="1.3"/>
<circle cx="425.13" cy="294" r="1.3"/>
<circle cx="435.37" cy="281.62" r="1.3"/>
<circle cx="434.86" cy="289.09" r="1.3"/>
<circle cx="429.75" cy="292.45" r="1.3"/>
<circle cx="419.1" cy="291.84" r="1.3"/>
<circle cx="426.91" cy="296.61" r="1.3"/>
<circle cx="423.44" cy="295.67" r="1.3"/>
<circle cx="435.58" cy="292.24" r="1.3"/>
<circle cx="439.14" cy="279.73" r="1.3"/>
<circle cx="432.35" cy="292.03" r="1.3"/>
<circle cx="434.33" cy="288.19" r="1.3"/>
<circle cx="419.5" cy="283.67" r="1.3"/>
<circle cx="432.62" cy="283.49" r="1.3"/>
<circle cx="419.39" cy="287.16" r="1.3"/>
<circle cx="429.27" cy="290.63" r="1.3"/>
<circle cx="418.45" cy="294.86" r="1.3"/>
<circle cx="425.95" cy="294.99" r="1.3"/>
<circle cx="418.02" cy="297.85" r="1.3"/>
<circle cx="432.19" cy="298.21" r="1.3"/>
<circle cx="441.83" cy="295.83" r="1.3"/>
<circle cx="420.41" cy="287.05" r="1.3"/>
<circle cx="423.46" cy="294.94" r="1.3"/>
<circle cx="422.5" cy="284.38" r="1.3"/>
<circle cx="420.52" cy="282.04" r="1.3"/>
<circle cx="440.66" cy="298.21" r="1.3"/>
<circle cx="426.88" cy="294.28" r="1.3"/>
<circle cx="429.2" cy="290.37" r="1.3"/>
<circle cx="426.81" cy="292.42" r="1.3"/>
<circle cx="423.57" cy="285.14" r="1.3"/>
<circle cx="430.43" cy="283.85" r="1.3"/>
<circle cx="428.52" cy="297.68" r="1.3"/>
<circle cx="418.35" cy="281.62" r="1.3"/>
<circle cx="461.64" cy="280.39" r="1.3"/>
<circle cx="448.28" cy="296.15" r="1.3"/>
<circle cx="456.91" cy="284.37" r="1.3"/>
<circle cx="443.6" cy="285.54" r="1.3"/>
<circle cx="449.48" cy="295.28" r="1.3"/>
<circle cx="465.93" cy="295.05" r="1.3"/>
<circle cx="464.12" cy="297.46" r="1.3"/>
<circle cx="463.51" cy="297.28" r="1.3"/>
<circle cx="465.73" cy="281.38" r="1.3"/>
<circle cx="449.91" cy="284.95" r="1.3"/>
<circle cx="456.88" cy="289.81" r="1.3"/>
<circle cx="450.61" cy="295.9" r="1.3"/>
<circle cx="451.89" cy="284.11" r="1.3"/>
<circle cx="448.89" cy="289.25" r="1.3"/>
<circle cx="457.04" cy="291.22" r="1.3"/>
<circle cx="452.87" cy="283.61" r="1.3"/>
<circle cx="451.96" cy="286.57" r="1.3"/>
<circle cx="446.31" cy="290.78" r="1.3"/>
<circle cx="446.76" cy="293.76" r="1.3"/>
<circle cx="458.21" cy="282.47" r="1.3"/>
<circle cx="457.4" cy="286.82" r="1.3"/>
<circle cx="453.06" cy="291.91" r="1.3"/>
<circle cx="460.71" cy="296.69" r="1.3"/>
<circle cx="460.03" cy="284.17" r="1.3"/>
<circle cx="455.36" cy="286.78" r="1.3"/>
<circle cx="442.64" cy="290.93" r="1.3"/>
<circle cx="453.62" cy="296.41" r="1.3"/>
<circle cx="450.05" cy="295.85" r="1.3"/>
<circle cx="454.69" cy="281.51" r="1.3"/>
<circle cx="459.63" cy="285.74" r="1.3"/>
<circle cx="455.16" cy="280.78" r="1.3"/>
<circle cx="442.43" cy="297.31" r="1.3"/>
<circle cx="443.19" cy="282.74" r="1.3"/>
<circle cx="446.15" cy="281.43" r="1.3"/>
<circle cx="462.24" cy="298.51" r="1.3"/>
<circle cx="457.98" cy="287.97" r="1.3"/>
<circle cx="463.8" cy="290.08" r="1.3"/>
<circle cx="445.45" cy="293.39" r="1.3"/>
<circle cx="450.91" cy="285.43" r="1.3"/>
<circle cx="449.98" cy="287.77" r="1.3"/>
<circle cx="446.61" cy="292.02" r="1.3"/>
<circle cx="463.32" cy="291.27" r="1.3"/>
<circle cx="442.4" cy="293.28" r="1.3"/>
<circle cx="442.65" cy="289.56" r="1.3"/>
<circle cx="463.25" cy="293.17" r="1.3"/>
<circle cx="464.29" cy="294.51" r="1.3"/>
<circle cx="448.81" cy="282.61" r="1.3"/>
<circle cx="453.17" cy="293.21" r="1.3"/>
<circle cx="447.81" cy="286.7" r="1.3"/>
<circle cx="460.38" cy="287.02" r="1.3"/>
<circle cx="481.16" cy="289.25" r="1.3"/>
<circle cx="489.13" cy="275.58" r="1.3"/>
<circle cx="471.06" cy="294.18" r="1.3"/>
<circle cx="482.81" cy="278.01" r="1.3"/>
<circle cx="469.8" cy="281.27" r="1.3"/>
<circle cx="479.74" cy="296.68" r="1.3"/>
<circle cx="471.79" cy="281.06" r="1.3"/>
<circle cx="483.22" cy="286.49" r="1.3"/>
<circle cx="487.13" cy="298.57" r="1.3"/>
<circle cx="489.31" cy="292.89" r="1.3"/>
<circle cx="478.6" cy="276.86" r="1.3"/>
<circle cx="486.19" cy="285.92" r="1.3"/>
<circle cx="477.81" cy="291.12" r="1.3"/>
<circle cx="489.99" cy="289.48" r="1.3"/>
<circle cx="488.87" cy="297.89" r="1.3"/>
<circle cx="468.59" cy="284.88" r="1.3"/>
<circle cx="488.16" cy="293.95" r="1.3"/>
<circle cx="490.12" cy="280.61" r="1.3"/>
<circle cx="479.45" cy="297.28" r="1.3"/>
<circle cx="479.66" cy="291.94" r="1.3"/>
<circle cx="490.25" cy="280.25" r="1.3"/>
<circle cx="467.9" cy="295.7" r="1.3"/>
<circle cx="480.67" cy="280.99" r="1.3"/>
<circle cx="486.79" cy="283.14" r="1.3"/>
<circle cx="469.67" cy="283.49" r="1.3"/>
<circle cx="467.4" cy="286.09" r="1.3"/>
<circle cx="485.5" cy="287.2" r="1.3"/>
<circle cx="490" cy="276.19" r="1.3"/>
<circle cx="470.74" cy="279.42" r="1.3"/>
<circle cx="480.5" cy="280.97" r="1.3"/>
<circle cx="482.76" cy="288.75" r="1.3"/>
<circle cx="480.66" cy="295.53" r="1.3"/>
<circle cx="485.75" cy="297.07" r="1.3"/>
<circle cx="470.23" cy="285.47" r="1.3"/>
<circle cx="489.91" cy="285.88" r="1.3"/>
<circle cx="473.47" cy="287.83" r="1.3"/>
<circle cx="470.92" cy="295.6" r="1.3"/>
<circle cx="482" cy="277.96" r="1.3"/>
<circle cx="490" cy="288.7" r="1.3"/>
<circle cx="472.7" cy="290.71" r="1.3"/>
<circle cx="489.64" cy="284.7" r="1.3"/>
<circle cx="466.86" cy="280.92" r="1.3"/>
<circle cx="467.95" cy="288.87" r="1.3"/>
<circle cx="474.11" cy="295.66" r="1.3"/>
<circle cx="471.54" cy="275.11" r="1.3"/>
<circle cx="380.43" cy="288.71" r="1.3"/>
<circle cx="376.67" cy="290.12" r="1.3"/>
<circle cx="373.46" cy="294.9" r="1.3"/>
<circle cx="391.92" cy="291.93" r="1.3"/>
<circle cx="384.66" cy="291.35" r="1.3"/>
<circle cx="391.4" cy="294" r="1.3"/>
<circle cx="369.84" cy="296.01" r="1.3"/>
<circle cx="374.23" cy="287.48" r="1.3"/>
<circle cx="369.59" cy="297.02" r="1.3"/>
<circle cx="386.4" cy="291.77" r="1.3"/>
<circle cx="382.69" cy="295.63" r="1.3"/>
<circle cx="370.96" cy="295.63" r="1.3"/>
<circle cx="386.38" cy="298.03" r="1.3"/>
<circle cx="370.56" cy="294.22" r="1.3"/>
<circle cx="381.49" cy="297.07" r="1.3"/>
<circle cx="377.98" cy="295.18" r="1.3"/>
<circle cx="390.96" cy="291.67" r="1.3"/>
</g>
<path d="M400.79 298.7V295.9M400.79 181.7V184.5M440.58 298.7V295.9M440.58 181.7V184.5M480.37 298.7V295.9M480.37 181.7V184.5M361 272.38H363.8M499.7 272.38H496.9M361 246.05H363.8M499.7 246.05H496.9M361 219.72H363.8M499.7 219.72H496.9M361 193.4H363.8M499.7 193.4H496.9" stroke="#262626" stroke-width="1.25" fill="none"/>
<rect x="361" y="181.7" width="138.7" height="117" fill="none" stroke="#262626" stroke-width="1.25"/>
<text x="361" y="308.2" font-size="8.0" font-weight="bold" text-anchor="middle" fill="#262626" letter-spacing="-0.3">0</text>
<text x="400.79" y="308.2" font-size="8.0" font-weight="bold" text-anchor="middle" fill="#262626" letter-spacing="-0.3">8.8</text>
<text x="440.58" y="308.2" font-size="8.0" font-weight="bold" text-anchor="middle" fill="#262626" letter-spacing="-0.3">17.5</text>
<text x="480.37" y="308.2" font-size="8.0" font-weight="bold" text-anchor="middle" fill="#262626" letter-spacing="-0.3">26.3</text>
<text x="358.5" y="301.56" font-size="8.0" font-weight="bold" text-anchor="end" fill="#262626" letter-spacing="-0.3">0</text>
<text x="358.5" y="275.24" font-size="8.0" font-weight="bold" text-anchor="end" fill="#262626" letter-spacing="-0.3">0.0113</text>
<text x="358.5" y="248.91" font-size="8.0" font-weight="bold" text-anchor="end" fill="#262626" letter-spacing="-0.3">0.0225</text>
<text x="358.5" y="222.59" font-size="8.0" font-weight="bold" text-anchor="end" fill="#262626" letter-spacing="-0.3">0.0338</text>
<text x="358.5" y="196.26" font-size="8.0" font-weight="bold" text-anchor="end" fill="#262626" letter-spacing="-0.3">0.045</text>
<text x="430.35" y="317.6" font-size="8.4" font-weight="bold" text-anchor="middle" fill="#262626">Incident Angle (°)</text>
<text x="332.6" y="240.2" font-size="8.2" font-weight="bold" text-anchor="middle" fill="#262626" transform="rotate(-90 332.6 240.2)">Normalized Contribution</text>
<text x="495.1" y="193.2" font-size="6.4" font-weight="bold" text-anchor="end" fill="#262626" word-spacing="0.75"><tspan font-style="italic">&#961;</tspan> = -0.04, p = 0.458</text>
<line x1="576.07" y1="181.7" x2="576.07" y2="298.7" stroke="#dadada" stroke-width="0.9"/>
<line x1="610.94" y1="181.7" x2="610.94" y2="298.7" stroke="#dadada" stroke-width="0.9"/>
<line x1="645.8" y1="181.7" x2="645.8" y2="298.7" stroke="#dadada" stroke-width="0.9"/>
<line x1="541.2" y1="272.38" x2="679.8" y2="272.38" stroke="#dadada" stroke-width="0.9"/>
<line x1="541.2" y1="246.05" x2="679.8" y2="246.05" stroke="#dadada" stroke-width="0.9"/>
<line x1="541.2" y1="219.72" x2="679.8" y2="219.72" stroke="#dadada" stroke-width="0.9"/>
<line x1="541.2" y1="193.4" x2="679.8" y2="193.4" stroke="#dadada" stroke-width="0.9"/>
<g fill="#d2601f" stroke="#6b3012" stroke-width="0.55">
<circle cx="585.23" cy="198.23" r="1.3"/>
<circle cx="586.05" cy="200.26" r="1.3"/>
<circle cx="585.23" cy="202.9" r="1.3"/>
<circle cx="587.27" cy="196.21" r="1.3"/>
<circle cx="559.68" cy="213.44" r="1.3"/>
<circle cx="559.26" cy="215.47" r="1.3"/>
<circle cx="559.68" cy="217.49" r="1.3"/>
<circle cx="547.49" cy="216.48" r="1.3"/>
<circle cx="548.31" cy="220.53" r="1.3"/>
<circle cx="547.49" cy="226.62" r="1.3"/>
<circle cx="549.11" cy="226.62" r="1.3"/>
<circle cx="571.84" cy="226.62" r="1.3"/>
<circle cx="556.22" cy="226.62" r="1.3"/>
<circle cx="556.83" cy="229.66" r="1.3"/>
<circle cx="556.22" cy="233.72" r="1.3"/>
<circle cx="557.64" cy="235.74" r="1.3"/>
<circle cx="558.25" cy="238.78" r="1.3"/>
<circle cx="558.86" cy="241.83" r="1.3"/>
<circle cx="560.27" cy="245.48" r="1.3"/>
<circle cx="559.26" cy="231.68" r="1.3"/>
<circle cx="548.71" cy="232.7" r="1.3"/>
<circle cx="549.11" cy="235.74" r="1.3"/>
<circle cx="551.55" cy="241.83" r="1.3"/>
<circle cx="551.55" cy="245.87" r="1.3"/>
<circle cx="552.16" cy="249.93" r="1.3"/>
<circle cx="552.16" cy="253.99" r="1.3"/>
<circle cx="544.65" cy="245.87" r="1.3"/>
<circle cx="544.25" cy="249.93" r="1.3"/>
<circle cx="544.65" cy="252.98" r="1.3"/>
<circle cx="570.42" cy="241.83" r="1.3"/>
<circle cx="571.03" cy="245.48" r="1.3"/>
<circle cx="570.42" cy="247.91" r="1.3"/>
<circle cx="571.44" cy="250.95" r="1.3"/>
<circle cx="571.03" cy="256.02" r="1.3"/>
<circle cx="571.44" cy="258.04" r="1.3"/>
<circle cx="575.09" cy="241.83" r="1.3"/>
<circle cx="575.91" cy="250.95" r="1.3"/>
<circle cx="575.49" cy="253.99" r="1.3"/>
<circle cx="576.52" cy="259.06" r="1.3"/>
<circle cx="578.54" cy="245.87" r="1.3"/>
<circle cx="579.15" cy="247.91" r="1.3"/>
<circle cx="555.2" cy="258.04" r="1.3"/>
<circle cx="555.61" cy="262.1" r="1.3"/>
<circle cx="549.11" cy="265.14" r="1.3"/>
<circle cx="549.52" cy="268.19" r="1.3"/>
<circle cx="595.38" cy="239.8" r="1.3"/>
<circle cx="598.83" cy="237.77" r="1.3"/>
<circle cx="595.79" cy="245.48" r="1.3"/>
<circle cx="597.42" cy="247.91" r="1.3"/>
<circle cx="596.81" cy="251.96" r="1.3"/>
<circle cx="597.82" cy="260.07" r="1.3"/>
<circle cx="597.42" cy="266.15" r="1.3"/>
<circle cx="597.82" cy="268.19" r="1.3"/>
<circle cx="588.68" cy="252.98" r="1.3"/>
<circle cx="588.07" cy="255.61" r="1.3"/>
<circle cx="586.05" cy="259.67" r="1.3"/>
<circle cx="585.65" cy="262.1" r="1.3"/>
<circle cx="590.11" cy="268.19" r="1.3"/>
<circle cx="589.7" cy="272.23" r="1.3"/>
<circle cx="607.56" cy="255" r="1.3"/>
<circle cx="608.37" cy="258.04" r="1.3"/>
<circle cx="611.01" cy="252.37" r="1.3"/>
<circle cx="609.99" cy="256.02" r="1.3"/>
<circle cx="606.95" cy="268.19" r="1.3"/>
<circle cx="607.96" cy="270.21" r="1.3"/>
<circle cx="606.34" cy="272.23" r="1.3"/>
<circle cx="624.19" cy="238.18" r="1.3"/>
<circle cx="623.18" cy="242.84" r="1.3"/>
<circle cx="623.79" cy="249.93" r="1.3"/>
<circle cx="624.19" cy="261.08" r="1.3"/>
<circle cx="633.94" cy="247.91" r="1.3"/>
<circle cx="634.34" cy="250.95" r="1.3"/>
<circle cx="633.33" cy="255.61" r="1.3"/>
<circle cx="635.96" cy="245.48" r="1.3"/>
<circle cx="652.2" cy="242.84" r="1.3"/>
<circle cx="652.2" cy="250.95" r="1.3"/>
<circle cx="653.62" cy="256.02" r="1.3"/>
<circle cx="651.59" cy="261.08" r="1.3"/>
<circle cx="651.59" cy="268.19" r="1.3"/>
<circle cx="651.59" cy="273.25" r="1.3"/>
<circle cx="651.59" cy="277.91" r="1.3"/>
<circle cx="661.74" cy="247.91" r="1.3"/>
<circle cx="659.7" cy="251.96" r="1.3"/>
<circle cx="659.09" cy="259.06" r="1.3"/>
<circle cx="662.75" cy="264.13" r="1.3"/>
<circle cx="660.73" cy="270.21" r="1.3"/>
<circle cx="662.75" cy="275.28" r="1.3"/>
<circle cx="665.19" cy="273.25" r="1.3"/>
<circle cx="673.91" cy="264.13" r="1.3"/>
<circle cx="565.34" cy="270.21" r="1.3"/>
<circle cx="566.37" cy="274.67" r="1.3"/>
<circle cx="558.86" cy="270.21" r="1.3"/>
<circle cx="559.26" cy="273.25" r="1.3"/>
<circle cx="559.26" cy="278.73" r="1.3"/>
<circle cx="570.42" cy="273.25" r="1.3"/>
<circle cx="571.44" cy="277.91" r="1.3"/>
<circle cx="572.45" cy="279.34" r="1.3"/>
<circle cx="617.1" cy="275.28" r="1.3"/>
<circle cx="617.71" cy="277.3" r="1.3"/>
<circle cx="646.52" cy="276.29" r="1.3"/>
<circle cx="647.53" cy="278.32" r="1.3"/>
<circle cx="677.97" cy="295.55" r="1.3"/>
<circle cx="678.98" cy="297.58" r="1.3"/>
<circle cx="546.48" cy="284.5" r="1.3"/>
<circle cx="546.34" cy="290.76" r="1.3"/>
<circle cx="541.78" cy="280.86" r="1.3"/>
<circle cx="541.31" cy="287.64" r="1.3"/>
<circle cx="541.2" cy="284.34" r="1.3"/>
<circle cx="545.61" cy="281.49" r="1.3"/>
<circle cx="545.77" cy="281.59" r="1.3"/>
<circle cx="545.86" cy="275.99" r="1.3"/>
<circle cx="546.02" cy="284.6" r="1.3"/>
<circle cx="541.89" cy="272.23" r="1.3"/>
<circle cx="541.44" cy="272.23" r="1.3"/>
<circle cx="541.39" cy="276.38" r="1.3"/>
<circle cx="541.49" cy="272.84" r="1.3"/>
<circle cx="541.6" cy="272.23" r="1.3"/>
<circle cx="550.87" cy="295.14" r="1.3"/>
<circle cx="551.35" cy="295.79" r="1.3"/>
<circle cx="551.6" cy="293.46" r="1.3"/>
<circle cx="542.9" cy="285.91" r="1.3"/>
<circle cx="543.04" cy="283.27" r="1.3"/>
<circle cx="546.26" cy="294.98" r="1.3"/>
<circle cx="546.33" cy="298.59" r="1.3"/>
<circle cx="542.56" cy="289.69" r="1.3"/>
<circle cx="542.88" cy="283.99" r="1.3"/>
<circle cx="542.49" cy="290.49" r="1.3"/>
<circle cx="542.97" cy="282.71" r="1.3"/>
<circle cx="546.16" cy="274.53" r="1.3"/>
<circle cx="545.95" cy="272.23" r="1.3"/>
<circle cx="546.36" cy="272.23" r="1.3"/>
<circle cx="572.05" cy="291.34" r="1.3"/>
<circle cx="571.66" cy="292.34" r="1.3"/>
<circle cx="571.86" cy="287.18" r="1.3"/>
<circle cx="572" cy="283.97" r="1.3"/>
<circle cx="571.57" cy="291.39" r="1.3"/>
<circle cx="564.06" cy="283.83" r="1.3"/>
<circle cx="564.04" cy="291.97" r="1.3"/>
<circle cx="563.71" cy="282.51" r="1.3"/>
<circle cx="563.74" cy="287.57" r="1.3"/>
<circle cx="556.5" cy="293.24" r="1.3"/>
<circle cx="556.56" cy="286.2" r="1.3"/>
<circle cx="560.11" cy="285" r="1.3"/>
<circle cx="560.16" cy="280.33" r="1.3"/>
<circle cx="560.34" cy="282.31" r="1.3"/>
<circle cx="559.76" cy="280.27" r="1.3"/>
<circle cx="560.47" cy="278.99" r="1.3"/>
<circle cx="553.97" cy="276.82" r="1.3"/>
<circle cx="553.51" cy="276.32" r="1.3"/>
<circle cx="553.76" cy="276.29" r="1.3"/>
<circle cx="554.08" cy="279.39" r="1.3"/>
<circle cx="553.94" cy="276.29" r="1.3"/>
<circle cx="567.12" cy="280.41" r="1.3"/>
<circle cx="566.65" cy="276.32" r="1.3"/>
<circle cx="566.52" cy="276.29" r="1.3"/>
<circle cx="573.56" cy="289.61" r="1.3"/>
<circle cx="573.4" cy="295.24" r="1.3"/>
<circle cx="573.37" cy="294.87" r="1.3"/>
<circle cx="566.54" cy="286.31" r="1.3"/>
<circle cx="578.03" cy="294.49" r="1.3"/>
<circle cx="577.37" cy="292.23" r="1.3"/>
<circle cx="589.53" cy="293.48" r="1.3"/>
<circle cx="589.39" cy="294.25" r="1.3"/>
<circle cx="589.61" cy="297.55" r="1.3"/>
<circle cx="589.64" cy="292.93" r="1.3"/>
<circle cx="589.57" cy="298.59" r="1.3"/>
<circle cx="580.84" cy="288.05" r="1.3"/>
<circle cx="580.22" cy="284.82" r="1.3"/>
<circle cx="580.44" cy="284.34" r="1.3"/>
<circle cx="580.88" cy="286.19" r="1.3"/>
<circle cx="592.69" cy="298.59" r="1.3"/>
<circle cx="593.31" cy="298.59" r="1.3"/>
<circle cx="592.9" cy="293.54" r="1.3"/>
<circle cx="575.05" cy="285.08" r="1.3"/>
<circle cx="574.81" cy="283.74" r="1.3"/>
<circle cx="575.23" cy="286.93" r="1.3"/>
<circle cx="575.02" cy="281.83" r="1.3"/>
<circle cx="592.72" cy="282.94" r="1.3"/>
<circle cx="593.06" cy="287.02" r="1.3"/>
<circle cx="581.19" cy="289.13" r="1.3"/>
<circle cx="581.48" cy="289.59" r="1.3"/>
<circle cx="590.75" cy="292.45" r="1.3"/>
<circle cx="591.48" cy="290.3" r="1.3"/>
<circle cx="591.23" cy="289.88" r="1.3"/>
<circle cx="590.82" cy="294.42" r="1.3"/>
<circle cx="593.77" cy="283.22" r="1.3"/>
<circle cx="593.67" cy="278.32" r="1.3"/>
<circle cx="593.63" cy="279.75" r="1.3"/>
<circle cx="594.05" cy="278.32" r="1.3"/>
<circle cx="585.58" cy="297.89" r="1.3"/>
<circle cx="586.11" cy="296.25" r="1.3"/>
<circle cx="585.88" cy="291.38" r="1.3"/>
<circle cx="585.59" cy="292.55" r="1.3"/>
<circle cx="585.57" cy="292.29" r="1.3"/>
<circle cx="586.79" cy="281.45" r="1.3"/>
<circle cx="586.51" cy="286.24" r="1.3"/>
<circle cx="586.54" cy="286.84" r="1.3"/>
<circle cx="579.51" cy="293.01" r="1.3"/>
<circle cx="610.64" cy="288.01" r="1.3"/>
<circle cx="610.38" cy="287.13" r="1.3"/>
<circle cx="610.72" cy="287.08" r="1.3"/>
<circle cx="610.97" cy="281.09" r="1.3"/>
<circle cx="613.12" cy="280.28" r="1.3"/>
<circle cx="613.02" cy="281.69" r="1.3"/>
<circle cx="612.97" cy="281.45" r="1.3"/>
<circle cx="613.23" cy="286.96" r="1.3"/>
<circle cx="613.11" cy="283.92" r="1.3"/>
<circle cx="595.75" cy="291.04" r="1.3"/>
<circle cx="596.24" cy="294.46" r="1.3"/>
<circle cx="596.25" cy="291.39" r="1.3"/>
<circle cx="605.82" cy="284.17" r="1.3"/>
<circle cx="606.24" cy="290.91" r="1.3"/>
<circle cx="606.2" cy="285.03" r="1.3"/>
<circle cx="606.16" cy="288.86" r="1.3"/>
<circle cx="605.87" cy="288.1" r="1.3"/>
<circle cx="595.23" cy="297.46" r="1.3"/>
<circle cx="595.09" cy="291.41" r="1.3"/>
<circle cx="595.3" cy="291.46" r="1.3"/>
<circle cx="595.45" cy="295.51" r="1.3"/>
<circle cx="608.91" cy="286.86" r="1.3"/>
<circle cx="608.27" cy="282.25" r="1.3"/>
<circle cx="608.77" cy="283.45" r="1.3"/>
<circle cx="612.22" cy="286.61" r="1.3"/>
<circle cx="612.36" cy="289.94" r="1.3"/>
<circle cx="611.84" cy="282.36" r="1.3"/>
<circle cx="607.83" cy="290.62" r="1.3"/>
<circle cx="607.81" cy="289.49" r="1.3"/>
<circle cx="606.06" cy="297.12" r="1.3"/>
<circle cx="606.4" cy="295.34" r="1.3"/>
<circle cx="606.05" cy="294.93" r="1.3"/>
<circle cx="603.33" cy="291.33" r="1.3"/>
<circle cx="603.42" cy="290.32" r="1.3"/>
<circle cx="618.25" cy="288.11" r="1.3"/>
<circle cx="618.44" cy="286.66" r="1.3"/>
<circle cx="618.5" cy="281.81" r="1.3"/>
<circle cx="618" cy="282.28" r="1.3"/>
<circle cx="618.76" cy="281.52" r="1.3"/>
<circle cx="637.29" cy="278.32" r="1.3"/>
<circle cx="637.42" cy="278.32" r="1.3"/>
<circle cx="637.36" cy="278.32" r="1.3"/>
<circle cx="637.93" cy="284.93" r="1.3"/>
<circle cx="637.26" cy="278.32" r="1.3"/>
<circle cx="629.1" cy="287.36" r="1.3"/>
<circle cx="628.7" cy="284.09" r="1.3"/>
<circle cx="628.41" cy="298.59" r="1.3"/>
<circle cx="628.32" cy="294.92" r="1.3"/>
<circle cx="628.17" cy="293.06" r="1.3"/>
<circle cx="621.82" cy="297.44" r="1.3"/>
<circle cx="622.2" cy="291.07" r="1.3"/>
<circle cx="622.11" cy="295.28" r="1.3"/>
<circle cx="622.14" cy="291.33" r="1.3"/>
<circle cx="622.02" cy="297.14" r="1.3"/>
<circle cx="621.39" cy="289.36" r="1.3"/>
<circle cx="620.91" cy="287.82" r="1.3"/>
<circle cx="621.24" cy="290.4" r="1.3"/>
<circle cx="621.19" cy="291.8" r="1.3"/>
<circle cx="618.62" cy="278.32" r="1.3"/>
<circle cx="618.9" cy="278.32" r="1.3"/>
<circle cx="619.2" cy="280.16" r="1.3"/>
<circle cx="619.47" cy="285.3" r="1.3"/>
<circle cx="651.03" cy="288.43" r="1.3"/>
<circle cx="651.07" cy="291" r="1.3"/>
<circle cx="651.18" cy="282.94" r="1.3"/>
<circle cx="650.56" cy="293.75" r="1.3"/>
<circle cx="650.21" cy="298.59" r="1.3"/>
<circle cx="650.46" cy="297.44" r="1.3"/>
<circle cx="649.88" cy="295.83" r="1.3"/>
<circle cx="650.14" cy="296.5" r="1.3"/>
<circle cx="653.65" cy="289.19" r="1.3"/>
<circle cx="653.55" cy="288.86" r="1.3"/>
<circle cx="653.56" cy="285.49" r="1.3"/>
<circle cx="647.45" cy="280.51" r="1.3"/>
<circle cx="647.53" cy="285.55" r="1.3"/>
<circle cx="646.47" cy="280.73" r="1.3"/>
<circle cx="646.13" cy="288.04" r="1.3"/>
<circle cx="642.41" cy="284.57" r="1.3"/>
<circle cx="642.52" cy="281.91" r="1.3"/>
<circle cx="670.06" cy="281.41" r="1.3"/>
<circle cx="669.99" cy="286.43" r="1.3"/>
<circle cx="669.61" cy="286.43" r="1.3"/>
<circle cx="670.1" cy="280.78" r="1.3"/>
<circle cx="671.18" cy="282.33" r="1.3"/>
<circle cx="671.22" cy="278.32" r="1.3"/>
<circle cx="671.05" cy="280.41" r="1.3"/>
<circle cx="671.55" cy="283.27" r="1.3"/>
</g>
<path d="M576.07 298.7V295.9M576.07 181.7V184.5M610.94 298.7V295.9M610.94 181.7V184.5M645.8 298.7V295.9M645.8 181.7V184.5M541.2 272.38H544M679.8 272.38H677M541.2 246.05H544M679.8 246.05H677M541.2 219.72H544M679.8 219.72H677M541.2 193.4H544M679.8 193.4H677" stroke="#262626" stroke-width="1.25" fill="none"/>
<rect x="541.2" y="181.7" width="138.6" height="117" fill="none" stroke="#262626" stroke-width="1.25"/>
<text x="541.2" y="308.2" font-size="8.0" font-weight="bold" text-anchor="middle" fill="#262626" letter-spacing="-0.3">50</text>
<text x="576.07" y="308.2" font-size="8.0" font-weight="bold" text-anchor="middle" fill="#262626" letter-spacing="-0.3">54</text>
<text x="610.94" y="308.2" font-size="8.0" font-weight="bold" text-anchor="middle" fill="#262626" letter-spacing="-0.3">58</text>
<text x="645.8" y="308.2" font-size="8.0" font-weight="bold" text-anchor="middle" fill="#262626" letter-spacing="-0.3">62</text>
<text x="538.7" y="301.56" font-size="8.0" font-weight="bold" text-anchor="end" fill="#262626" letter-spacing="-0.3">0</text>
<text x="538.7" y="275.24" font-size="8.0" font-weight="bold" text-anchor="end" fill="#262626" letter-spacing="-0.3">0.0113</text>
<text x="538.7" y="248.91" font-size="8.0" font-weight="bold" text-anchor="end" fill="#262626" letter-spacing="-0.3">0.0225</text>
<text x="538.7" y="222.59" font-size="8.0" font-weight="bold" text-anchor="end" fill="#262626" letter-spacing="-0.3">0.0338</text>
<text x="538.7" y="196.26" font-size="8.0" font-weight="bold" text-anchor="end" fill="#262626" letter-spacing="-0.3">0.045</text>
<text x="610.5" y="317.6" font-size="8.4" font-weight="bold" text-anchor="middle" fill="#262626">Distance to Focus (mm)</text>
<text x="512.8" y="240.2" font-size="8.2" font-weight="bold" text-anchor="middle" fill="#262626" transform="rotate(-90 512.8 240.2)">Normalized Contribution</text>
<text x="675.2" y="193.2" font-size="6.4" font-weight="bold" text-anchor="end" fill="#262626" word-spacing="0.75"><tspan font-style="italic">&#961;</tspan> = -0.16, p = 0.001</text>
<path d="M28.2 345.4L38.6 357.39M37.57 354.37L38.6 357.39L35.75 355.94M40.26 345.4L48.28 357.25M47.61 354.13L48.28 357.25L45.63 355.47M52.31 345.4L57.35 357.34M57.3 354.14L57.35 357.34L55.09 355.07M64.37 345.4L67.25 357.47M67.73 354.3L67.25 357.47L65.4 354.86M76.42 345.4L76.21 357.51M77.46 354.57L76.21 357.51L75.06 354.52M88.48 345.4L85.8 357.32M87.62 354.69L85.8 357.32L85.28 354.17M100.53 345.4L95.02 357.4M97.35 355.2L95.02 357.4L95.17 354.2M112.59 345.4L104.49 357.08M107.16 355.32L104.49 357.08L105.19 353.96M124.64 345.4L114.05 357.47M116.91 356.03L114.05 357.47L115.1 354.45M136.7 345.4L123.69 357.12M126.7 356.03L123.69 357.12L125.09 354.25M28.2 357.44L38.89 366.68M37.43 363.83L38.89 366.68L35.86 365.65M40.26 357.44L48.32 366.95M47.31 363.91L48.32 366.95L45.49 365.46M52.31 357.44L57.6 366.99M57.23 363.95L57.6 366.99L55.23 365.06M64.37 357.44L67.25 366.83M67.48 364.09L67.25 366.83L65.51 364.69M76.42 357.44L76.49 366.97M77.47 364.49L76.49 366.97L75.47 364.5M88.48 357.44L86.12 366.74M87.7 364.57L86.12 366.74L85.75 364.08M100.53 357.44L95.5 366.52M97.76 364.69L95.5 366.52L95.86 363.64M112.59 357.44L104.87 366.65M107.69 365.15L104.87 366.65L105.86 363.61M124.64 357.44L114.31 366.55M117.32 365.49L114.31 366.55L115.74 363.69M136.7 357.44L123.28 366.67M126.4 365.98L123.28 366.67L125.04 364M28.2 369.49L38.65 375.86M36.74 373.29L38.65 375.86L35.5 375.34M40.26 369.49L47.99 375.9M46.65 373.43L47.99 375.9L45.31 375.05M52.31 369.49L57.76 376.06M57.03 373.78L57.76 376.06L55.65 374.93M64.37 369.49L66.9 376.26M66.95 374.24L66.9 376.26L65.53 374.77M76.42 369.49L76.61 376.31M77.28 374.52L76.61 376.31L75.85 374.56M88.48 369.49L85.92 375.95M87.26 374.54L85.92 375.95L85.9 374M100.53 369.49L95.41 376.05M97.43 374.88L95.41 376.05L96.05 373.81M112.59 369.49L104.89 376.09M107.58 375.19L104.89 376.09L106.2 373.57M124.64 369.49L113.87 376.2M117.03 375.65L113.87 376.2L115.76 373.62M136.7 369.49L123.57 376.39M126.75 376.07L123.57 376.39L125.64 373.95M28.2 381.53L39.02 385.37M36.62 383.25L39.02 385.37L35.82 385.51M40.26 381.53L48.44 385.24M46.7 383.42L48.44 385.24L45.92 385.14M52.31 381.53L57.41 385.48M56.5 383.92L57.41 385.48L55.67 384.99M64.37 381.53L67.25 385.78M66.95 384.38L67.25 385.78L66.06 384.98M76.42 381.53L76.68 385.48M77.02 384.43L76.68 385.48L76.2 384.48M88.48 381.53L85.54 385.56M86.72 384.82L85.54 385.56L85.88 384.2M100.53 381.53L95.49 385.5M97.21 385L95.49 385.5L96.38 383.94M112.59 381.53L104.79 385.66M107.25 385.41L104.79 385.66L106.38 383.77M124.64 381.53L114.05 385.54M117.22 385.61L114.05 385.54L116.38 383.39M136.7 381.53L123.31 385.75M126.5 386L123.31 385.75L125.78 383.72M28.2 393.58L39.09 394.93M38.15 394.41L39.09 394.93L38.05 395.21M40.26 393.58L47.98 395.05M47.33 394.64L47.98 395.05L47.23 395.2M52.31 393.58L57.41 394.64M56.99 394.36L57.41 394.64L56.91 394.73M64.37 393.58L66.86 395.13M66.69 394.9L66.86 395.13L66.58 395.08M76.42 393.58L76.41 394.82M76.46 394.71L76.41 394.82L76.37 394.7M88.48 393.58L85.82 394.73M86.11 394.72L85.82 394.73L86.02 394.52M100.53 393.58L95.14 394.89M95.68 394.97L95.14 394.89L95.58 394.58M112.59 393.58L104.37 395.02M105.17 395.19L104.37 395.02L105.06 394.58M124.64 393.58L114.01 395.2M115.04 395.44L114.01 395.2L114.92 394.66M136.7 393.58L123.46 395.19M124.54 395.48L123.46 395.19L124.44 394.64M28.2 405.62L39.02 404.23M37.99 403.96L39.02 404.23L38.09 404.76M40.26 405.62L48.15 404.49M47.39 404.3L48.15 404.49L47.47 404.88M52.31 405.62L57.52 404.48M57 404.39L57.52 404.48L57.08 404.77M64.37 405.62L67.13 404.55M66.84 404.54L67.13 404.55L66.92 404.75M76.42 405.62L76.3 404.05M76.25 404.2L76.3 404.05L76.37 404.19M88.48 405.62L86.07 404.16M86.23 404.38L86.07 404.16L86.34 404.2M100.53 405.62L95.06 404.01M95.5 404.36L95.06 404.01L95.62 403.96M112.59 405.62L104.75 404.49M105.42 404.88L104.75 404.49L105.5 404.31M124.64 405.62L114.33 404.58M115.23 405.05L114.33 404.58L115.3 404.3M136.7 405.62L123.58 404.14M124.56 404.68L123.58 404.14L124.66 403.84M28.2 417.67L38.75 413.88M35.62 413.76L38.75 413.88L36.41 415.97M40.26 417.67L48.18 413.56M45.69 413.8L48.18 413.56L46.55 415.46M52.31 417.67L57.52 413.45M55.73 414L57.52 413.45L56.61 415.09M64.37 417.67L66.77 413.86M65.75 414.6L66.77 413.86L66.55 415.1M76.42 417.67L76.35 413.91M75.97 414.89L76.35 413.91L76.76 414.87M88.48 417.67L85.71 413.59M86 414.94L85.71 413.59L86.86 414.36M100.53 417.67L95.32 413.83M96.27 415.37L95.32 413.83L97.07 414.28M112.59 417.67L104.91 413.59M106.48 415.45L104.91 413.59L107.33 413.84M124.64 417.67L113.75 413.69M116.13 415.84L113.75 413.69L116.95 413.58M136.7 417.67L123.61 413.42M126.06 415.47L123.61 413.42L126.8 413.19M28.2 429.71L39.06 423.29M35.89 423.77L39.06 423.29L37.11 425.83M40.26 429.71L48.13 423.16M45.4 424.03L48.13 423.16L46.77 425.69M52.31 429.71L57.5 423.18M55.46 424.33L57.5 423.18L56.84 425.42M64.37 429.71L66.94 422.88M65.55 424.38L66.94 422.88L66.99 424.92M76.42 429.71L76.18 423.17M75.56 424.9L76.18 423.17L76.93 424.85M88.48 429.71L85.68 423.23M85.72 425.2L85.68 423.23L87.08 424.62M100.53 429.71L95.16 423.37M95.89 425.58L95.16 423.37L97.22 424.45M112.59 429.71L104.43 423.28M105.87 425.81L104.43 423.28L107.22 424.1M124.64 429.71L114.08 422.89M115.92 425.51L114.08 422.89L117.22 423.5M136.7 429.71L123.59 423.15M125.71 425.55L123.59 423.15L126.78 423.4M28.2 441.76L38.63 432.33M35.63 433.43L38.63 432.33L37.24 435.2M40.26 441.76L48.51 432.68M45.63 434.07L48.51 432.68L47.4 435.68M52.31 441.76L57.69 432.54M55.33 434.37L57.69 432.54L57.26 435.5M64.37 441.76L67.01 432.72M65.38 434.79L67.01 432.72L67.27 435.34M76.42 441.76L76.62 432.28M75.58 434.72L76.62 432.28L77.56 434.76M88.48 441.76L85.65 432.3M85.39 435.05L85.65 432.3L87.37 434.46M100.53 441.76L95.16 432.63M95.6 435.56L95.16 432.63L97.51 434.44M112.59 441.76L104.67 432.71M105.72 435.73L104.67 432.71L107.53 434.15M124.64 441.76L114.19 432.38M115.6 435.25L114.19 432.38L117.2 433.46M136.7 441.76L123.21 432.38M124.96 435.06L123.21 432.38L126.33 433.09M28.2 453.8L38.98 441.77M36.1 443.18L38.98 441.77L37.89 444.78M40.26 453.8L48.21 441.97M45.56 443.76L48.21 441.97L47.55 445.1M52.31 453.8L57.83 441.81M55.5 444.01L57.83 441.81L57.67 445.01M64.37 453.8L67.14 442.09M65.29 444.71L67.14 442.09L67.62 445.26M76.42 453.8L76.66 442.13M75.4 445.07L76.66 442.13L77.8 445.12M88.48 453.8L85.95 441.81M85.39 444.96L85.95 441.81L87.73 444.47M100.53 453.8L95.18 441.78M95.29 444.98L95.18 441.78L97.49 444M112.59 453.8L104.84 441.64M105.42 444.79L104.84 441.64L107.44 443.5M124.64 453.8L114.33 442.14M115.4 445.16L114.33 442.14L117.19 443.57M136.7 453.8L123.5 442.09M124.92 444.95L123.5 442.09L126.51 443.16" stroke="#d9601f" stroke-width="0.8" fill="none" stroke-linecap="round" stroke-linejoin="round"/>
<path d="M28.2 345.4L34.05 354.9M33.55 351.95L34.05 354.9L31.64 353.12M40.26 345.4L41.87 354.55M42.5 351.62L41.87 354.55L40.28 352.01M52.31 345.4L51.97 354.44M53.2 351.7L51.97 354.44L50.95 351.62M64.37 345.4L58.45 353.74M60.98 352.12L58.45 353.74L59.14 350.82M76.42 345.4L67.23 354.66M69.98 353.48L67.23 354.66L68.39 351.89M88.48 345.4L76.97 354.47M79.85 353.63L76.97 354.47L78.46 351.86M100.53 345.4L89.86 354.8M92.69 353.81L89.86 354.8L91.2 352.12M112.59 345.4L101.19 354.84M104.05 353.94L101.19 354.84L102.61 352.2M124.64 345.4L113.48 354.15M116.36 353.32L113.48 354.15L114.98 351.55M136.7 345.4L125 354.61M127.88 353.77L125 354.61L126.49 352M28.2 357.44L34.98 366.2M34.17 363.31L34.98 366.2L32.39 364.69M40.26 357.44L42.37 366.67M42.84 363.71L42.37 366.67L40.65 364.21M52.31 357.44L51.55 366.64M52.9 363.96L51.55 366.64L50.66 363.78M64.37 357.44L58.48 366.92M60.91 365.15L58.48 366.92L59 363.97M76.42 357.44L67.07 366.42M69.85 365.3L67.07 366.42L68.3 363.68M88.48 357.44L77.4 367.39M80.22 366.37L77.4 367.39L78.72 364.69M100.53 357.44L88.52 367.2M91.38 366.32L88.52 367.2L89.97 364.57M112.59 357.44L101 366.78M103.87 365.91L101 366.78L102.46 364.16M124.64 357.44L113.52 366.73M116.37 365.81L113.52 366.73L114.93 364.08M136.7 357.44L124.84 366.29M127.74 365.53L124.84 366.29L126.4 363.73M28.2 369.49L34.58 376.72M33.58 373.89L34.58 376.72L31.9 375.37M40.26 369.49L41.39 377.12M42.02 374.49L41.39 377.12L40.02 374.79M52.31 369.49L51.06 376.81M52.43 374.6L51.06 376.81L50.51 374.27M64.37 369.49L58.03 377.47M60.64 375.99L58.03 377.47L58.88 374.6M76.42 369.49L66.68 378.38M69.49 377.33L66.68 378.38L67.98 375.67M88.48 369.49L76.66 376.76M79.62 376.26L76.66 376.76L78.44 374.35M100.53 369.49L90.35 378.68M93.17 377.65L90.35 378.68L91.66 375.98M112.59 369.49L100.41 377.02M103.36 376.51L100.41 377.02L102.18 374.6M124.64 369.49L114.13 378.57M116.97 377.6L114.13 378.57L115.5 375.9M136.7 369.49L126.03 377.5M128.93 376.72L126.03 377.5L127.58 374.93M28.2 381.53L35.51 387.1M33.98 384.52L35.51 387.1L32.62 386.31M40.26 381.53L40.84 387.63M41.45 385.58L40.84 387.63L39.85 385.73M52.31 381.53L51.92 386.51M52.7 384.95L51.92 386.51L51.4 384.84M64.37 381.53L58.36 385.68M60.86 385.12L58.36 385.68L59.77 383.54M76.42 381.53L66.17 385.69M69.17 385.68L66.17 385.69L68.32 383.6M88.48 381.53L77.12 386.69M80.11 386.56L77.12 386.69L79.18 384.52M100.53 381.53L90.63 385.51M93.63 385.52L90.63 385.51L92.79 383.43M112.59 381.53L102.69 385.43M105.69 385.46L102.69 385.43L104.87 383.36M124.64 381.53L113.88 386.48M116.88 386.34L113.88 386.48L115.94 384.3M136.7 381.53L126.61 387.04M129.59 386.69L126.61 387.04L128.51 384.72M28.2 393.58L33.83 394.82M33.25 394.42L33.83 394.82L33.14 394.94M40.26 393.58L41.95 393.65M41.76 393.57L41.95 393.65L41.75 393.72M52.31 393.58L50.9 395.51M51.15 395.35L50.9 395.51L50.98 395.22M64.37 393.58L57.87 393.97M58.62 394.22L57.87 393.97L58.59 393.63M76.42 393.58L67.89 393.73M68.86 394.11L67.89 393.73L68.85 393.32M88.48 393.58L76.7 394.82M77.71 395.1L76.7 394.82L77.63 394.32M100.53 393.58L90.01 393.37M90.97 393.78L90.01 393.37L90.99 393M112.59 393.58L102.77 393.2M103.73 393.63L102.77 393.2L103.76 392.85M124.64 393.58L114.44 395.53M115.47 395.74L114.44 395.53L115.33 394.96M136.7 393.58L124.63 394.29M125.63 394.63L124.63 394.29L125.58 393.84M28.2 405.62L34.7 404.72M33.92 404.52L34.7 404.72L34 405.12M40.26 405.62L42.73 404.2M42.38 404.24L42.73 404.2L42.51 404.47M64.37 405.62L59.57 405.16M60.1 405.44L59.57 405.16L60.14 405M76.42 405.62L67.64 405.7M68.61 406.09L67.64 405.7L68.61 405.3M88.48 405.62L78.21 405.88M79.2 406.24L78.21 405.88L79.18 405.46M100.53 405.62L88.76 404.17M89.68 404.68L88.76 404.17L89.78 403.9M112.59 405.62L102.35 405.3M103.31 405.72L102.35 405.3L103.34 404.93M124.64 405.62L113.5 405.85M114.48 406.23L113.5 405.85L114.46 405.44M136.7 405.62L125.9 404.05M126.81 404.58L125.9 404.05L126.92 403.8M28.2 417.67L33.67 412.73M31.25 413.62L33.67 412.73L32.54 415.05M40.26 417.67L40.55 412.7M39.8 414.28L40.55 412.7L41.1 414.35M52.31 417.67L51.44 413.08M51.12 414.68L51.44 413.08L52.33 414.45M64.37 417.67L57.75 412.58M59.23 415.1L57.75 412.58L60.56 413.36M76.42 417.67L67.71 413.22M69.68 415.48L67.71 413.22L70.7 413.48M88.48 417.67L78.42 412.67M80.41 414.91L78.42 412.67L81.41 412.9M100.53 417.67L88.8 412.37M90.88 414.54L88.8 412.37L91.8 412.49M112.59 417.67L102.43 411.82M104.28 414.18L102.43 411.82L105.4 412.23M124.64 417.67L113.12 412.88M115.26 414.98L113.12 412.88L116.12 412.91M136.7 417.67L125.7 412.34M127.71 414.57L125.7 412.34L128.69 412.54M28.2 429.71L35.77 422.22M33 423.38L35.77 422.22L34.58 424.98M40.26 429.71L41.7 421.33M40.13 423.86L41.7 421.33L42.33 424.24M52.31 429.71L52.63 421.02M51.41 423.76L52.63 421.02L53.65 423.85M64.37 429.71L58.42 421.38M59.12 424.29L58.42 421.38L60.95 422.99M76.42 429.71L66.4 422.38M67.98 424.93L66.4 422.38L69.31 423.11M88.48 429.71L78.79 420.85M80.09 423.56L78.79 420.85L81.6 421.9M100.53 429.71L89.31 421.23M90.85 423.81L89.31 421.23L92.21 422.01M112.59 429.71L101.17 422.55M102.93 424.98L101.17 422.55L104.12 423.08M124.64 429.71L114.83 422.61M116.42 425.15L114.83 422.61L117.74 423.33M136.7 429.71L126.31 422.72M127.99 425.2L126.31 422.72L129.24 423.34M28.2 441.76L35.47 432.66M32.86 434.13L35.47 432.66L34.61 435.54M40.26 441.76L41.64 432.04M40.14 434.64L41.64 432.04L42.36 434.96M52.31 441.76L51.87 433.53M50.94 436.26L51.87 433.53L53.09 436.14M64.37 441.76L58.97 432.05M59.34 435.02L58.97 432.05L61.31 433.93M76.42 441.76L67.74 433.89M69.05 436.59L67.74 433.89L70.56 434.92M88.48 441.76L78.13 432.76M79.49 435.43L78.13 432.76L80.96 433.73M100.53 441.76L89.15 431.97M90.53 434.64L89.15 431.97L91.99 432.93M112.59 441.76L102.69 431.92M103.87 434.67L102.69 431.92L105.46 433.08M124.64 441.76L114.77 432.6M116.05 435.31L114.77 432.6L117.58 433.67M136.7 441.76L125.74 432.08M127.08 434.77L125.74 432.08L128.57 433.08M28.2 453.8L35.43 444.16M32.86 445.71L35.43 444.16L34.66 447.06M40.26 453.8L40.89 444.3M39.58 447L40.89 444.3L41.82 447.15M52.31 453.8L51.32 445.09M50.52 447.98L51.32 445.09L52.75 447.72M64.37 453.8L58.9 445.66M59.52 448.59L58.9 445.66L61.38 447.34M76.42 453.8L67.78 445.27M68.97 448.03L67.78 445.27L70.55 446.43M88.48 453.8L76.7 445.82M78.37 448.31L76.7 445.82L79.63 446.45M100.53 453.8L89.66 445.42M91.18 448.01L89.66 445.42L92.55 446.23M112.59 453.8L102.27 445.86M103.79 448.45L102.27 445.86L105.16 446.67M124.64 453.8L113.82 445.74M115.38 448.3L113.82 445.74L116.72 446.5M136.7 453.8L126.88 444.51M128.12 447.23L126.88 444.51L129.67 445.6" stroke="#4474e0" stroke-width="0.8" fill="none" stroke-linecap="round" stroke-linejoin="round"/>
<line x1="199.77" y1="337.1" x2="199.77" y2="453.7" stroke="#dadada" stroke-width="0.9"/>
<line x1="220.79" y1="337.1" x2="220.79" y2="453.7" stroke="#dadada" stroke-width="0.9"/>
<line x1="241.81" y1="337.1" x2="241.81" y2="453.7" stroke="#dadada" stroke-width="0.9"/>
<line x1="262.84" y1="337.1" x2="262.84" y2="453.7" stroke="#dadada" stroke-width="0.9"/>
<line x1="283.87" y1="337.1" x2="283.87" y2="453.7" stroke="#dadada" stroke-width="0.9"/>
<line x1="304.89" y1="337.1" x2="304.89" y2="453.7" stroke="#dadada" stroke-width="0.9"/>
<line x1="181" y1="424.55" x2="319.6" y2="424.55" stroke="#dadada" stroke-width="0.9"/>
<line x1="181" y1="395.4" x2="319.6" y2="395.4" stroke="#dadada" stroke-width="0.9"/>
<line x1="181" y1="366.25" x2="319.6" y2="366.25" stroke="#dadada" stroke-width="0.9"/>
<rect x="187.15" y="442.04" width="8.41" height="11.66" fill="#8fc9e0" stroke="#5f93a8" stroke-width="0.7"/>
<rect x="195.56" y="447.87" width="8.41" height="5.83" fill="#8fc9e0" stroke="#5f93a8" stroke-width="0.7"/>
<rect x="203.97" y="418.72" width="8.41" height="34.98" fill="#8fc9e0" stroke="#5f93a8" stroke-width="0.7"/>
<rect x="212.38" y="430.38" width="8.41" height="23.32" fill="#8fc9e0" stroke="#5f93a8" stroke-width="0.7"/>
<rect x="220.79" y="424.55" width="8.41" height="29.15" fill="#8fc9e0" stroke="#5f93a8" stroke-width="0.7"/>
<rect x="229.2" y="407.06" width="8.41" height="46.64" fill="#8fc9e0" stroke="#5f93a8" stroke-width="0.7"/>
<rect x="237.61" y="412.89" width="8.41" height="40.81" fill="#8fc9e0" stroke="#5f93a8" stroke-width="0.7"/>
<rect x="246.02" y="407.06" width="8.41" height="46.64" fill="#8fc9e0" stroke="#5f93a8" stroke-width="0.7"/>
<rect x="254.43" y="366.25" width="8.41" height="87.45" fill="#8fc9e0" stroke="#5f93a8" stroke-width="0.7"/>
<rect x="262.84" y="412.89" width="8.41" height="40.81" fill="#8fc9e0" stroke="#5f93a8" stroke-width="0.7"/>
<rect x="271.25" y="360.42" width="8.41" height="93.28" fill="#8fc9e0" stroke="#5f93a8" stroke-width="0.7"/>
<rect x="279.66" y="401.23" width="8.41" height="52.47" fill="#8fc9e0" stroke="#5f93a8" stroke-width="0.7"/>
<rect x="288.07" y="407.06" width="8.41" height="46.64" fill="#8fc9e0" stroke="#5f93a8" stroke-width="0.7"/>
<rect x="296.48" y="447.87" width="8.41" height="5.83" fill="#8fc9e0" stroke="#5f93a8" stroke-width="0.7"/>
<rect x="304.89" y="436.21" width="8.41" height="17.49" fill="#8fc9e0" stroke="#5f93a8" stroke-width="0.7"/>
<path d="M199.77 453.7V450.9M199.77 337.1V339.9M220.79 453.7V450.9M220.79 337.1V339.9M241.81 453.7V450.9M241.81 337.1V339.9M262.84 453.7V450.9M262.84 337.1V339.9M283.87 453.7V450.9M283.87 337.1V339.9M304.89 453.7V450.9M304.89 337.1V339.9M181 424.55H183.8M319.6 424.55H316.8M181 395.4H183.8M319.6 395.4H316.8M181 366.25H183.8M319.6 366.25H316.8" stroke="#262626" stroke-width="1.25" fill="none"/>
<rect x="181" y="337.1" width="138.6" height="116.6" fill="none" stroke="#262626" stroke-width="1.25"/>
<text x="199.77" y="463.2" font-size="8.0" font-weight="bold" text-anchor="middle" fill="#262626" letter-spacing="-0.3">5</text>
<text x="220.79" y="463.2" font-size="8.0" font-weight="bold" text-anchor="middle" fill="#262626" letter-spacing="-0.3">10</text>
<text x="241.81" y="463.2" font-size="8.0" font-weight="bold" text-anchor="middle" fill="#262626" letter-spacing="-0.3">15</text>
<text x="262.84" y="463.2" font-size="8.0" font-weight="bold" text-anchor="middle" fill="#262626" letter-spacing="-0.3">20</text>
<text x="283.87" y="463.2" font-size="8.0" font-weight="bold" text-anchor="middle" fill="#262626" letter-spacing="-0.3">25</text>
<text x="304.89" y="463.2" font-size="8.0" font-weight="bold" text-anchor="middle" fill="#262626" letter-spacing="-0.3">30</text>
<text x="178.5" y="456.56" font-size="8.0" font-weight="bold" text-anchor="end" fill="#262626" letter-spacing="-0.3">0</text>
<text x="178.5" y="427.41" font-size="8.0" font-weight="bold" text-anchor="end" fill="#262626" letter-spacing="-0.3">5</text>
<text x="178.5" y="398.26" font-size="8.0" font-weight="bold" text-anchor="end" fill="#262626" letter-spacing="-0.3">10</text>
<text x="178.5" y="369.11" font-size="8.0" font-weight="bold" text-anchor="end" fill="#262626" letter-spacing="-0.3">15</text>
<text x="178.5" y="339.96" font-size="8.0" font-weight="bold" text-anchor="end" fill="#262626" letter-spacing="-0.3">20</text>
<text x="250.3" y="472.6" font-size="8.4" font-weight="bold" text-anchor="middle" fill="#262626">Incident Angle (°)</text>
<text x="167.3" y="395.4" font-size="8.2" font-weight="bold" text-anchor="middle" fill="#262626" transform="rotate(-90 167.3 395.4)">Number of Elements</text>
<line x1="400.79" y1="337.1" x2="400.79" y2="453.7" stroke="#dadada" stroke-width="0.9"/>
<line x1="440.58" y1="337.1" x2="440.58" y2="453.7" stroke="#dadada" stroke-width="0.9"/>
<line x1="480.37" y1="337.1" x2="480.37" y2="453.7" stroke="#dadada" stroke-width="0.9"/>
<line x1="361" y1="424.55" x2="499.7" y2="424.55" stroke="#dadada" stroke-width="0.9"/>
<line x1="361" y1="395.4" x2="499.7" y2="395.4" stroke="#dadada" stroke-width="0.9"/>
<line x1="361" y1="366.25" x2="499.7" y2="366.25" stroke="#dadada" stroke-width="0.9"/>
<g fill="#4ba2d4" stroke="#2f6688" stroke-width="0.55">
<circle cx="420.25" cy="345.11" r="1.3"/>
<circle cx="431.61" cy="346.12" r="1.3"/>
<circle cx="420.25" cy="358.29" r="1.3"/>
<circle cx="420.86" cy="360.32" r="1.3"/>
<circle cx="440.54" cy="352.82" r="1.3"/>
<circle cx="443.79" cy="359.3" r="1.3"/>
<circle cx="445.2" cy="359.3" r="1.3"/>
<circle cx="446.23" cy="355.24" r="1.3"/>
<circle cx="450.28" cy="353.21" r="1.3"/>
<circle cx="450.7" cy="356.86" r="1.3"/>
<circle cx="432.03" cy="364.37" r="1.3"/>
<circle cx="435.07" cy="365.39" r="1.3"/>
<circle cx="438.1" cy="368.43" r="1.3"/>
<circle cx="440.54" cy="365.39" r="1.3"/>
<circle cx="443.18" cy="362.34" r="1.3"/>
<circle cx="446.63" cy="367.42" r="1.3"/>
<circle cx="443.79" cy="373.09" r="1.3"/>
<circle cx="472.61" cy="363.36" r="1.3"/>
<circle cx="474.64" cy="365.39" r="1.3"/>
<circle cx="475.65" cy="370.46" r="1.3"/>
<circle cx="475.65" cy="377.55" r="1.3"/>
<circle cx="393.87" cy="369.44" r="1.3"/>
<circle cx="393.07" cy="375.11" r="1.3"/>
<circle cx="389.41" cy="380.59" r="1.3"/>
<circle cx="391.44" cy="379.58" r="1.3"/>
<circle cx="393.47" cy="380.59" r="1.3"/>
<circle cx="392.46" cy="382.62" r="1.3"/>
<circle cx="393.87" cy="386.68" r="1.3"/>
<circle cx="395.9" cy="387.28" r="1.3"/>
<circle cx="393.07" cy="391.74" r="1.3"/>
<circle cx="402.6" cy="375.52" r="1.3"/>
<circle cx="404.02" cy="380.59" r="1.3"/>
<circle cx="405.65" cy="384.65" r="1.3"/>
<circle cx="407.27" cy="390.12" r="1.3"/>
<circle cx="408.07" cy="393.36" r="1.3"/>
<circle cx="408.69" cy="396.81" r="1.3"/>
<circle cx="409.7" cy="401.47" r="1.3"/>
<circle cx="410.1" cy="404.31" r="1.3"/>
<circle cx="410.71" cy="409.58" r="1.3"/>
<circle cx="411.32" cy="413.64" r="1.3"/>
<circle cx="415.38" cy="390.12" r="1.3"/>
<circle cx="416.19" cy="399.85" r="1.3"/>
<circle cx="414.77" cy="403.91" r="1.3"/>
<circle cx="414.16" cy="406.94" r="1.3"/>
<circle cx="413.36" cy="409.99" r="1.3"/>
<circle cx="411.74" cy="414.04" r="1.3"/>
<circle cx="420.25" cy="380.59" r="1.3"/>
<circle cx="420.25" cy="385.26" r="1.3"/>
<circle cx="421.47" cy="388.7" r="1.3"/>
<circle cx="426.34" cy="394.78" r="1.3"/>
<circle cx="433.65" cy="405.93" r="1.3"/>
<circle cx="420.86" cy="404.93" r="1.3"/>
<circle cx="432.03" cy="393.77" r="1.3"/>
<circle cx="434.46" cy="390.12" r="1.3"/>
<circle cx="436.48" cy="388.7" r="1.3"/>
<circle cx="437.7" cy="387.69" r="1.3"/>
<circle cx="439.13" cy="386.68" r="1.3"/>
<circle cx="440.14" cy="384.04" r="1.3"/>
<circle cx="440.54" cy="378.56" r="1.3"/>
<circle cx="442.17" cy="384.04" r="1.3"/>
<circle cx="443.79" cy="388.09" r="1.3"/>
<circle cx="449.88" cy="394.18" r="1.3"/>
<circle cx="462.46" cy="379.99" r="1.3"/>
<circle cx="462.86" cy="385.66" r="1.3"/>
<circle cx="464.48" cy="387.28" r="1.3"/>
<circle cx="466.52" cy="387.69" r="1.3"/>
<circle cx="461.45" cy="391.74" r="1.3"/>
<circle cx="462.86" cy="394.18" r="1.3"/>
<circle cx="465.51" cy="396.2" r="1.3"/>
<circle cx="467.54" cy="395.8" r="1.3"/>
<circle cx="472.2" cy="400.26" r="1.3"/>
<circle cx="438.1" cy="397.83" r="1.3"/>
<circle cx="439.73" cy="396.81" r="1.3"/>
<circle cx="441.36" cy="395.8" r="1.3"/>
<circle cx="389.41" cy="395.8" r="1.3"/>
<circle cx="391.44" cy="400.26" r="1.3"/>
<circle cx="393.47" cy="403.91" r="1.3"/>
<circle cx="388.39" cy="403.91" r="1.3"/>
<circle cx="387.38" cy="408.97" r="1.3"/>
<circle cx="386.37" cy="411.61" r="1.3"/>
<circle cx="395.49" cy="414.04" r="1.3"/>
<circle cx="397.12" cy="416.48" r="1.3"/>
<circle cx="398.55" cy="420.13" r="1.3"/>
<circle cx="409.7" cy="420.13" r="1.3"/>
<circle cx="410.1" cy="423.78" r="1.3"/>
<circle cx="446.23" cy="401.47" r="1.3"/>
<circle cx="447.85" cy="405.53" r="1.3"/>
<circle cx="450.28" cy="409.58" r="1.3"/>
<circle cx="451.29" cy="411.61" r="1.3"/>
<circle cx="454.35" cy="406.34" r="1.3"/>
<circle cx="457.99" cy="407.56" r="1.3"/>
<circle cx="460.43" cy="409.99" r="1.3"/>
<circle cx="464.08" cy="405.93" r="1.3"/>
<circle cx="448.26" cy="417.09" r="1.3"/>
<circle cx="451.9" cy="415.67" r="1.3"/>
<circle cx="453.33" cy="419.72" r="1.3"/>
<circle cx="456.37" cy="421.15" r="1.3"/>
<circle cx="458.4" cy="414.04" r="1.3"/>
<circle cx="460.84" cy="417.09" r="1.3"/>
<circle cx="462.46" cy="420.13" r="1.3"/>
<circle cx="471.59" cy="409.99" r="1.3"/>
<circle cx="473.01" cy="414.04" r="1.3"/>
<circle cx="474.23" cy="419.72" r="1.3"/>
<circle cx="475.65" cy="424.58" r="1.3"/>
<circle cx="427.96" cy="422.16" r="1.3"/>
<circle cx="429.59" cy="419.72" r="1.3"/>
<circle cx="431" cy="423.17" r="1.3"/>
<circle cx="432.43" cy="420.53" r="1.3"/>
<circle cx="434.05" cy="419.12" r="1.3"/>
<circle cx="435.68" cy="421.75" r="1.3"/>
<circle cx="494.93" cy="386.68" r="1.3"/>
<circle cx="496.55" cy="381.2" r="1.3"/>
<circle cx="494.93" cy="384.04" r="1.3"/>
<circle cx="497.97" cy="400.26" r="1.3"/>
<circle cx="378.25" cy="430.26" r="1.3"/>
<circle cx="378.85" cy="432.29" r="1.3"/>
<circle cx="376.83" cy="447.5" r="1.3"/>
<circle cx="378.25" cy="452.16" r="1.3"/>
<circle cx="379.67" cy="452.98" r="1.3"/>
<circle cx="398.55" cy="429.25" r="1.3"/>
<circle cx="397.94" cy="431.88" r="1.3"/>
<circle cx="399.56" cy="432.7" r="1.3"/>
<circle cx="392.46" cy="441.41" r="1.3"/>
<circle cx="393.87" cy="443.44" r="1.3"/>
<circle cx="395.9" cy="445.47" r="1.3"/>
<circle cx="401.58" cy="441.41" r="1.3"/>
<circle cx="402.6" cy="444.45" r="1.3"/>
<circle cx="403.61" cy="439.39" r="1.3"/>
<circle cx="399.96" cy="447.5" r="1.3"/>
<circle cx="416.8" cy="442.42" r="1.3"/>
<circle cx="415.79" cy="444.45" r="1.3"/>
<circle cx="413.76" cy="446.48" r="1.3"/>
<circle cx="411.74" cy="448.51" r="1.3"/>
<circle cx="409.3" cy="449.53" r="1.3"/>
<circle cx="421.88" cy="432.29" r="1.3"/>
<circle cx="422.89" cy="438.38" r="1.3"/>
<circle cx="392.46" cy="453.58" r="1.3"/>
<circle cx="403.61" cy="452.57" r="1.3"/>
<circle cx="405.23" cy="451.55" r="1.3"/>
<circle cx="433.28" cy="448.57" r="1.3"/>
<circle cx="440.93" cy="447.17" r="1.3"/>
<circle cx="434.18" cy="448.97" r="1.3"/>
<circle cx="428.94" cy="447.87" r="1.3"/>
<circle cx="436.16" cy="451.85" r="1.3"/>
<circle cx="427.47" cy="444.62" r="1.3"/>
<circle cx="427.41" cy="452.08" r="1.3"/>
<circle cx="437.19" cy="439.66" r="1.3"/>
<circle cx="441.88" cy="453.7" r="1.3"/>
<circle cx="436.55" cy="449.37" r="1.3"/>
<circle cx="428.49" cy="438.94" r="1.3"/>
<circle cx="434.51" cy="440.07" r="1.3"/>
<circle cx="429.02" cy="443.59" r="1.3"/>
<circle cx="426.42" cy="447.15" r="1.3"/>
<circle cx="433.08" cy="452.51" r="1.3"/>
<circle cx="434.36" cy="449.72" r="1.3"/>
<circle cx="434.05" cy="450.04" r="1.3"/>
<circle cx="433.36" cy="444.2" r="1.3"/>
<circle cx="442.13" cy="453.7" r="1.3"/>
<circle cx="439.57" cy="450.68" r="1.3"/>
<circle cx="431.06" cy="443.37" r="1.3"/>
<circle cx="430.63" cy="440.31" r="1.3"/>
<circle cx="438.38" cy="446.18" r="1.3"/>
<circle cx="439.67" cy="445.96" r="1.3"/>
<circle cx="441.49" cy="452.58" r="1.3"/>
<circle cx="425.94" cy="443.02" r="1.3"/>
<circle cx="440.71" cy="447.24" r="1.3"/>
<circle cx="441.85" cy="446.13" r="1.3"/>
<circle cx="427.12" cy="449.57" r="1.3"/>
<circle cx="438.57" cy="444.06" r="1.3"/>
<circle cx="427.35" cy="445.09" r="1.3"/>
<circle cx="441.58" cy="451.37" r="1.3"/>
<circle cx="427.85" cy="443.66" r="1.3"/>
<circle cx="427.58" cy="440.08" r="1.3"/>
<circle cx="438.87" cy="442.45" r="1.3"/>
<circle cx="435.01" cy="446.9" r="1.3"/>
<circle cx="429.03" cy="451.01" r="1.3"/>
<circle cx="428.06" cy="449.78" r="1.3"/>
<circle cx="427.83" cy="446.49" r="1.3"/>
<circle cx="429.39" cy="444.06" r="1.3"/>
<circle cx="441.7" cy="451.99" r="1.3"/>
<circle cx="430.88" cy="453.08" r="1.3"/>
<circle cx="429.35" cy="446.07" r="1.3"/>
<circle cx="439.81" cy="449.75" r="1.3"/>
<circle cx="427.56" cy="453.7" r="1.3"/>
<circle cx="445.19" cy="434.48" r="1.3"/>
<circle cx="453.14" cy="436.68" r="1.3"/>
<circle cx="446.38" cy="427.94" r="1.3"/>
<circle cx="443.44" cy="443.93" r="1.3"/>
<circle cx="445.62" cy="444.43" r="1.3"/>
<circle cx="447.45" cy="440.33" r="1.3"/>
<circle cx="455.79" cy="441.19" r="1.3"/>
<circle cx="450.32" cy="451.3" r="1.3"/>
<circle cx="444.76" cy="431" r="1.3"/>
<circle cx="455.07" cy="450.07" r="1.3"/>
<circle cx="445.72" cy="432.23" r="1.3"/>
<circle cx="452.67" cy="453.14" r="1.3"/>
<circle cx="444.96" cy="453.37" r="1.3"/>
<circle cx="454.71" cy="444.49" r="1.3"/>
<circle cx="448.16" cy="429.14" r="1.3"/>
<circle cx="442.72" cy="453.69" r="1.3"/>
<circle cx="445.55" cy="447.16" r="1.3"/>
<circle cx="445.82" cy="450.23" r="1.3"/>
<circle cx="450.64" cy="435.59" r="1.3"/>
<circle cx="444.66" cy="447.58" r="1.3"/>
<circle cx="443.14" cy="433.52" r="1.3"/>
<circle cx="450.11" cy="450.95" r="1.3"/>
<circle cx="450.89" cy="435.17" r="1.3"/>
<circle cx="455.21" cy="432.71" r="1.3"/>
<circle cx="442.4" cy="434.82" r="1.3"/>
<circle cx="448.49" cy="427.41" r="1.3"/>
<circle cx="444.68" cy="437.88" r="1.3"/>
<circle cx="450.3" cy="430.18" r="1.3"/>
<circle cx="447.31" cy="451.92" r="1.3"/>
<circle cx="456.09" cy="445.91" r="1.3"/>
<circle cx="451.99" cy="443.98" r="1.3"/>
<circle cx="444.16" cy="426.26" r="1.3"/>
<circle cx="442.42" cy="452.39" r="1.3"/>
<circle cx="452.13" cy="453.69" r="1.3"/>
<circle cx="442.47" cy="445.36" r="1.3"/>
<circle cx="449.02" cy="447.84" r="1.3"/>
<circle cx="446.7" cy="453.7" r="1.3"/>
<circle cx="443.24" cy="442.93" r="1.3"/>
<circle cx="452.64" cy="452.14" r="1.3"/>
<circle cx="452.64" cy="447.15" r="1.3"/>
<circle cx="453.43" cy="452.51" r="1.3"/>
<circle cx="447.16" cy="446.66" r="1.3"/>
<circle cx="454.97" cy="451.41" r="1.3"/>
<circle cx="448.09" cy="449.39" r="1.3"/>
<circle cx="454.43" cy="443.66" r="1.3"/>
<circle cx="451.04" cy="438.27" r="1.3"/>
<circle cx="450.45" cy="444.63" r="1.3"/>
<circle cx="443.3" cy="445.44" r="1.3"/>
<circle cx="456.27" cy="451.64" r="1.3"/>
<circle cx="452.51" cy="438.46" r="1.3"/>
<circle cx="469.8" cy="444.59" r="1.3"/>
<circle cx="464.41" cy="450.85" r="1.3"/>
<circle cx="457.9" cy="448.77" r="1.3"/>
<circle cx="456.91" cy="445.11" r="1.3"/>
<circle cx="465.15" cy="434.97" r="1.3"/>
<circle cx="469.13" cy="442.44" r="1.3"/>
<circle cx="467.59" cy="452.78" r="1.3"/>
<circle cx="461.04" cy="427" r="1.3"/>
<circle cx="461.88" cy="447.02" r="1.3"/>
<circle cx="460.07" cy="433.07" r="1.3"/>
<circle cx="472.92" cy="446.56" r="1.3"/>
<circle cx="464.44" cy="452.1" r="1.3"/>
<circle cx="462.35" cy="446.72" r="1.3"/>
<circle cx="460" cy="440.69" r="1.3"/>
<circle cx="471.09" cy="452.63" r="1.3"/>
<circle cx="472.45" cy="439.42" r="1.3"/>
<circle cx="467.02" cy="437.52" r="1.3"/>
<circle cx="458.85" cy="442.42" r="1.3"/>
<circle cx="471.65" cy="451.1" r="1.3"/>
<circle cx="469.37" cy="453.46" r="1.3"/>
<circle cx="461.43" cy="433.06" r="1.3"/>
<circle cx="464.61" cy="436.31" r="1.3"/>
<circle cx="460.28" cy="440.23" r="1.3"/>
<circle cx="467.8" cy="442.35" r="1.3"/>
<circle cx="462.13" cy="450.88" r="1.3"/>
<circle cx="474.3" cy="441.26" r="1.3"/>
<circle cx="457.73" cy="427.99" r="1.3"/>
<circle cx="472.31" cy="428.43" r="1.3"/>
<circle cx="469.31" cy="444.33" r="1.3"/>
<circle cx="462.02" cy="449.75" r="1.3"/>
<circle cx="456.72" cy="431.95" r="1.3"/>
<circle cx="464.68" cy="427.67" r="1.3"/>
<circle cx="471.53" cy="435.2" r="1.3"/>
<circle cx="458.95" cy="428.67" r="1.3"/>
<circle cx="467.87" cy="441.1" r="1.3"/>
<circle cx="467.88" cy="446.45" r="1.3"/>
<circle cx="471.11" cy="453.64" r="1.3"/>
<circle cx="468.87" cy="434.02" r="1.3"/>
<circle cx="465.05" cy="433.36" r="1.3"/>
<circle cx="456.56" cy="441.78" r="1.3"/>
<circle cx="469.42" cy="433.38" r="1.3"/>
<circle cx="461.35" cy="438.34" r="1.3"/>
<circle cx="469.1" cy="443.04" r="1.3"/>
<circle cx="467.59" cy="448.91" r="1.3"/>
<circle cx="463.55" cy="449.76" r="1.3"/>
<circle cx="472.92" cy="430.24" r="1.3"/>
<circle cx="473.4" cy="448.09" r="1.3"/>
<circle cx="458.74" cy="441.29" r="1.3"/>
<circle cx="467.8" cy="452.53" r="1.3"/>
<circle cx="463.25" cy="444.28" r="1.3"/>
<circle cx="472.43" cy="449.88" r="1.3"/>
<circle cx="473.61" cy="441.56" r="1.3"/>
<circle cx="468.27" cy="434.19" r="1.3"/>
<circle cx="469.56" cy="450.39" r="1.3"/>
<circle cx="468.09" cy="447.97" r="1.3"/>
<circle cx="460.27" cy="452.3" r="1.3"/>
<circle cx="488.56" cy="453.7" r="1.3"/>
<circle cx="482.27" cy="451.12" r="1.3"/>
<circle cx="479.19" cy="453.12" r="1.3"/>
<circle cx="486.79" cy="443.04" r="1.3"/>
<circle cx="475.82" cy="444.85" r="1.3"/>
<circle cx="482.45" cy="450.74" r="1.3"/>
<circle cx="481.56" cy="435.5" r="1.3"/>
<circle cx="486.14" cy="436.57" r="1.3"/>
<circle cx="486" cy="439.3" r="1.3"/>
<circle cx="479.39" cy="451.08" r="1.3"/>
<circle cx="476.63" cy="438.73" r="1.3"/>
<circle cx="481.97" cy="449.97" r="1.3"/>
<circle cx="486.57" cy="449.37" r="1.3"/>
<circle cx="488.06" cy="445.83" r="1.3"/>
<circle cx="488.12" cy="437.17" r="1.3"/>
<circle cx="477.79" cy="446.46" r="1.3"/>
<circle cx="478.76" cy="450.06" r="1.3"/>
<circle cx="483.71" cy="446.39" r="1.3"/>
<circle cx="486.62" cy="447.07" r="1.3"/>
<circle cx="479.06" cy="443.7" r="1.3"/>
<circle cx="486.65" cy="452.97" r="1.3"/>
<circle cx="477.59" cy="452.14" r="1.3"/>
<circle cx="488.4" cy="446.41" r="1.3"/>
<circle cx="482.78" cy="439.94" r="1.3"/>
<circle cx="482.25" cy="446.03" r="1.3"/>
<circle cx="483.24" cy="435.48" r="1.3"/>
<circle cx="488.41" cy="446.26" r="1.3"/>
<circle cx="480.32" cy="451.3" r="1.3"/>
<circle cx="482.63" cy="445.79" r="1.3"/>
<circle cx="484.46" cy="436.62" r="1.3"/>
<circle cx="482.29" cy="444.33" r="1.3"/>
<circle cx="488.23" cy="453.34" r="1.3"/>
<circle cx="478.47" cy="445.46" r="1.3"/>
<circle cx="476.44" cy="444.71" r="1.3"/>
<circle cx="498.31" cy="439.8" r="1.3"/>
<circle cx="495.22" cy="436.24" r="1.3"/>
<circle cx="492.61" cy="438.08" r="1.3"/>
<circle cx="499.31" cy="435.1" r="1.3"/>
<circle cx="497.98" cy="434.46" r="1.3"/>
<circle cx="492.64" cy="435.7" r="1.3"/>
</g>
<path d="M400.79 453.7V450.9M400.79 337.1V339.9M440.58 453.7V450.9M440.58 337.1V339.9M480.37 453.7V450.9M480.37 337.1V339.9M361 424.55H363.8M499.7 424.55H496.9M361 395.4H363.8M499.7 395.4H496.9M361 366.25H363.8M499.7 366.25H496.9" stroke="#262626" stroke-width="1.25" fill="none"/>
<rect x="361" y="337.1" width="138.7" height="116.6" fill="none" stroke="#262626" stroke-width="1.25"/>
<text x="361" y="463.2" font-size="8.0" font-weight="bold" text-anchor="middle" fill="#262626" letter-spacing="-0.3">0</text>
<text x="400.79" y="463.2" font-size="8.0" font-weight="bold" text-anchor="middle" fill="#262626" letter-spacing="-0.3">8.8</text>
<text x="440.58" y="463.2" font-size="8.0" font-weight="bold" text-anchor="middle" fill="#262626" letter-spacing="-0.3">17.5</text>
<text x="480.37" y="463.2" font-size="8.0" font-weight="bold" text-anchor="middle" fill="#262626" letter-spacing="-0.3">26.3</text>
<text x="358.5" y="456.56" font-size="8.0" font-weight="bold" text-anchor="end" fill="#262626" letter-spacing="-0.3">0</text>
<text x="358.5" y="427.41" font-size="8.0" font-weight="bold" text-anchor="end" fill="#262626" letter-spacing="-0.3">0.01</text>
<text x="358.5" y="398.26" font-size="8.0" font-weight="bold" text-anchor="end" fill="#262626" letter-spacing="-0.3">0.02</text>
<text x="358.5" y="369.11" font-size="8.0" font-weight="bold" text-anchor="end" fill="#262626" letter-spacing="-0.3">0.03</text>
<text x="358.5" y="339.96" font-size="8.0" font-weight="bold" text-anchor="end" fill="#262626" letter-spacing="-0.3">0.04</text>
<text x="430.35" y="472.6" font-size="8.4" font-weight="bold" text-anchor="middle" fill="#262626">Incident Angle (°)</text>
<text x="332.6" y="395.4" font-size="8.2" font-weight="bold" text-anchor="middle" fill="#262626" transform="rotate(-90 332.6 395.4)">Normalized Contribution</text>
<text x="495.1" y="348.6" font-size="6.4" font-weight="bold" text-anchor="end" fill="#262626" word-spacing="0.75"><tspan font-style="italic">&#961;</tspan> = -0.15, p = 0.003</text>
<line x1="575.85" y1="337.1" x2="575.85" y2="453.7" stroke="#dadada" stroke-width="0.9"/>
<line x1="610.5" y1="337.1" x2="610.5" y2="453.7" stroke="#dadada" stroke-width="0.9"/>
<line x1="645.15" y1="337.1" x2="645.15" y2="453.7" stroke="#dadada" stroke-width="0.9"/>
<line x1="541.2" y1="424.55" x2="679.8" y2="424.55" stroke="#dadada" stroke-width="0.9"/>
<line x1="541.2" y1="395.4" x2="679.8" y2="395.4" stroke="#dadada" stroke-width="0.9"/>
<line x1="541.2" y1="366.25" x2="679.8" y2="366.25" stroke="#dadada" stroke-width="0.9"/>
<g fill="#d2601f" stroke="#6b3012" stroke-width="0.55">
<circle cx="571.03" cy="345.11" r="1.3"/>
<circle cx="571.03" cy="358.29" r="1.3"/>
<circle cx="571.44" cy="360.32" r="1.3"/>
<circle cx="581.17" cy="353.21" r="1.3"/>
<circle cx="581.59" cy="355.24" r="1.3"/>
<circle cx="581.59" cy="357.27" r="1.3"/>
<circle cx="604.91" cy="355.24" r="1.3"/>
<circle cx="604.91" cy="359.3" r="1.3"/>
<circle cx="605.52" cy="365.39" r="1.3"/>
<circle cx="644.9" cy="346.12" r="1.3"/>
<circle cx="645.51" cy="352.82" r="1.3"/>
<circle cx="644.9" cy="359.3" r="1.3"/>
<circle cx="645.51" cy="367.01" r="1.3"/>
<circle cx="586.66" cy="363.36" r="1.3"/>
<circle cx="586.05" cy="365.39" r="1.3"/>
<circle cx="586.05" cy="370.46" r="1.3"/>
<circle cx="582.6" cy="378.56" r="1.3"/>
<circle cx="586.05" cy="378.56" r="1.3"/>
<circle cx="581.99" cy="386.68" r="1.3"/>
<circle cx="583.61" cy="386.68" r="1.3"/>
<circle cx="581.99" cy="394.18" r="1.3"/>
<circle cx="564.94" cy="365.39" r="1.3"/>
<circle cx="565.34" cy="368.43" r="1.3"/>
<circle cx="564.94" cy="373.09" r="1.3"/>
<circle cx="557.24" cy="369.44" r="1.3"/>
<circle cx="557.64" cy="374.51" r="1.3"/>
<circle cx="561.3" cy="375.52" r="1.3"/>
<circle cx="554.19" cy="380.59" r="1.3"/>
<circle cx="557.24" cy="379.58" r="1.3"/>
<circle cx="561.3" cy="380.59" r="1.3"/>
<circle cx="553.58" cy="386.68" r="1.3"/>
<circle cx="557.64" cy="385.66" r="1.3"/>
<circle cx="560.88" cy="385.26" r="1.3"/>
<circle cx="558.25" cy="389.31" r="1.3"/>
<circle cx="561.3" cy="390.72" r="1.3"/>
<circle cx="565.34" cy="389.71" r="1.3"/>
<circle cx="558.86" cy="393.36" r="1.3"/>
<circle cx="561.3" cy="392.75" r="1.3"/>
<circle cx="555.2" cy="395.8" r="1.3"/>
<circle cx="558.25" cy="397.42" r="1.3"/>
<circle cx="560.88" cy="396.2" r="1.3"/>
<circle cx="564.94" cy="395.8" r="1.3"/>
<circle cx="567.38" cy="397.42" r="1.3"/>
<circle cx="568.39" cy="398.84" r="1.3"/>
<circle cx="566.98" cy="401.88" r="1.3"/>
<circle cx="599.44" cy="379.99" r="1.3"/>
<circle cx="599.84" cy="385.66" r="1.3"/>
<circle cx="600.87" cy="387.28" r="1.3"/>
<circle cx="605.52" cy="389.31" r="1.3"/>
<circle cx="599.44" cy="393.77" r="1.3"/>
<circle cx="655.66" cy="380.59" r="1.3"/>
<circle cx="655.66" cy="383.23" r="1.3"/>
<circle cx="656.25" cy="386.06" r="1.3"/>
<circle cx="655.05" cy="395.39" r="1.3"/>
<circle cx="655.66" cy="396.81" r="1.3"/>
<circle cx="656.67" cy="400.26" r="1.3"/>
<circle cx="619.12" cy="391.74" r="1.3"/>
<circle cx="619.73" cy="393.36" r="1.3"/>
<circle cx="628.25" cy="390.12" r="1.3"/>
<circle cx="628.66" cy="392.75" r="1.3"/>
<circle cx="628.66" cy="395.39" r="1.3"/>
<circle cx="616.49" cy="400.87" r="1.3"/>
<circle cx="617.1" cy="405.93" r="1.3"/>
<circle cx="632.32" cy="400.26" r="1.3"/>
<circle cx="631.91" cy="406.94" r="1.3"/>
<circle cx="554.19" cy="399.85" r="1.3"/>
<circle cx="555.2" cy="403.91" r="1.3"/>
<circle cx="556.83" cy="406.94" r="1.3"/>
<circle cx="557.24" cy="409.99" r="1.3"/>
<circle cx="553.58" cy="414.04" r="1.3"/>
<circle cx="560.88" cy="403.91" r="1.3"/>
<circle cx="562.31" cy="411" r="1.3"/>
<circle cx="566.37" cy="403.91" r="1.3"/>
<circle cx="567.38" cy="409.99" r="1.3"/>
<circle cx="571.03" cy="405.93" r="1.3"/>
<circle cx="580.58" cy="402.9" r="1.3"/>
<circle cx="580.58" cy="405.93" r="1.3"/>
<circle cx="580.58" cy="409.99" r="1.3"/>
<circle cx="581.59" cy="417.09" r="1.3"/>
<circle cx="589.29" cy="406.94" r="1.3"/>
<circle cx="601.46" cy="413.03" r="1.3"/>
<circle cx="652.61" cy="409.99" r="1.3"/>
<circle cx="651.59" cy="413.03" r="1.3"/>
<circle cx="652.2" cy="416.07" r="1.3"/>
<circle cx="653.62" cy="416.48" r="1.3"/>
<circle cx="618.11" cy="415.67" r="1.3"/>
<circle cx="620.55" cy="419.12" r="1.3"/>
<circle cx="636.38" cy="411.61" r="1.3"/>
<circle cx="635.35" cy="416.07" r="1.3"/>
<circle cx="636.38" cy="419.12" r="1.3"/>
<circle cx="635.96" cy="424.18" r="1.3"/>
<circle cx="642.06" cy="415.06" r="1.3"/>
<circle cx="642.46" cy="418.1" r="1.3"/>
<circle cx="642.46" cy="422.16" r="1.3"/>
<circle cx="561.3" cy="419.12" r="1.3"/>
<circle cx="563.32" cy="421.15" r="1.3"/>
<circle cx="564.94" cy="424.18" r="1.3"/>
<circle cx="568.39" cy="420.13" r="1.3"/>
<circle cx="570.42" cy="420.13" r="1.3"/>
<circle cx="599.84" cy="421.75" r="1.3"/>
<circle cx="598.83" cy="424.18" r="1.3"/>
<circle cx="598.22" cy="427.22" r="1.3"/>
<circle cx="597.42" cy="430.26" r="1.3"/>
<circle cx="600.87" cy="432.29" r="1.3"/>
<circle cx="601.88" cy="436.35" r="1.3"/>
<circle cx="599.84" cy="438.38" r="1.3"/>
<circle cx="600.87" cy="441.41" r="1.3"/>
<circle cx="614.45" cy="426.21" r="1.3"/>
<circle cx="615.06" cy="431.28" r="1.3"/>
<circle cx="617.1" cy="434.32" r="1.3"/>
<circle cx="618.11" cy="438.38" r="1.3"/>
<circle cx="616.49" cy="442.42" r="1.3"/>
<circle cx="647.53" cy="426.21" r="1.3"/>
<circle cx="646.52" cy="431.28" r="1.3"/>
<circle cx="647.53" cy="434.32" r="1.3"/>
<circle cx="653.62" cy="433.91" r="1.3"/>
<circle cx="653.62" cy="438.38" r="1.3"/>
<circle cx="631.3" cy="435.94" r="1.3"/>
<circle cx="632.32" cy="438.38" r="1.3"/>
<circle cx="636.38" cy="435.34" r="1.3"/>
<circle cx="638" cy="438.38" r="1.3"/>
<circle cx="638.4" cy="442.42" r="1.3"/>
<circle cx="630.28" cy="442.42" r="1.3"/>
<circle cx="628.25" cy="445.47" r="1.3"/>
<circle cx="627.24" cy="447.5" r="1.3"/>
<circle cx="662.75" cy="440.8" r="1.3"/>
<circle cx="661.13" cy="446.48" r="1.3"/>
<circle cx="661.74" cy="448.51" r="1.3"/>
<circle cx="669.85" cy="435.94" r="1.3"/>
<circle cx="670.46" cy="437.97" r="1.3"/>
<circle cx="560.22" cy="440.66" r="1.3"/>
<circle cx="560.3" cy="447.22" r="1.3"/>
<circle cx="560.29" cy="443.64" r="1.3"/>
<circle cx="560.09" cy="445.88" r="1.3"/>
<circle cx="560.41" cy="437.13" r="1.3"/>
<circle cx="561.88" cy="434.25" r="1.3"/>
<circle cx="561.82" cy="434.15" r="1.3"/>
<circle cx="561.96" cy="440.43" r="1.3"/>
<circle cx="561.48" cy="440.21" r="1.3"/>
<circle cx="562.07" cy="441.43" r="1.3"/>
<circle cx="557.29" cy="453.7" r="1.3"/>
<circle cx="557.31" cy="453.48" r="1.3"/>
<circle cx="557.71" cy="452.36" r="1.3"/>
<circle cx="571.08" cy="452.14" r="1.3"/>
<circle cx="571.17" cy="447.36" r="1.3"/>
<circle cx="571.05" cy="453.28" r="1.3"/>
<circle cx="564.21" cy="440.9" r="1.3"/>
<circle cx="564.26" cy="448.03" r="1.3"/>
<circle cx="564.75" cy="449.6" r="1.3"/>
<circle cx="564.3" cy="443.96" r="1.3"/>
<circle cx="564.32" cy="442.61" r="1.3"/>
<circle cx="563.61" cy="449.58" r="1.3"/>
<circle cx="563.94" cy="452.86" r="1.3"/>
<circle cx="563.78" cy="449.78" r="1.3"/>
<circle cx="563.92" cy="448.85" r="1.3"/>
<circle cx="567.51" cy="429.77" r="1.3"/>
<circle cx="567.69" cy="433.38" r="1.3"/>
<circle cx="564" cy="436.31" r="1.3"/>
<circle cx="564.33" cy="439.94" r="1.3"/>
<circle cx="570.65" cy="436.96" r="1.3"/>
<circle cx="570.97" cy="429.51" r="1.3"/>
<circle cx="570.36" cy="436.83" r="1.3"/>
<circle cx="570.39" cy="446.11" r="1.3"/>
<circle cx="569.95" cy="449.37" r="1.3"/>
<circle cx="570.04" cy="445.47" r="1.3"/>
<circle cx="569.88" cy="449.83" r="1.3"/>
<circle cx="569.34" cy="443.63" r="1.3"/>
<circle cx="569.64" cy="448.74" r="1.3"/>
<circle cx="569.52" cy="445.76" r="1.3"/>
<circle cx="569.6" cy="447.73" r="1.3"/>
<circle cx="562.9" cy="439.89" r="1.3"/>
<circle cx="563.17" cy="448.17" r="1.3"/>
<circle cx="563.29" cy="443.94" r="1.3"/>
<circle cx="563.76" cy="428.23" r="1.3"/>
<circle cx="563.96" cy="429.58" r="1.3"/>
<circle cx="574.42" cy="443.43" r="1.3"/>
<circle cx="574.71" cy="439.82" r="1.3"/>
<circle cx="574.59" cy="443.25" r="1.3"/>
<circle cx="576.45" cy="427.88" r="1.3"/>
<circle cx="577.08" cy="429.42" r="1.3"/>
<circle cx="576.6" cy="430.24" r="1.3"/>
<circle cx="576.83" cy="426.21" r="1.3"/>
<circle cx="576.31" cy="426.21" r="1.3"/>
<circle cx="582.6" cy="452.41" r="1.3"/>
<circle cx="582.05" cy="450.83" r="1.3"/>
<circle cx="573.9" cy="436.86" r="1.3"/>
<circle cx="573.83" cy="433.81" r="1.3"/>
<circle cx="573.81" cy="430.97" r="1.3"/>
<circle cx="573.8" cy="435.71" r="1.3"/>
<circle cx="576.1" cy="437.27" r="1.3"/>
<circle cx="576.24" cy="431.24" r="1.3"/>
<circle cx="580.58" cy="449.33" r="1.3"/>
<circle cx="580.67" cy="440.16" r="1.3"/>
<circle cx="580.42" cy="444.36" r="1.3"/>
<circle cx="576.78" cy="447.23" r="1.3"/>
<circle cx="576.89" cy="453.7" r="1.3"/>
<circle cx="577.15" cy="453.7" r="1.3"/>
<circle cx="577.01" cy="449.25" r="1.3"/>
<circle cx="577.51" cy="442.6" r="1.3"/>
<circle cx="577.82" cy="447.1" r="1.3"/>
<circle cx="577.5" cy="443.49" r="1.3"/>
<circle cx="581.78" cy="433.05" r="1.3"/>
<circle cx="581.7" cy="431.6" r="1.3"/>
<circle cx="583.15" cy="443.77" r="1.3"/>
<circle cx="583.13" cy="444.29" r="1.3"/>
<circle cx="582.32" cy="440.83" r="1.3"/>
<circle cx="582.05" cy="447.22" r="1.3"/>
<circle cx="582.28" cy="444.1" r="1.3"/>
<circle cx="582.27" cy="442.8" r="1.3"/>
<circle cx="582.17" cy="445.46" r="1.3"/>
<circle cx="573.37" cy="428.83" r="1.3"/>
<circle cx="573.15" cy="436.57" r="1.3"/>
<circle cx="573.37" cy="432.79" r="1.3"/>
<circle cx="573.47" cy="431.94" r="1.3"/>
<circle cx="588.81" cy="443.1" r="1.3"/>
<circle cx="588.88" cy="436.99" r="1.3"/>
<circle cx="589.1" cy="444.76" r="1.3"/>
<circle cx="589.35" cy="435.45" r="1.3"/>
<circle cx="589.34" cy="443.78" r="1.3"/>
<circle cx="597.83" cy="453.7" r="1.3"/>
<circle cx="597.85" cy="450.61" r="1.3"/>
<circle cx="597.83" cy="453.7" r="1.3"/>
<circle cx="597.17" cy="453.09" r="1.3"/>
<circle cx="586.73" cy="438.18" r="1.3"/>
<circle cx="586.61" cy="439.94" r="1.3"/>
<circle cx="586" cy="435.52" r="1.3"/>
<circle cx="588.46" cy="439.35" r="1.3"/>
<circle cx="588.49" cy="437.38" r="1.3"/>
<circle cx="590.9" cy="445.4" r="1.3"/>
<circle cx="590.72" cy="444.59" r="1.3"/>
<circle cx="590.97" cy="445.9" r="1.3"/>
<circle cx="612.16" cy="443.5" r="1.3"/>
<circle cx="612.55" cy="438.38" r="1.3"/>
<circle cx="612.32" cy="443.89" r="1.3"/>
<circle cx="612.18" cy="445.58" r="1.3"/>
<circle cx="621.92" cy="438.38" r="1.3"/>
<circle cx="621.88" cy="438.38" r="1.3"/>
<circle cx="623.43" cy="440.77" r="1.3"/>
<circle cx="623.57" cy="443.17" r="1.3"/>
<circle cx="619.34" cy="450.97" r="1.3"/>
<circle cx="619.11" cy="447.5" r="1.3"/>
<circle cx="621.63" cy="446.3" r="1.3"/>
<circle cx="622" cy="440.24" r="1.3"/>
<circle cx="622.16" cy="446.6" r="1.3"/>
<circle cx="621.46" cy="441.08" r="1.3"/>
<circle cx="643.67" cy="446.97" r="1.3"/>
<circle cx="644.07" cy="451.73" r="1.3"/>
<circle cx="644.1" cy="453.7" r="1.3"/>
<circle cx="643.79" cy="450.28" r="1.3"/>
<circle cx="644.28" cy="453.7" r="1.3"/>
<circle cx="641.63" cy="453.7" r="1.3"/>
<circle cx="641.39" cy="449.28" r="1.3"/>
</g>
<path d="M575.85 453.7V450.9M575.85 337.1V339.9M610.5 453.7V450.9M610.5 337.1V339.9M645.15 453.7V450.9M645.15 337.1V339.9M541.2 424.55H544M679.8 424.55H677M541.2 395.4H544M679.8 395.4H677M541.2 366.25H544M679.8 366.25H677" stroke="#262626" stroke-width="1.25" fill="none"/>
<rect x="541.2" y="337.1" width="138.6" height="116.6" fill="none" stroke="#262626" stroke-width="1.25"/>
<text x="541.2" y="463.2" font-size="8.0" font-weight="bold" text-anchor="middle" fill="#262626" letter-spacing="-0.3">50</text>
<text x="575.85" y="463.2" font-size="8.0" font-weight="bold" text-anchor="middle" fill="#262626" letter-spacing="-0.3">56.25</text>
<text x="610.5" y="463.2" font-size="8.0" font-weight="bold" text-anchor="middle" fill="#262626" letter-spacing="-0.3">62.5</text>
<text x="645.15" y="463.2" font-size="8.0" font-weight="bold" text-anchor="middle" fill="#262626" letter-spacing="-0.3">68.75</text>
<text x="679.8" y="463.2" font-size="8.0" font-weight="bold" text-anchor="middle" fill="#262626" letter-spacing="-0.3">75</text>
<text x="538.7" y="456.56" font-size="8.0" font-weight="bold" text-anchor="end" fill="#262626" letter-spacing="-0.3">0</text>
<text x="538.7" y="427.41" font-size="8.0" font-weight="bold" text-anchor="end" fill="#262626" letter-spacing="-0.3">0.01</text>
<text x="538.7" y="398.26" font-size="8.0" font-weight="bold" text-anchor="end" fill="#262626" letter-spacing="-0.3">0.02</text>
<text x="538.7" y="369.11" font-size="8.0" font-weight="bold" text-anchor="end" fill="#262626" letter-spacing="-0.3">0.03</text>
<text x="538.7" y="339.96" font-size="8.0" font-weight="bold" text-anchor="end" fill="#262626" letter-spacing="-0.3">0.04</text>
<text x="610.5" y="472.6" font-size="8.4" font-weight="bold" text-anchor="middle" fill="#262626">Distance to Focus (mm)</text>
<text x="512.8" y="395.4" font-size="8.2" font-weight="bold" text-anchor="middle" fill="#262626" transform="rotate(-90 512.8 395.4)">Normalized Contribution</text>
<text x="675.2" y="348.6" font-size="6.4" font-weight="bold" text-anchor="end" fill="#262626" word-spacing="0.75"><tspan font-style="italic">&#961;</tspan> = -0.09, p = 0.074</text>
<path d="M28.2 498.8L40.96 511.26M39.68 508.33L40.96 511.26L38 510.05M40.26 498.8L49.79 511.04M48.91 507.96L49.79 511.04L47.02 509.43M52.31 498.8L59.17 511.52M58.82 508.34L59.17 511.52L56.71 509.48M64.37 498.8L68.28 511.12M68.52 507.93L68.28 511.12L66.24 508.66M76.42 498.8L77.64 511.05M78.54 507.98L77.64 511.05L76.16 508.22M88.48 498.8L86.9 511.23M88.46 508.44L86.9 511.23L86.09 508.14M100.53 498.8L96.32 511.46M98.4 509.02L96.32 511.46L96.12 508.27M112.59 498.8L105.51 511.21M108.02 509.23L105.51 511.21L105.94 508.04M124.64 498.8L115.01 511.27M117.77 509.66L115.01 511.27L115.88 508.19M136.7 498.8L124.05 511.58M126.99 510.32L124.05 511.58L125.29 508.63M28.2 510.87L40.69 520.71M39.11 517.93L40.69 520.71L37.62 519.81M40.26 510.87L49.75 520.53M48.52 517.58L49.75 520.53L46.81 519.26M52.31 510.87L59.49 520.34M58.66 517.25L59.49 520.34L56.75 518.7M64.37 510.87L68.28 520.57M68.28 517.64L68.28 520.57L66.25 518.46M76.42 510.87L77.85 520.74M78.51 518.03L77.85 520.74L76.44 518.33M88.48 510.87L87.12 520.64M88.5 518.24L87.12 520.64L86.45 517.96M100.53 510.87L96.34 520.73M98.46 518.61L96.34 520.73L96.39 517.73M112.59 510.87L105.38 520.67M108.11 518.99L105.38 520.67L106.18 517.57M124.64 510.87L114.98 520.65M117.92 519.39L114.98 520.65L116.21 517.7M136.7 510.87L124.27 520.67M127.34 519.77L124.27 520.67L125.86 517.89M28.2 522.93L40.58 529.9M38.58 527.4L40.58 529.9L37.4 529.49M40.26 522.93L50.07 530.08M48.38 527.37L50.07 530.08L46.97 529.3M52.31 522.93L59.13 530.12M58.11 527.54L59.13 530.12L56.6 528.97M64.37 522.93L68.72 529.59M68.29 527.41L68.72 529.59L66.89 528.32M76.42 522.93L78.08 529.98M78.39 527.98L78.08 529.98L76.91 528.32M88.48 522.93L87.17 529.61M88.21 528.02L87.17 529.61L86.81 527.74M100.53 522.93L96.45 529.67M98.22 528.35L96.45 529.67L96.8 527.49M112.59 522.93L105.88 529.74M108.33 528.68L105.88 529.74L106.91 527.27M124.64 522.93L114.83 529.72M117.95 529.02L114.83 529.72L116.59 527.05M136.7 522.93L124.28 529.77M127.46 529.39L124.28 529.77L126.3 527.29M28.2 535L40.46 539.33M38.06 537.21L40.46 539.33L37.26 539.47M40.26 535L49.99 539.39M47.92 537.23L49.99 539.39L47 539.27M52.31 535L59.24 538.87M57.84 537.14L59.24 538.87L57.03 538.59M64.37 535L68.5 539.27M67.88 537.73L68.5 539.27L66.98 538.59M76.42 535L77.52 539.46M77.7 538.19L77.52 539.46L76.76 538.42M88.48 535L86.86 538.89M87.69 538.05L86.86 538.89L86.87 537.71M100.53 535L96.59 539.33M98.07 538.62L96.59 539.33L97.16 537.79M112.59 535L105.51 539.01M107.77 538.71L105.51 539.01L106.93 537.23M124.64 535L115.12 539.32M118.04 539.2L115.12 539.32L117.14 537.2M136.7 535L124.04 539.26M127.23 539.45L124.04 539.26L126.47 537.18M28.2 547.07L40.81 548.74M39.84 548.19L40.81 548.74L39.73 549.02M40.26 547.07L49.83 548.52M49.02 548.04L49.83 548.52L48.91 548.74M52.31 547.07L59.5 548.43M58.9 548.04L59.5 548.43L58.8 548.57M64.37 547.07L68.39 548.17M68.07 547.92L68.39 548.17L67.99 548.22M76.42 547.07L78.08 548.52M77.98 548.33L78.08 548.52L77.88 548.45M88.48 547.07L87.02 548.27M87.19 548.22L87.02 548.27L87.1 548.11M100.53 547.07L96.26 548.43M96.7 548.46L96.26 548.43L96.6 548.15M112.59 547.07L105.62 548.35M106.3 548.49L105.62 548.35L106.21 547.98M124.64 547.07L114.7 548.39M115.65 548.64L114.7 548.39L115.55 547.91M136.7 547.07L124.1 548.73M125.19 549.01L124.1 548.73L125.08 548.18M28.2 559.13L40.69 557.94M39.62 557.62L40.69 557.94L39.7 558.45M40.26 559.13L49.68 557.53M48.76 557.33L49.68 557.53L48.88 558.02M52.31 559.13L59.53 557.83M58.82 557.68L59.53 557.83L58.92 558.21M64.37 559.13L68.8 557.84M68.35 557.79L68.8 557.84L68.45 558.12M76.42 559.13L77.67 557.51M77.5 557.61L77.67 557.51L77.62 557.7M88.48 559.13L87.19 557.47M87.24 557.67L87.19 557.47L87.36 557.58M100.53 559.13L96.4 557.66M96.72 557.95L96.4 557.66L96.83 557.64M112.59 559.13L105.88 557.88M106.45 558.24L105.88 557.88L106.54 557.75M124.64 559.13L115.04 557.56M115.86 558.06L115.04 557.56L115.97 557.35M136.7 559.13L124.05 557.62M125.03 558.16L124.05 557.62L125.13 557.33M28.2 571.2L40.79 567.09M37.6 566.87L40.79 567.09L38.34 569.15M40.26 571.2L50.21 567.2M47.21 567.2L50.21 567.2L48.04 569.28M52.31 571.2L59.27 567M57.02 567.36L59.27 567L57.9 568.82M64.37 571.2L68.67 567.1M67.12 567.71L68.67 567.1L67.98 568.62M76.42 571.2L78.1 567.12M77.23 568L78.1 567.12L78.09 568.35M88.48 571.2L86.86 567.01M86.84 568.26L86.86 567.01L87.72 567.93M100.53 571.2L96.36 567.06M97.01 568.58L96.36 567.06L97.88 567.7M112.59 571.2L105.43 566.93M106.84 568.79L105.43 566.93L107.74 567.29M124.64 571.2L114.84 566.94M116.94 569.07L114.84 566.94L117.83 567.02M136.7 571.2L124.52 567.18M126.96 569.25L124.52 567.18L127.71 566.97M28.2 583.27L40.98 576.45M37.79 576.79L40.98 576.45L38.92 578.9M40.26 583.27L49.8 576.09M46.71 576.91L49.8 576.09L48.15 578.83M52.31 583.27L59.23 576.11M56.68 577.24L59.23 576.11L58.18 578.69M64.37 583.27L68.78 576.42M66.92 577.73L68.78 576.42L68.35 578.66M76.42 583.27L77.77 576.25M76.68 577.93L77.77 576.25L78.16 578.21M88.48 583.27L87.27 576.19M86.84 578.16L87.27 576.19L88.33 577.9M100.53 583.27L96.16 576.51M96.59 578.72L96.16 576.51L98.01 577.8M112.59 583.27L105.48 576.6M106.62 579.08L105.48 576.6L108.02 577.59M124.64 583.27L115.23 576.37M116.92 579.09L115.23 576.37L118.33 577.16M136.7 583.27L124.14 576.37M126.17 578.85L124.14 576.37L127.32 576.75M28.2 595.33L40.82 585.5M37.74 586.38L40.82 585.5L39.21 588.27M40.26 595.33L50.23 585.41M47.28 586.66L50.23 585.41L48.97 588.35M52.31 595.33L59.05 585.87M56.36 587.59L59.05 585.87L58.31 588.98M64.37 595.33L68.35 585.92M66.33 587.95L68.35 585.92L68.3 588.78M76.42 595.33L78.04 585.34M76.58 587.77L78.04 585.34L78.67 588.11M88.48 595.33L87.31 585.86M86.62 588.44L87.31 585.86L88.61 588.2M100.53 595.33L96.35 585.88M96.45 588.77L96.35 585.88L98.43 587.9M112.59 595.33L105.81 585.56M106.51 588.68L105.81 585.56L108.48 587.32M124.64 595.33L114.74 585.67M116.02 588.6L114.74 585.67L117.7 586.89M136.7 595.33L123.94 585.74M125.59 588.48L123.94 585.74L127.03 586.57M28.2 607.4L40.52 594.62M37.6 595.93L40.52 594.62L39.33 597.59M40.26 607.4L50.13 594.94M47.35 596.52L50.13 594.94L49.23 598.01M52.31 607.4L59.02 594.85M56.56 596.9L59.02 594.85L58.68 598.03M64.37 607.4L68.26 594.97M66.23 597.44L68.26 594.97L68.52 598.16M76.42 607.4L77.57 594.71M76.11 597.55L77.57 594.71L78.49 597.77M88.48 607.4L87.38 594.92M86.44 597.98L87.38 594.92L88.83 597.77M100.53 607.4L96.39 594.92M96.19 598.11L96.39 594.92L98.46 597.36M112.59 607.4L105.66 595.07M106.07 598.25L105.66 595.07L108.16 597.07M124.64 607.4L114.7 595.19M115.65 598.25L114.7 595.19L117.5 596.73M136.7 607.4L124.28 594.65M125.49 597.61L124.28 594.65L127.21 595.93" stroke="#d9601f" stroke-width="0.8" fill="none" stroke-linecap="round" stroke-linejoin="round"/>
<path d="M28.2 498.8L33.62 508.76M33.28 505.78L33.62 508.76L31.3 506.86M40.26 498.8L42.82 507.54M43.11 504.55L42.82 507.54L40.96 505.18M52.31 498.8L53.3 507.53M54.11 504.64L53.3 507.53L51.87 504.89M64.37 498.8L64.58 507.34M65.63 504.54L64.58 507.34L63.39 504.6M76.42 498.8L72.92 508.34M74.93 506.12L72.92 508.34L72.82 505.34M88.48 498.8L83.64 508.74M85.87 506.73L83.64 508.74L83.85 505.75M100.53 498.8L93.88 508.95M96.35 507.24L93.88 508.95L94.47 506.01M112.59 498.8L105.4 509.19M107.91 507.54L105.4 509.19L106.06 506.26M124.64 498.8L116.67 507.86M119.35 506.51L116.67 507.86L117.66 505.03M136.7 498.8L129.98 509.08M132.44 507.37L129.98 509.08L130.56 506.14M28.2 510.87L32.77 520.22M32.56 517.23L32.77 520.22L30.54 518.21M40.26 510.87L42.12 519.46M42.63 516.5L42.12 519.46L40.43 516.98M52.31 510.87L53.19 520.66M54.06 517.79L53.19 520.66L51.82 517.99M64.37 510.87L64.91 521.23M65.89 518.39L64.91 521.23L63.65 518.51M76.42 510.87L74.08 519.84M75.87 517.43L74.08 519.84L73.69 516.87M88.48 510.87L82.96 520.89M85.29 519L82.96 520.89L83.32 517.92M100.53 510.87L92.87 520.15M95.5 518.72L92.87 520.15L93.77 517.29M112.59 510.87L105.99 520.34M108.5 518.7L105.99 520.34L106.66 517.42M124.64 510.87L116.63 520.03M119.3 518.68L116.63 520.03L117.61 517.2M136.7 510.87L128.96 520.21M131.6 518.79L128.96 520.21L129.87 517.35M28.2 522.93L33.53 531.11M32.96 528.17L33.53 531.11L31.07 529.4M40.26 522.93L42.68 532.42M43.08 529.44L42.68 532.42L40.91 530M52.31 522.93L51.92 531.18M53.13 528.56L51.92 531.18L50.97 528.46M64.37 522.93L64.15 532.2M65.34 529.44L64.15 532.2L63.09 529.39M76.42 522.93L73.35 531.12M75.38 528.91L73.35 531.12L73.28 528.12M88.48 522.93L82.23 532.22M84.72 530.54L82.23 532.22L82.85 529.28M100.53 522.93L93.59 531.03M96.26 529.65L93.59 531.03L94.55 528.19M112.59 522.93L105.69 531.94M108.28 530.42L105.69 531.94L106.49 529.05M124.64 522.93L117.21 531.26M119.9 529.93L117.21 531.26L118.23 528.43M136.7 522.93L129.79 531.3M132.43 529.87L129.79 531.3L130.7 528.44M28.2 535L33.97 540.67M32.84 538.08L33.97 540.67L31.35 539.59M40.26 535L43.48 539.33M43 537.5L43.48 539.33L41.87 538.35M52.31 535L52.23 539.8M52.88 538.25L52.23 539.8L51.63 538.23M64.37 535L64.64 539.83M65.19 538.23L64.64 539.83L63.92 538.3M76.42 535L74.23 540.41M75.65 538.94L74.23 540.41L74.23 538.37M88.48 535L84.04 540.37M86.19 539.21L84.04 540.37L84.78 538.05M100.53 535L94.24 540.92M97.03 539.83L94.24 540.92L95.49 538.2M112.59 535L105.11 540.85M107.99 540.02L105.11 540.85L106.61 538.25M124.64 535L117.33 540.27M120.24 539.55L117.33 540.27L118.93 537.73M136.7 535L129.51 540.34M132.41 539.58L129.51 540.34L131.07 537.78M28.2 547.07L34.07 547.11M33.4 546.83L34.07 547.11L33.4 547.37M40.26 547.07L42.99 547.46M42.7 547.29L42.99 547.46L42.66 547.54M52.31 547.07L53.09 547M53 546.97L53.09 547L53 547.04M64.37 547.07L64.5 547.94M64.53 547.83L64.5 547.94L64.45 547.84M76.42 547.07L73.31 547.61M73.69 547.69L73.31 547.61L73.64 547.4M88.48 547.07L82.39 548.19M83.13 548.34L82.39 548.19L83.03 547.79M100.53 547.07L94.15 547.44M94.9 547.69L94.15 547.44L94.86 547.11M112.59 547.07L104.89 548.23M105.82 548.45L104.89 548.23L105.71 547.74M124.64 547.07L116.39 548.23M117.38 548.48L116.39 548.23L117.27 547.72M136.7 547.07L129.17 548.22M130.08 548.43L129.17 548.22L129.97 547.74M28.2 559.13L33.58 558.59M32.95 558.4L33.58 558.59L33 558.9M40.26 559.13L43.11 558.13M42.74 558.11L43.11 558.13L42.83 558.38M52.31 559.13L53.21 558.8M53.09 558.79L53.21 558.8L53.12 558.88M64.37 559.13L64.8 558.16M64.7 558.25L64.8 558.16L64.79 558.29M76.42 559.13L73.17 559.1M73.53 559.25L73.17 559.1L73.54 558.95M88.48 559.13L82.23 558.23M82.9 558.62L82.23 558.23L82.98 558.04M100.53 559.13L92.78 557.83M93.6 558.33L92.78 557.83L93.72 557.62M112.59 559.13L105.88 557.85M106.58 558.3L105.88 557.85L106.7 557.68M124.64 559.13L116.77 559.22M117.67 559.57L116.77 559.22L117.66 558.85M136.7 559.13L128.64 559.04M129.55 559.42L128.64 559.04L129.56 558.68M28.2 571.2L33.88 565.82M31.33 566.82L33.88 565.82L32.75 568.31M40.26 571.2L42.21 565.36M40.81 567L42.21 565.36L42.34 567.51M52.31 571.2L53.14 566.19M52.21 567.71L53.14 566.19L53.53 567.93M64.37 571.2L63.45 566.38M63.12 568.06L63.45 566.38L64.38 567.82M76.42 571.2L74.08 565.36M74.08 567.56L74.08 565.36L75.61 566.95M88.48 571.2L83.36 566.34M84.39 568.59L83.36 566.34L85.66 567.25M100.53 571.2L92.91 564.98M94.36 567.61L92.91 564.98L95.78 565.87M112.59 571.2L104.73 565.17M106.25 567.76L104.73 565.17L107.62 565.97M124.64 571.2L117.82 566.76M119.45 569.1L117.82 566.76L120.61 567.3M136.7 571.2L128.22 565.36M129.88 567.87L128.22 565.36L131.15 566.02M28.2 583.27L33.9 574.14M31.47 575.91L33.9 574.14L33.38 577.1M40.26 583.27L42.66 574.47M40.84 576.86L42.66 574.47L43.01 577.45M52.31 583.27L51.61 574.52M50.71 577.38L51.61 574.52L52.95 577.2M64.37 583.27L64.07 573.87M63.03 576.69L64.07 573.87L65.28 576.61M76.42 583.27L73.92 574.55M73.61 577.53L73.92 574.55L75.77 576.91M88.48 583.27L83.63 573.75M83.89 576.74L83.63 573.75L85.9 575.72M100.53 583.27L94.44 574.35M95.08 577.28L94.44 574.35L96.94 576.01M112.59 583.27L105.43 573.92M106.23 576.81L105.43 573.92L108.01 575.45M124.64 583.27L116.77 574.75M117.83 577.56L116.77 574.75L119.48 576.03M136.7 583.27L129.03 574.49M130.02 577.33L129.03 574.49L131.71 575.85M28.2 595.33L33.84 586.44M31.4 588.18L33.84 586.44L33.3 589.39M40.26 595.33L43.33 586.37M41.37 588.64L43.33 586.37L43.49 589.37M52.31 595.33L52.56 585.3M51.37 588.05L52.56 585.3L53.62 588.11M64.37 595.33L64.53 585.41M63.36 588.17L64.53 585.41L65.61 588.21M76.42 595.33L74.05 586.21M73.66 589.18L74.05 586.21L75.84 588.62M88.48 595.33L83.64 586.63M84.01 589.61L83.64 586.63L85.97 588.51M100.53 595.33L93.6 586.4M94.41 589.29L93.6 586.4L96.19 587.91M112.59 595.33L105.88 586.38M106.65 589.28L105.88 586.38L108.45 587.93M124.64 595.33L117.14 586.13M118.03 589L117.14 586.13L119.77 587.58M136.7 595.33L129 586.42M129.96 589.26L129 586.42L131.67 587.79M28.2 607.4L33.11 598.18M30.81 600.11L33.11 598.18L32.8 601.17M40.26 607.4L43.37 597.23M41.48 599.56L43.37 597.23L43.63 600.22M52.31 607.4L52.87 598.44M51.58 601.14L52.87 598.44L53.82 601.28M64.37 607.4L63.62 597.96M62.72 600.82L63.62 597.96L64.96 600.65M76.42 607.4L73.94 597.59M73.53 600.56L73.94 597.59L75.71 600.01M88.48 607.4L82.87 597.28M83.24 600.26L82.87 597.28L85.2 599.17M100.53 607.4L93.25 598.84M94.2 601.69L93.25 598.84L95.91 600.23M112.59 607.4L105.61 598.57M106.46 601.45L105.61 598.57L108.22 600.06M124.64 607.4L117.36 597.24M118.07 600.15L117.36 597.24L119.9 598.84M136.7 607.4L129.05 597.1M129.8 600L129.05 597.1L131.61 598.66" stroke="#4474e0" stroke-width="0.8" fill="none" stroke-linecap="round" stroke-linejoin="round"/>
<line x1="192" y1="490.5" x2="192" y2="607.3" stroke="#dadada" stroke-width="0.9"/>
<line x1="216.26" y1="490.5" x2="216.26" y2="607.3" stroke="#dadada" stroke-width="0.9"/>
<line x1="240.52" y1="490.5" x2="240.52" y2="607.3" stroke="#dadada" stroke-width="0.9"/>
<line x1="264.78" y1="490.5" x2="264.78" y2="607.3" stroke="#dadada" stroke-width="0.9"/>
<line x1="289.04" y1="490.5" x2="289.04" y2="607.3" stroke="#dadada" stroke-width="0.9"/>
<line x1="313.3" y1="490.5" x2="313.3" y2="607.3" stroke="#dadada" stroke-width="0.9"/>
<line x1="181" y1="568.37" x2="319.6" y2="568.37" stroke="#dadada" stroke-width="0.9"/>
<line x1="181" y1="529.43" x2="319.6" y2="529.43" stroke="#dadada" stroke-width="0.9"/>
<rect x="187.15" y="591.73" width="9.7" height="15.57" fill="#8fc9e0" stroke="#5f93a8" stroke-width="0.7"/>
<rect x="196.85" y="599.51" width="9.7" height="7.79" fill="#8fc9e0" stroke="#5f93a8" stroke-width="0.7"/>
<rect x="206.56" y="560.58" width="9.7" height="46.72" fill="#8fc9e0" stroke="#5f93a8" stroke-width="0.7"/>
<rect x="216.26" y="552.79" width="9.7" height="54.51" fill="#8fc9e0" stroke="#5f93a8" stroke-width="0.7"/>
<rect x="225.97" y="490.5" width="9.7" height="116.8" fill="#8fc9e0" stroke="#5f93a8" stroke-width="0.7"/>
<rect x="235.67" y="506.07" width="9.7" height="101.23" fill="#8fc9e0" stroke="#5f93a8" stroke-width="0.7"/>
<rect x="245.37" y="498.29" width="9.7" height="109.01" fill="#8fc9e0" stroke="#5f93a8" stroke-width="0.7"/>
<rect x="255.08" y="552.79" width="9.7" height="54.51" fill="#8fc9e0" stroke="#5f93a8" stroke-width="0.7"/>
<rect x="264.78" y="490.5" width="9.7" height="116.8" fill="#8fc9e0" stroke="#5f93a8" stroke-width="0.7"/>
<rect x="274.48" y="498.29" width="9.7" height="109.01" fill="#8fc9e0" stroke="#5f93a8" stroke-width="0.7"/>
<rect x="284.19" y="583.94" width="9.7" height="23.36" fill="#8fc9e0" stroke="#5f93a8" stroke-width="0.7"/>
<rect x="293.89" y="591.73" width="9.7" height="15.57" fill="#8fc9e0" stroke="#5f93a8" stroke-width="0.7"/>
<rect x="303.6" y="599.51" width="9.7" height="7.79" fill="#8fc9e0" stroke="#5f93a8" stroke-width="0.7"/>
<path d="M192 607.3V604.5M192 490.5V493.3M216.26 607.3V604.5M216.26 490.5V493.3M240.52 607.3V604.5M240.52 490.5V493.3M264.78 607.3V604.5M264.78 490.5V493.3M289.04 607.3V604.5M289.04 490.5V493.3M313.3 607.3V604.5M313.3 490.5V493.3M181 568.37H183.8M319.6 568.37H316.8M181 529.43H183.8M319.6 529.43H316.8" stroke="#262626" stroke-width="1.25" fill="none"/>
<rect x="181" y="490.5" width="138.6" height="116.8" fill="none" stroke="#262626" stroke-width="1.25"/>
<text x="192" y="616.8" font-size="8.0" font-weight="bold" text-anchor="middle" fill="#262626" letter-spacing="-0.3">5</text>
<text x="216.26" y="616.8" font-size="8.0" font-weight="bold" text-anchor="middle" fill="#262626" letter-spacing="-0.3">10</text>
<text x="240.52" y="616.8" font-size="8.0" font-weight="bold" text-anchor="middle" fill="#262626" letter-spacing="-0.3">15</text>
<text x="264.78" y="616.8" font-size="8.0" font-weight="bold" text-anchor="middle" fill="#262626" letter-spacing="-0.3">20</text>
<text x="289.04" y="616.8" font-size="8.0" font-weight="bold" text-anchor="middle" fill="#262626" letter-spacing="-0.3">25</text>
<text x="313.3" y="616.8" font-size="8.0" font-weight="bold" text-anchor="middle" fill="#262626" letter-spacing="-0.3">30</text>
<text x="178.5" y="610.16" font-size="8.0" font-weight="bold" text-anchor="end" fill="#262626" letter-spacing="-0.3">0</text>
<text x="178.5" y="571.23" font-size="8.0" font-weight="bold" text-anchor="end" fill="#262626" letter-spacing="-0.3">5</text>
<text x="178.5" y="532.3" font-size="8.0" font-weight="bold" text-anchor="end" fill="#262626" letter-spacing="-0.3">10</text>
<text x="178.5" y="493.36" font-size="8.0" font-weight="bold" text-anchor="end" fill="#262626" letter-spacing="-0.3">15</text>
<text x="250.3" y="626.2" font-size="8.4" font-weight="bold" text-anchor="middle" fill="#262626">Incident Angle (°)</text>
<text x="167.3" y="548.9" font-size="8.2" font-weight="bold" text-anchor="middle" fill="#262626" transform="rotate(-90 167.3 548.9)">Number of Elements</text>
<line x1="395.68" y1="490.5" x2="395.68" y2="607.3" stroke="#dadada" stroke-width="0.9"/>
<line x1="430.35" y1="490.5" x2="430.35" y2="607.3" stroke="#dadada" stroke-width="0.9"/>
<line x1="465.02" y1="490.5" x2="465.02" y2="607.3" stroke="#dadada" stroke-width="0.9"/>
<line x1="361" y1="578.1" x2="499.7" y2="578.1" stroke="#dadada" stroke-width="0.9"/>
<line x1="361" y1="548.9" x2="499.7" y2="548.9" stroke="#dadada" stroke-width="0.9"/>
<line x1="361" y1="519.7" x2="499.7" y2="519.7" stroke="#dadada" stroke-width="0.9"/>
<g fill="#4ba2d4" stroke="#2f6688" stroke-width="0.55">
<circle cx="435.07" cy="491.62" r="1.3"/>
<circle cx="432.43" cy="495.07" r="1.3"/>
<circle cx="431" cy="497.1" r="1.3"/>
<circle cx="429.59" cy="502.17" r="1.3"/>
<circle cx="433.65" cy="508.24" r="1.3"/>
<circle cx="441.77" cy="509.26" r="1.3"/>
<circle cx="436.48" cy="514.33" r="1.3"/>
<circle cx="437.7" cy="514.74" r="1.3"/>
<circle cx="422.89" cy="516.36" r="1.3"/>
<circle cx="422.28" cy="518.38" r="1.3"/>
<circle cx="421.47" cy="520.41" r="1.3"/>
<circle cx="465.51" cy="509.26" r="1.3"/>
<circle cx="466.11" cy="507.24" r="1.3"/>
<circle cx="466.93" cy="505.21" r="1.3"/>
<circle cx="470.57" cy="501.15" r="1.3"/>
<circle cx="444.61" cy="522.44" r="1.3"/>
<circle cx="470.57" cy="524.06" r="1.3"/>
<circle cx="473.01" cy="524.06" r="1.3"/>
<circle cx="407.27" cy="530.96" r="1.3"/>
<circle cx="420.86" cy="532.17" r="1.3"/>
<circle cx="431" cy="532.58" r="1.3"/>
<circle cx="432.43" cy="536.64" r="1.3"/>
<circle cx="434.46" cy="533.59" r="1.3"/>
<circle cx="435.68" cy="530.55" r="1.3"/>
<circle cx="437.7" cy="528.52" r="1.3"/>
<circle cx="440.14" cy="527.51" r="1.3"/>
<circle cx="468.15" cy="528.52" r="1.3"/>
<circle cx="466.52" cy="532.98" r="1.3"/>
<circle cx="461.45" cy="532.17" r="1.3"/>
<circle cx="438.52" cy="538.66" r="1.3"/>
<circle cx="444.61" cy="539.07" r="1.3"/>
<circle cx="450.7" cy="539.07" r="1.3"/>
<circle cx="457.99" cy="537.03" r="1.3"/>
<circle cx="458.81" cy="538.26" r="1.3"/>
<circle cx="422.89" cy="538.66" r="1.3"/>
<circle cx="423.9" cy="540.69" r="1.3"/>
<circle cx="424.91" cy="543.73" r="1.3"/>
<circle cx="425.52" cy="545.76" r="1.3"/>
<circle cx="409.7" cy="546.37" r="1.3"/>
<circle cx="410.1" cy="551.84" r="1.3"/>
<circle cx="411.74" cy="553.26" r="1.3"/>
<circle cx="406.66" cy="553.86" r="1.3"/>
<circle cx="427.56" cy="550.83" r="1.3"/>
<circle cx="437.7" cy="545.76" r="1.3"/>
<circle cx="438.1" cy="548.79" r="1.3"/>
<circle cx="438.52" cy="551.84" r="1.3"/>
<circle cx="437.09" cy="554.47" r="1.3"/>
<circle cx="439.73" cy="555.9" r="1.3"/>
<circle cx="442.17" cy="554.88" r="1.3"/>
<circle cx="444.19" cy="556.91" r="1.3"/>
<circle cx="446.23" cy="555.29" r="1.3"/>
<circle cx="459.42" cy="544.33" r="1.3"/>
<circle cx="461.45" cy="543.12" r="1.3"/>
<circle cx="462.46" cy="545.76" r="1.3"/>
<circle cx="460.43" cy="548.79" r="1.3"/>
<circle cx="463.47" cy="549.81" r="1.3"/>
<circle cx="468.55" cy="550.83" r="1.3"/>
<circle cx="460.02" cy="553.26" r="1.3"/>
<circle cx="461.45" cy="554.88" r="1.3"/>
<circle cx="450.28" cy="552.85" r="1.3"/>
<circle cx="453.33" cy="553.26" r="1.3"/>
<circle cx="431" cy="553.86" r="1.3"/>
<circle cx="433.04" cy="555.9" r="1.3"/>
<circle cx="395.49" cy="561.36" r="1.3"/>
<circle cx="396.51" cy="558.93" r="1.3"/>
<circle cx="397.94" cy="556.91" r="1.3"/>
<circle cx="399.56" cy="554.47" r="1.3"/>
<circle cx="401.58" cy="556.91" r="1.3"/>
<circle cx="403.21" cy="558.93" r="1.3"/>
<circle cx="434.46" cy="559.95" r="1.3"/>
<circle cx="436.08" cy="560.97" r="1.3"/>
<circle cx="438.1" cy="561.36" r="1.3"/>
<circle cx="441.15" cy="561.98" r="1.3"/>
<circle cx="447.24" cy="559.95" r="1.3"/>
<circle cx="455.36" cy="562.99" r="1.3"/>
<circle cx="458.4" cy="558.93" r="1.3"/>
<circle cx="461.45" cy="559.95" r="1.3"/>
<circle cx="462.46" cy="562.99" r="1.3"/>
<circle cx="467.54" cy="556.91" r="1.3"/>
<circle cx="468.15" cy="561.36" r="1.3"/>
<circle cx="412.75" cy="564" r="1.3"/>
<circle cx="416.8" cy="568.06" r="1.3"/>
<circle cx="440.54" cy="568.06" r="1.3"/>
<circle cx="428.98" cy="566.03" r="1.3"/>
<circle cx="431" cy="568.06" r="1.3"/>
<circle cx="425.52" cy="570.09" r="1.3"/>
<circle cx="397.12" cy="566.64" r="1.3"/>
<circle cx="399.56" cy="570.09" r="1.3"/>
<circle cx="401.58" cy="573.12" r="1.3"/>
<circle cx="404.02" cy="572.11" r="1.3"/>
<circle cx="407.67" cy="571.1" r="1.3"/>
<circle cx="408.69" cy="574.14" r="1.3"/>
<circle cx="419.85" cy="570.09" r="1.3"/>
<circle cx="422.89" cy="575.16" r="1.3"/>
<circle cx="425.52" cy="573.12" r="1.3"/>
<circle cx="427.96" cy="571.1" r="1.3"/>
<circle cx="448.26" cy="571.1" r="1.3"/>
<circle cx="450.28" cy="570.09" r="1.3"/>
<circle cx="453.33" cy="573.12" r="1.3"/>
<circle cx="457.38" cy="572.11" r="1.3"/>
<circle cx="459.42" cy="574.14" r="1.3"/>
<circle cx="464.48" cy="572.11" r="1.3"/>
<circle cx="466.52" cy="570.09" r="1.3"/>
<circle cx="467.54" cy="576.17" r="1.3"/>
<circle cx="382.3" cy="581.64" r="1.3"/>
<circle cx="383.32" cy="586.92" r="1.3"/>
<circle cx="384.33" cy="588.33" r="1.3"/>
<circle cx="390.42" cy="587.32" r="1.3"/>
<circle cx="389.41" cy="592.38" r="1.3"/>
<circle cx="389" cy="596.44" r="1.3"/>
<circle cx="386.37" cy="600.5" r="1.3"/>
<circle cx="477.67" cy="578.19" r="1.3"/>
<circle cx="476.66" cy="581.24" r="1.3"/>
<circle cx="474.64" cy="583.26" r="1.3"/>
<circle cx="479.71" cy="585.29" r="1.3"/>
<circle cx="482.75" cy="586.92" r="1.3"/>
<circle cx="477.67" cy="589.35" r="1.3"/>
<circle cx="487.83" cy="603.13" r="1.3"/>
<circle cx="489.85" cy="603.13" r="1.3"/>
<circle cx="403.54" cy="599.14" r="1.3"/>
<circle cx="411.72" cy="603.62" r="1.3"/>
<circle cx="402.12" cy="585.19" r="1.3"/>
<circle cx="401.38" cy="584.99" r="1.3"/>
<circle cx="412.69" cy="581.51" r="1.3"/>
<circle cx="408.78" cy="584.61" r="1.3"/>
<circle cx="404.22" cy="591.72" r="1.3"/>
<circle cx="414.69" cy="596.95" r="1.3"/>
<circle cx="398.82" cy="586.73" r="1.3"/>
<circle cx="401.36" cy="604.2" r="1.3"/>
<circle cx="414.15" cy="602.45" r="1.3"/>
<circle cx="414.47" cy="600.78" r="1.3"/>
<circle cx="416.84" cy="602.13" r="1.3"/>
<circle cx="403.48" cy="603.63" r="1.3"/>
<circle cx="407.92" cy="601.06" r="1.3"/>
<circle cx="409.42" cy="591.66" r="1.3"/>
<circle cx="405.56" cy="591.66" r="1.3"/>
<circle cx="404.59" cy="581" r="1.3"/>
<circle cx="414.34" cy="602.24" r="1.3"/>
<circle cx="417.55" cy="599.29" r="1.3"/>
<circle cx="409.23" cy="600.88" r="1.3"/>
<circle cx="401.14" cy="598.89" r="1.3"/>
<circle cx="407.09" cy="583.26" r="1.3"/>
<circle cx="402.44" cy="594.46" r="1.3"/>
<circle cx="403.43" cy="592.57" r="1.3"/>
<circle cx="410.21" cy="590.61" r="1.3"/>
<circle cx="401.06" cy="593.52" r="1.3"/>
<circle cx="403.08" cy="585.36" r="1.3"/>
<circle cx="402.29" cy="589.69" r="1.3"/>
<circle cx="399.95" cy="598.18" r="1.3"/>
<circle cx="416.92" cy="590.42" r="1.3"/>
<circle cx="412.4" cy="605.84" r="1.3"/>
<circle cx="399.38" cy="581.95" r="1.3"/>
<circle cx="414.08" cy="603.32" r="1.3"/>
<circle cx="410.86" cy="582.63" r="1.3"/>
<circle cx="406.51" cy="604.12" r="1.3"/>
<circle cx="415.62" cy="602.38" r="1.3"/>
<circle cx="402.46" cy="603.74" r="1.3"/>
<circle cx="405.76" cy="600" r="1.3"/>
<circle cx="419.77" cy="606.89" r="1.3"/>
<circle cx="426.38" cy="600.63" r="1.3"/>
<circle cx="420.82" cy="597.85" r="1.3"/>
<circle cx="426.06" cy="597.15" r="1.3"/>
<circle cx="422.92" cy="600.77" r="1.3"/>
<circle cx="422.67" cy="588.65" r="1.3"/>
<circle cx="420.16" cy="599.63" r="1.3"/>
<circle cx="419.41" cy="586.42" r="1.3"/>
<circle cx="418.8" cy="598.55" r="1.3"/>
<circle cx="425.72" cy="595.85" r="1.3"/>
<circle cx="418.37" cy="592.95" r="1.3"/>
<circle cx="422.69" cy="581.72" r="1.3"/>
<circle cx="417.85" cy="607.3" r="1.3"/>
<circle cx="419.55" cy="588.83" r="1.3"/>
<circle cx="421.64" cy="597.31" r="1.3"/>
<circle cx="418.92" cy="593.8" r="1.3"/>
<circle cx="423.03" cy="603.49" r="1.3"/>
<circle cx="417.89" cy="589.85" r="1.3"/>
<circle cx="424.87" cy="606.86" r="1.3"/>
<circle cx="425.16" cy="593.93" r="1.3"/>
<circle cx="427.33" cy="588.68" r="1.3"/>
<circle cx="418.27" cy="594.69" r="1.3"/>
<circle cx="430.75" cy="601.04" r="1.3"/>
<circle cx="421.49" cy="599.63" r="1.3"/>
<circle cx="429.88" cy="587.49" r="1.3"/>
<circle cx="426.18" cy="590.48" r="1.3"/>
<circle cx="421.29" cy="588.4" r="1.3"/>
<circle cx="420.71" cy="590.34" r="1.3"/>
<circle cx="418.35" cy="591.72" r="1.3"/>
<circle cx="419.05" cy="601.55" r="1.3"/>
<circle cx="426.34" cy="577.55" r="1.3"/>
<circle cx="428.81" cy="585.25" r="1.3"/>
<circle cx="424.65" cy="596.16" r="1.3"/>
<circle cx="422.54" cy="588.46" r="1.3"/>
<circle cx="424" cy="583.38" r="1.3"/>
<circle cx="430.09" cy="582.46" r="1.3"/>
<circle cx="429.52" cy="586.18" r="1.3"/>
<circle cx="422.13" cy="591.45" r="1.3"/>
<circle cx="418.3" cy="583.06" r="1.3"/>
<circle cx="437.88" cy="593.97" r="1.3"/>
<circle cx="446.25" cy="607.3" r="1.3"/>
<circle cx="432.74" cy="596.43" r="1.3"/>
<circle cx="434.12" cy="603.04" r="1.3"/>
<circle cx="437.26" cy="605.14" r="1.3"/>
<circle cx="440.88" cy="584.61" r="1.3"/>
<circle cx="432.1" cy="588.52" r="1.3"/>
<circle cx="446.12" cy="585.42" r="1.3"/>
<circle cx="439.8" cy="592.07" r="1.3"/>
<circle cx="437.62" cy="603" r="1.3"/>
<circle cx="435.5" cy="600.99" r="1.3"/>
<circle cx="442.85" cy="606.12" r="1.3"/>
<circle cx="440.46" cy="605.77" r="1.3"/>
<circle cx="439.17" cy="597.4" r="1.3"/>
<circle cx="442.1" cy="603.89" r="1.3"/>
<circle cx="446.59" cy="584.26" r="1.3"/>
<circle cx="434.25" cy="596.39" r="1.3"/>
<circle cx="445.2" cy="596.38" r="1.3"/>
<circle cx="436.88" cy="606.73" r="1.3"/>
<circle cx="436.86" cy="583.23" r="1.3"/>
<circle cx="432.87" cy="580.95" r="1.3"/>
<circle cx="443.82" cy="583.96" r="1.3"/>
<circle cx="443.65" cy="604.52" r="1.3"/>
<circle cx="448.26" cy="603.17" r="1.3"/>
<circle cx="438.91" cy="598.62" r="1.3"/>
<circle cx="445.55" cy="600.93" r="1.3"/>
<circle cx="436.73" cy="602.04" r="1.3"/>
<circle cx="433.8" cy="590.28" r="1.3"/>
<circle cx="448.19" cy="594.76" r="1.3"/>
<circle cx="436.37" cy="602.59" r="1.3"/>
<circle cx="439.32" cy="579.52" r="1.3"/>
<circle cx="432.5" cy="588.85" r="1.3"/>
<circle cx="437.41" cy="606.16" r="1.3"/>
<circle cx="436.04" cy="604.13" r="1.3"/>
<circle cx="445.88" cy="593.28" r="1.3"/>
<circle cx="448.15" cy="602.04" r="1.3"/>
<circle cx="439.88" cy="588.92" r="1.3"/>
<circle cx="439.5" cy="605.35" r="1.3"/>
<circle cx="440.74" cy="586.85" r="1.3"/>
<circle cx="438.12" cy="594.88" r="1.3"/>
<circle cx="435.12" cy="597.38" r="1.3"/>
<circle cx="432.58" cy="603.46" r="1.3"/>
<circle cx="434.93" cy="583.81" r="1.3"/>
<circle cx="441.58" cy="590.26" r="1.3"/>
<circle cx="446.4" cy="595.43" r="1.3"/>
<circle cx="457.77" cy="603.22" r="1.3"/>
<circle cx="452.17" cy="600.79" r="1.3"/>
<circle cx="460.12" cy="591.63" r="1.3"/>
<circle cx="465.77" cy="576.69" r="1.3"/>
<circle cx="464" cy="582.01" r="1.3"/>
<circle cx="463.6" cy="582.41" r="1.3"/>
<circle cx="449.24" cy="593.81" r="1.3"/>
<circle cx="465.16" cy="586.11" r="1.3"/>
<circle cx="457.15" cy="596.94" r="1.3"/>
<circle cx="452.71" cy="594.69" r="1.3"/>
<circle cx="448.44" cy="592.26" r="1.3"/>
<circle cx="462.13" cy="588.83" r="1.3"/>
<circle cx="452.28" cy="578.15" r="1.3"/>
<circle cx="461.04" cy="591.58" r="1.3"/>
<circle cx="464.96" cy="600.67" r="1.3"/>
<circle cx="450.09" cy="605.35" r="1.3"/>
<circle cx="465.27" cy="602.76" r="1.3"/>
<circle cx="463.44" cy="599.02" r="1.3"/>
<circle cx="461.42" cy="598.62" r="1.3"/>
<circle cx="459.05" cy="586.1" r="1.3"/>
<circle cx="450.7" cy="600.27" r="1.3"/>
<circle cx="459.14" cy="578.4" r="1.3"/>
<circle cx="459.98" cy="597" r="1.3"/>
<circle cx="457.6" cy="601.61" r="1.3"/>
<circle cx="464.26" cy="590.15" r="1.3"/>
<circle cx="463.14" cy="593.76" r="1.3"/>
<circle cx="458.7" cy="591.17" r="1.3"/>
<circle cx="465.29" cy="592.12" r="1.3"/>
<circle cx="465.65" cy="588.79" r="1.3"/>
<circle cx="460.53" cy="605.3" r="1.3"/>
<circle cx="460.74" cy="589.97" r="1.3"/>
<circle cx="449.67" cy="593.14" r="1.3"/>
<circle cx="455.82" cy="602.67" r="1.3"/>
<circle cx="462.58" cy="607.23" r="1.3"/>
<circle cx="456.43" cy="591.06" r="1.3"/>
<circle cx="458.56" cy="600.92" r="1.3"/>
<circle cx="449.71" cy="584.65" r="1.3"/>
<circle cx="450.92" cy="588.34" r="1.3"/>
<circle cx="453.73" cy="606.76" r="1.3"/>
<circle cx="452.04" cy="605.85" r="1.3"/>
<circle cx="453.64" cy="584.24" r="1.3"/>
<circle cx="466.05" cy="579.84" r="1.3"/>
<circle cx="450.32" cy="581.44" r="1.3"/>
<circle cx="449.48" cy="590.32" r="1.3"/>
<circle cx="452.14" cy="582.61" r="1.3"/>
<circle cx="466.77" cy="602.02" r="1.3"/>
<circle cx="467.31" cy="592.21" r="1.3"/>
<circle cx="475.69" cy="605.49" r="1.3"/>
<circle cx="477.22" cy="602.23" r="1.3"/>
<circle cx="477.9" cy="603.89" r="1.3"/>
<circle cx="480.37" cy="590.32" r="1.3"/>
<circle cx="467.4" cy="600.53" r="1.3"/>
<circle cx="474.94" cy="598.53" r="1.3"/>
<circle cx="479.21" cy="590.81" r="1.3"/>
<circle cx="477.98" cy="596.57" r="1.3"/>
<circle cx="473.36" cy="592.52" r="1.3"/>
<circle cx="471.09" cy="599.7" r="1.3"/>
<circle cx="475.51" cy="605.91" r="1.3"/>
<circle cx="471.07" cy="602.36" r="1.3"/>
<circle cx="468.09" cy="601.13" r="1.3"/>
<circle cx="469.13" cy="605.01" r="1.3"/>
<circle cx="482.18" cy="592.75" r="1.3"/>
<circle cx="479.64" cy="591.93" r="1.3"/>
<circle cx="471.47" cy="588.92" r="1.3"/>
<circle cx="473.68" cy="588.95" r="1.3"/>
<circle cx="477.95" cy="599.63" r="1.3"/>
<circle cx="473.33" cy="602.24" r="1.3"/>
<circle cx="470.31" cy="594.52" r="1.3"/>
<circle cx="472.42" cy="585.45" r="1.3"/>
<circle cx="480.92" cy="588.5" r="1.3"/>
<circle cx="468.16" cy="603.91" r="1.3"/>
<circle cx="479.81" cy="597.01" r="1.3"/>
<circle cx="473.36" cy="589.9" r="1.3"/>
<circle cx="434.07" cy="575.32" r="1.3"/>
<circle cx="438.01" cy="572.33" r="1.3"/>
<circle cx="448.76" cy="571.26" r="1.3"/>
<circle cx="439.93" cy="577.2" r="1.3"/>
<circle cx="446.18" cy="571.97" r="1.3"/>
<circle cx="446.09" cy="575.67" r="1.3"/>
<circle cx="444.28" cy="578.75" r="1.3"/>
<circle cx="447.02" cy="575.96" r="1.3"/>
</g>
<path d="M395.68 607.3V604.5M395.68 490.5V493.3M430.35 607.3V604.5M430.35 490.5V493.3M465.02 607.3V604.5M465.02 490.5V493.3M361 578.1H363.8M499.7 578.1H496.9M361 548.9H363.8M499.7 548.9H496.9M361 519.7H363.8M499.7 519.7H496.9" stroke="#262626" stroke-width="1.25" fill="none"/>
<rect x="361" y="490.5" width="138.7" height="116.8" fill="none" stroke="#262626" stroke-width="1.25"/>
<text x="361" y="616.8" font-size="8.0" font-weight="bold" text-anchor="middle" fill="#262626" letter-spacing="-0.3">0</text>
<text x="395.68" y="616.8" font-size="8.0" font-weight="bold" text-anchor="middle" fill="#262626" letter-spacing="-0.3">7.5</text>
<text x="430.35" y="616.8" font-size="8.0" font-weight="bold" text-anchor="middle" fill="#262626" letter-spacing="-0.3">15</text>
<text x="465.02" y="616.8" font-size="8.0" font-weight="bold" text-anchor="middle" fill="#262626" letter-spacing="-0.3">22.5</text>
<text x="499.7" y="616.8" font-size="8.0" font-weight="bold" text-anchor="middle" fill="#262626" letter-spacing="-0.3">30</text>
<text x="358.5" y="610.16" font-size="8.0" font-weight="bold" text-anchor="end" fill="#262626" letter-spacing="-0.3">0</text>
<text x="358.5" y="580.96" font-size="8.0" font-weight="bold" text-anchor="end" fill="#262626" letter-spacing="-0.3">0.01</text>
<text x="358.5" y="551.76" font-size="8.0" font-weight="bold" text-anchor="end" fill="#262626" letter-spacing="-0.3">0.02</text>
<text x="358.5" y="522.56" font-size="8.0" font-weight="bold" text-anchor="end" fill="#262626" letter-spacing="-0.3">0.03</text>
<text x="358.5" y="493.36" font-size="8.0" font-weight="bold" text-anchor="end" fill="#262626" letter-spacing="-0.3">0.04</text>
<text x="430.35" y="626.2" font-size="8.4" font-weight="bold" text-anchor="middle" fill="#262626">Incident Angle (°)</text>
<text x="332.6" y="548.9" font-size="8.2" font-weight="bold" text-anchor="middle" fill="#262626" transform="rotate(-90 332.6 548.9)">Normalized Contribution</text>
<text x="495.1" y="502" font-size="6.4" font-weight="bold" text-anchor="end" fill="#262626" word-spacing="0.75"><tspan font-style="italic">&#961;</tspan> = -0.04, p = 0.387</text>
<line x1="566.25" y1="490.5" x2="566.25" y2="607.3" stroke="#dadada" stroke-width="0.9"/>
<line x1="603.82" y1="490.5" x2="603.82" y2="607.3" stroke="#dadada" stroke-width="0.9"/>
<line x1="641.39" y1="490.5" x2="641.39" y2="607.3" stroke="#dadada" stroke-width="0.9"/>
<line x1="541.2" y1="578.1" x2="679.8" y2="578.1" stroke="#dadada" stroke-width="0.9"/>
<line x1="541.2" y1="548.9" x2="679.8" y2="548.9" stroke="#dadada" stroke-width="0.9"/>
<line x1="541.2" y1="519.7" x2="679.8" y2="519.7" stroke="#dadada" stroke-width="0.9"/>
<g fill="#d2601f" stroke="#6b3012" stroke-width="0.55">
<circle cx="579.15" cy="491.62" r="1.3"/>
<circle cx="578.54" cy="495.07" r="1.3"/>
<circle cx="578.54" cy="498.12" r="1.3"/>
<circle cx="578.54" cy="502.17" r="1.3"/>
<circle cx="577.93" cy="508.24" r="1.3"/>
<circle cx="577.53" cy="514.33" r="1.3"/>
<circle cx="578.54" cy="516.36" r="1.3"/>
<circle cx="579.15" cy="520.41" r="1.3"/>
<circle cx="577.93" cy="518.38" r="1.3"/>
<circle cx="598.22" cy="501.15" r="1.3"/>
<circle cx="597.42" cy="503.18" r="1.3"/>
<circle cx="597.42" cy="507.24" r="1.3"/>
<circle cx="597.82" cy="510.27" r="1.3"/>
<circle cx="588.07" cy="524.06" r="1.3"/>
<circle cx="588.07" cy="528.12" r="1.3"/>
<circle cx="588.68" cy="530.55" r="1.3"/>
<circle cx="588.07" cy="532.98" r="1.3"/>
<circle cx="588.89" cy="534.6" r="1.3"/>
<circle cx="622.57" cy="522.84" r="1.3"/>
<circle cx="623.18" cy="528.93" r="1.3"/>
<circle cx="623.79" cy="532.17" r="1.3"/>
<circle cx="623.18" cy="536.64" r="1.3"/>
<circle cx="614.05" cy="528.12" r="1.3"/>
<circle cx="614.45" cy="530.55" r="1.3"/>
<circle cx="615.06" cy="532.98" r="1.3"/>
<circle cx="616.09" cy="538.66" r="1.3"/>
<circle cx="616.49" cy="540.69" r="1.3"/>
<circle cx="542.02" cy="530.96" r="1.3"/>
<circle cx="550.13" cy="538.66" r="1.3"/>
<circle cx="566.98" cy="539.07" r="1.3"/>
<circle cx="567.38" cy="542.31" r="1.3"/>
<circle cx="567.38" cy="544.74" r="1.3"/>
<circle cx="566.98" cy="546.77" r="1.3"/>
<circle cx="566.98" cy="550.83" r="1.3"/>
<circle cx="566.37" cy="552.85" r="1.3"/>
<circle cx="566.98" cy="554.47" r="1.3"/>
<circle cx="647.53" cy="532.17" r="1.3"/>
<circle cx="646.92" cy="536.64" r="1.3"/>
<circle cx="646.92" cy="538.26" r="1.3"/>
<circle cx="639.41" cy="543.12" r="1.3"/>
<circle cx="640.02" cy="545.76" r="1.3"/>
<circle cx="640.02" cy="550.42" r="1.3"/>
<circle cx="640.42" cy="552.85" r="1.3"/>
<circle cx="639.41" cy="559.95" r="1.3"/>
<circle cx="640.02" cy="562.59" r="1.3"/>
<circle cx="640.42" cy="566.64" r="1.3"/>
<circle cx="587.27" cy="548.39" r="1.3"/>
<circle cx="588.07" cy="549.81" r="1.3"/>
<circle cx="591.32" cy="553.26" r="1.3"/>
<circle cx="609.59" cy="546.37" r="1.3"/>
<circle cx="609.99" cy="549.81" r="1.3"/>
<circle cx="611.01" cy="551.84" r="1.3"/>
<circle cx="614.45" cy="552.85" r="1.3"/>
<circle cx="621.77" cy="554.47" r="1.3"/>
<circle cx="622.17" cy="556.5" r="1.3"/>
<circle cx="621.16" cy="560.97" r="1.3"/>
<circle cx="597.42" cy="553.26" r="1.3"/>
<circle cx="598.22" cy="556.5" r="1.3"/>
<circle cx="599.84" cy="554.47" r="1.3"/>
<circle cx="601.46" cy="555.29" r="1.3"/>
<circle cx="601.88" cy="558.52" r="1.3"/>
<circle cx="603.5" cy="560.97" r="1.3"/>
<circle cx="614.45" cy="560.56" r="1.3"/>
<circle cx="614.05" cy="567.04" r="1.3"/>
<circle cx="609.59" cy="570.69" r="1.3"/>
<circle cx="608.98" cy="574.14" r="1.3"/>
<circle cx="541.2" cy="554.47" r="1.3"/>
<circle cx="542.02" cy="556.91" r="1.3"/>
<circle cx="543.03" cy="559.95" r="1.3"/>
<circle cx="542.02" cy="565.02" r="1.3"/>
<circle cx="542.63" cy="567.04" r="1.3"/>
<circle cx="542.02" cy="573.12" r="1.3"/>
<circle cx="541.2" cy="576.17" r="1.3"/>
<circle cx="542.02" cy="580.23" r="1.3"/>
<circle cx="542.02" cy="589.35" r="1.3"/>
<circle cx="542.02" cy="595.43" r="1.3"/>
<circle cx="541.6" cy="601.51" r="1.3"/>
<circle cx="550.74" cy="553.86" r="1.3"/>
<circle cx="551.55" cy="557.92" r="1.3"/>
<circle cx="552.16" cy="560.97" r="1.3"/>
<circle cx="552.16" cy="565.02" r="1.3"/>
<circle cx="551.55" cy="569.07" r="1.3"/>
<circle cx="552.16" cy="573.12" r="1.3"/>
<circle cx="554.8" cy="571.1" r="1.3"/>
<circle cx="555.2" cy="553.86" r="1.3"/>
<circle cx="555.61" cy="556.91" r="1.3"/>
<circle cx="560.27" cy="556.91" r="1.3"/>
<circle cx="560.27" cy="559.95" r="1.3"/>
<circle cx="592.75" cy="560.97" r="1.3"/>
<circle cx="592.75" cy="563.39" r="1.3"/>
<circle cx="577.13" cy="565.43" r="1.3"/>
<circle cx="577.53" cy="568.06" r="1.3"/>
<circle cx="577.13" cy="570.69" r="1.3"/>
<circle cx="567.38" cy="568.06" r="1.3"/>
<circle cx="566.98" cy="572.11" r="1.3"/>
<circle cx="571.03" cy="572.11" r="1.3"/>
<circle cx="571.84" cy="574.75" r="1.3"/>
<circle cx="665.19" cy="558.93" r="1.3"/>
<circle cx="665.19" cy="561.36" r="1.3"/>
<circle cx="665.19" cy="564.61" r="1.3"/>
<circle cx="652.2" cy="570.09" r="1.3"/>
<circle cx="653.62" cy="572.11" r="1.3"/>
<circle cx="647.53" cy="573.12" r="1.3"/>
<circle cx="648.55" cy="576.17" r="1.3"/>
<circle cx="653.01" cy="578.8" r="1.3"/>
<circle cx="647.53" cy="584.28" r="1.3"/>
<circle cx="589.29" cy="573.53" r="1.3"/>
<circle cx="679.4" cy="555.9" r="1.3"/>
<circle cx="679.4" cy="558.93" r="1.3"/>
<circle cx="618.11" cy="578.19" r="1.3"/>
<circle cx="618.51" cy="581.24" r="1.3"/>
<circle cx="619.12" cy="584.28" r="1.3"/>
<circle cx="619.73" cy="586.92" r="1.3"/>
<circle cx="628.25" cy="575.16" r="1.3"/>
<circle cx="628.25" cy="578.19" r="1.3"/>
<circle cx="628.66" cy="586.31" r="1.3"/>
<circle cx="628.66" cy="589.35" r="1.3"/>
<circle cx="661.74" cy="588.33" r="1.3"/>
<circle cx="662.75" cy="598.47" r="1.3"/>
<circle cx="666.81" cy="601.11" r="1.3"/>
<circle cx="673.3" cy="582.25" r="1.3"/>
<circle cx="674.52" cy="586.92" r="1.3"/>
<circle cx="655.05" cy="594.42" r="1.3"/>
<circle cx="656.67" cy="596.44" r="1.3"/>
<circle cx="625.21" cy="593.4" r="1.3"/>
<circle cx="628.25" cy="594.42" r="1.3"/>
<circle cx="630.28" cy="595.02" r="1.3"/>
<circle cx="621.16" cy="597.45" r="1.3"/>
<circle cx="622.17" cy="599.49" r="1.3"/>
<circle cx="634.75" cy="600.5" r="1.3"/>
<circle cx="636.38" cy="601.51" r="1.3"/>
<circle cx="638.4" cy="597.45" r="1.3"/>
<circle cx="640.42" cy="602.52" r="1.3"/>
<circle cx="646.52" cy="602.52" r="1.3"/>
<circle cx="648.14" cy="603.54" r="1.3"/>
<circle cx="555.71" cy="600.42" r="1.3"/>
<circle cx="555.75" cy="602.53" r="1.3"/>
<circle cx="556.65" cy="588.26" r="1.3"/>
<circle cx="556.43" cy="589.21" r="1.3"/>
<circle cx="560.71" cy="589.91" r="1.3"/>
<circle cx="560.84" cy="588.13" r="1.3"/>
<circle cx="560.96" cy="583.34" r="1.3"/>
<circle cx="547.09" cy="593.18" r="1.3"/>
<circle cx="546.98" cy="592.78" r="1.3"/>
<circle cx="547.15" cy="601.85" r="1.3"/>
<circle cx="547.17" cy="601.97" r="1.3"/>
<circle cx="560.94" cy="594.14" r="1.3"/>
<circle cx="560.6" cy="599.43" r="1.3"/>
<circle cx="558.26" cy="593.73" r="1.3"/>
<circle cx="558.43" cy="593.24" r="1.3"/>
<circle cx="553.36" cy="583.52" r="1.3"/>
<circle cx="553.31" cy="578.08" r="1.3"/>
<circle cx="553.38" cy="582.74" r="1.3"/>
<circle cx="553.36" cy="580.55" r="1.3"/>
<circle cx="562.66" cy="581.15" r="1.3"/>
<circle cx="562.75" cy="581.9" r="1.3"/>
<circle cx="562.61" cy="585.61" r="1.3"/>
<circle cx="562.78" cy="581.23" r="1.3"/>
<circle cx="562.81" cy="583.47" r="1.3"/>
<circle cx="553.73" cy="584.7" r="1.3"/>
<circle cx="553.87" cy="584.34" r="1.3"/>
<circle cx="553.65" cy="580.44" r="1.3"/>
<circle cx="561.89" cy="583.19" r="1.3"/>
<circle cx="562.13" cy="586.5" r="1.3"/>
<circle cx="562.06" cy="582.73" r="1.3"/>
<circle cx="561.99" cy="580.48" r="1.3"/>
<circle cx="555.23" cy="590.2" r="1.3"/>
<circle cx="554.96" cy="583.26" r="1.3"/>
<circle cx="558.98" cy="577.18" r="1.3"/>
<circle cx="558.75" cy="577.18" r="1.3"/>
<circle cx="558.84" cy="579.06" r="1.3"/>
<circle cx="544.89" cy="607.3" r="1.3"/>
<circle cx="544.78" cy="601.75" r="1.3"/>
<circle cx="544.64" cy="602.14" r="1.3"/>
<circle cx="544.55" cy="602.63" r="1.3"/>
<circle cx="553.56" cy="601.4" r="1.3"/>
<circle cx="553.67" cy="605.43" r="1.3"/>
<circle cx="553.7" cy="601.99" r="1.3"/>
<circle cx="553.09" cy="602.39" r="1.3"/>
<circle cx="548.45" cy="588.2" r="1.3"/>
<circle cx="547.8" cy="587.44" r="1.3"/>
<circle cx="548.16" cy="594.07" r="1.3"/>
<circle cx="546.72" cy="580.35" r="1.3"/>
<circle cx="546.66" cy="580.37" r="1.3"/>
<circle cx="546.65" cy="581.13" r="1.3"/>
<circle cx="573.58" cy="598.56" r="1.3"/>
<circle cx="573.38" cy="596.08" r="1.3"/>
<circle cx="573.27" cy="599.94" r="1.3"/>
<circle cx="573.3" cy="590.99" r="1.3"/>
<circle cx="572.34" cy="582.71" r="1.3"/>
<circle cx="572.77" cy="577.18" r="1.3"/>
<circle cx="563.72" cy="599.35" r="1.3"/>
<circle cx="564.08" cy="600.09" r="1.3"/>
<circle cx="563.97" cy="596.31" r="1.3"/>
<circle cx="570.42" cy="577.18" r="1.3"/>
<circle cx="570.68" cy="577.18" r="1.3"/>
<circle cx="570.65" cy="577.87" r="1.3"/>
<circle cx="570.79" cy="580.8" r="1.3"/>
<circle cx="570.5" cy="577.18" r="1.3"/>
<circle cx="571.87" cy="588.73" r="1.3"/>
<circle cx="571.62" cy="593.69" r="1.3"/>
<circle cx="566.02" cy="597.14" r="1.3"/>
<circle cx="566.25" cy="591.53" r="1.3"/>
<circle cx="565.8" cy="598.46" r="1.3"/>
<circle cx="573.54" cy="586.35" r="1.3"/>
<circle cx="573.67" cy="584.99" r="1.3"/>
<circle cx="573.36" cy="599.72" r="1.3"/>
<circle cx="573.44" cy="598.38" r="1.3"/>
<circle cx="573.38" cy="605.77" r="1.3"/>
<circle cx="572.93" cy="604.29" r="1.3"/>
<circle cx="572.83" cy="604.51" r="1.3"/>
<circle cx="567.67" cy="592.76" r="1.3"/>
<circle cx="568.01" cy="600.48" r="1.3"/>
<circle cx="583.1" cy="587.28" r="1.3"/>
<circle cx="583.06" cy="591.35" r="1.3"/>
<circle cx="582.79" cy="586.87" r="1.3"/>
<circle cx="582.81" cy="592.01" r="1.3"/>
<circle cx="579.22" cy="598.6" r="1.3"/>
<circle cx="579.07" cy="603.46" r="1.3"/>
<circle cx="579.34" cy="596.85" r="1.3"/>
<circle cx="579.51" cy="596.41" r="1.3"/>
<circle cx="578.9" cy="581.87" r="1.3"/>
<circle cx="579.09" cy="581.7" r="1.3"/>
<circle cx="579.09" cy="585.08" r="1.3"/>
<circle cx="579.45" cy="588.19" r="1.3"/>
<circle cx="582.82" cy="577.97" r="1.3"/>
<circle cx="583.25" cy="577.18" r="1.3"/>
<circle cx="583.03" cy="582" r="1.3"/>
<circle cx="580.4" cy="605.38" r="1.3"/>
<circle cx="580.95" cy="599.65" r="1.3"/>
<circle cx="580.53" cy="603.59" r="1.3"/>
<circle cx="581.05" cy="602.44" r="1.3"/>
<circle cx="580.29" cy="598.27" r="1.3"/>
<circle cx="575.24" cy="586.19" r="1.3"/>
<circle cx="575.34" cy="586.77" r="1.3"/>
<circle cx="575.64" cy="582.09" r="1.3"/>
<circle cx="575.78" cy="579.29" r="1.3"/>
<circle cx="585.68" cy="598.69" r="1.3"/>
<circle cx="585.86" cy="596.01" r="1.3"/>
<circle cx="585.54" cy="591.08" r="1.3"/>
<circle cx="585.9" cy="595.97" r="1.3"/>
<circle cx="585.26" cy="596.44" r="1.3"/>
<circle cx="575.34" cy="604.72" r="1.3"/>
<circle cx="575.27" cy="599.18" r="1.3"/>
<circle cx="584.44" cy="592.09" r="1.3"/>
<circle cx="584.12" cy="591.16" r="1.3"/>
<circle cx="578.55" cy="580.83" r="1.3"/>
<circle cx="586.61" cy="591.94" r="1.3"/>
<circle cx="587.06" cy="588.25" r="1.3"/>
<circle cx="586.76" cy="584.34" r="1.3"/>
<circle cx="586.73" cy="588.78" r="1.3"/>
<circle cx="590.96" cy="584.52" r="1.3"/>
<circle cx="591.43" cy="586.17" r="1.3"/>
<circle cx="595.31" cy="584.02" r="1.3"/>
<circle cx="594.81" cy="586.51" r="1.3"/>
<circle cx="594.98" cy="590.57" r="1.3"/>
<circle cx="587.35" cy="595.05" r="1.3"/>
<circle cx="586.99" cy="592.61" r="1.3"/>
<circle cx="586.92" cy="592.56" r="1.3"/>
<circle cx="599.63" cy="595.21" r="1.3"/>
<circle cx="599.61" cy="598.59" r="1.3"/>
<circle cx="595.79" cy="604.99" r="1.3"/>
<circle cx="596" cy="607.3" r="1.3"/>
<circle cx="596.34" cy="600.54" r="1.3"/>
<circle cx="596.67" cy="592.61" r="1.3"/>
<circle cx="596.74" cy="599.08" r="1.3"/>
<circle cx="596.63" cy="593.55" r="1.3"/>
<circle cx="607.67" cy="595.87" r="1.3"/>
<circle cx="607.7" cy="601.74" r="1.3"/>
<circle cx="608.28" cy="604.01" r="1.3"/>
<circle cx="603.67" cy="604.18" r="1.3"/>
<circle cx="603.6" cy="607.3" r="1.3"/>
<circle cx="603.83" cy="607.3" r="1.3"/>
<circle cx="600.62" cy="603.56" r="1.3"/>
<circle cx="601.37" cy="601.73" r="1.3"/>
<circle cx="600.69" cy="595.73" r="1.3"/>
<circle cx="600.76" cy="597" r="1.3"/>
<circle cx="601.13" cy="600.11" r="1.3"/>
<circle cx="595.5" cy="604.19" r="1.3"/>
<circle cx="595.93" cy="596.51" r="1.3"/>
<circle cx="595.97" cy="597.66" r="1.3"/>
<circle cx="596.21" cy="600.83" r="1.3"/>
<circle cx="596.15" cy="603.7" r="1.3"/>
<circle cx="607.67" cy="597.33" r="1.3"/>
<circle cx="607.59" cy="598.48" r="1.3"/>
<circle cx="607.27" cy="597.61" r="1.3"/>
<circle cx="607.58" cy="593.86" r="1.3"/>
<circle cx="603.24" cy="591.38" r="1.3"/>
<circle cx="602.75" cy="589.74" r="1.3"/>
<circle cx="602.72" cy="589.58" r="1.3"/>
<circle cx="603.22" cy="586.21" r="1.3"/>
<circle cx="607.53" cy="587.04" r="1.3"/>
</g>
<path d="M566.25 607.3V604.5M566.25 490.5V493.3M603.82 607.3V604.5M603.82 490.5V493.3M641.39 607.3V604.5M641.39 490.5V493.3M541.2 578.1H544M679.8 578.1H677M541.2 548.9H544M679.8 548.9H677M541.2 519.7H544M679.8 519.7H677" stroke="#262626" stroke-width="1.25" fill="none"/>
<rect x="541.2" y="490.5" width="138.6" height="116.8" fill="none" stroke="#262626" stroke-width="1.25"/>
<text x="566.25" y="616.8" font-size="8.0" font-weight="bold" text-anchor="middle" fill="#262626" letter-spacing="-0.3">52.5</text>
<text x="603.82" y="616.8" font-size="8.0" font-weight="bold" text-anchor="middle" fill="#262626" letter-spacing="-0.3">57</text>
<text x="641.39" y="616.8" font-size="8.0" font-weight="bold" text-anchor="middle" fill="#262626" letter-spacing="-0.3">61.5</text>
<text x="538.7" y="610.16" font-size="8.0" font-weight="bold" text-anchor="end" fill="#262626" letter-spacing="-0.3">0</text>
<text x="538.7" y="580.96" font-size="8.0" font-weight="bold" text-anchor="end" fill="#262626" letter-spacing="-0.3">0.01</text>
<text x="538.7" y="551.76" font-size="8.0" font-weight="bold" text-anchor="end" fill="#262626" letter-spacing="-0.3">0.02</text>
<text x="538.7" y="522.56" font-size="8.0" font-weight="bold" text-anchor="end" fill="#262626" letter-spacing="-0.3">0.03</text>
<text x="538.7" y="493.36" font-size="8.0" font-weight="bold" text-anchor="end" fill="#262626" letter-spacing="-0.3">0.04</text>
<text x="610.5" y="626.2" font-size="8.4" font-weight="bold" text-anchor="middle" fill="#262626">Distance to Focus (mm)</text>
<text x="512.8" y="548.9" font-size="8.2" font-weight="bold" text-anchor="middle" fill="#262626" transform="rotate(-90 512.8 548.9)">Normalized Contribution</text>
<text x="675.2" y="502" font-size="6.4" font-weight="bold" text-anchor="end" fill="#262626" word-spacing="0.75"><tspan font-style="italic">&#961;</tspan> = -0.02, p = 0.679</text>
<rect x="29.9" y="618.8" width="13.7" height="2.6" fill="#000"/>
<text x="28" y="634.8" font-size="11.8" font-weight="bold" text-anchor="start" fill="#000">1cm</text>
<path d="M85.7 619.9L67.7 619.9M71.04 621.25L67.7 619.9L71.04 618.55" stroke="#4474e0" stroke-width="1.3" fill="none"/>
<path d="M85.7 630.8L67.7 630.8M71.04 632.15L67.7 630.8L71.04 629.45" stroke="#d9601f" stroke-width="1.3" fill="none"/>
<text x="91" y="621.5" font-size="8.6" font-weight="bold" text-anchor="start" fill="#1a1a1a">Surface Normal</text>
<text x="91" y="634" font-size="8.6" font-weight="bold" text-anchor="start" fill="#1a1a1a">Ray Path to Target</text>
<line x1="228.8" y1="682.8" x2="228.8" y2="804.3" stroke="#dadada" stroke-width="0.9"/>
<line x1="300.3" y1="682.8" x2="300.3" y2="804.3" stroke="#dadada" stroke-width="0.9"/>
<line x1="371.8" y1="682.8" x2="371.8" y2="804.3" stroke="#dadada" stroke-width="0.9"/>
<line x1="443.8" y1="682.8" x2="443.8" y2="804.3" stroke="#dadada" stroke-width="0.9"/>
<line x1="146.3" y1="784.05" x2="526" y2="784.05" stroke="#dadada" stroke-width="0.9"/>
<line x1="146.3" y1="763.8" x2="526" y2="763.8" stroke="#dadada" stroke-width="0.9"/>
<line x1="146.3" y1="743.55" x2="526" y2="743.55" stroke="#dadada" stroke-width="0.9"/>
<line x1="146.3" y1="723.3" x2="526" y2="723.3" stroke="#dadada" stroke-width="0.9"/>
<line x1="146.3" y1="703.05" x2="526" y2="703.05" stroke="#dadada" stroke-width="0.9"/>
<rect x="203.8" y="796.2" width="25" height="8.1" fill="#56a5d0" stroke="#1a1a1a" stroke-width="0.8"/>
<rect x="228.8" y="768.25" width="25" height="36.04" fill="#c96636" stroke="#1a1a1a" stroke-width="0.8"/>
<text x="216.3" y="792.7" font-size="7.8" font-weight="bold" text-anchor="middle" fill="#262626">n.s.</text>
<text x="241.3" y="764.75" font-size="7.8" font-weight="bold" text-anchor="middle" fill="#262626">n.s.</text>
<rect x="275.3" y="722" width="25" height="82.3" fill="#56a5d0" stroke="#1a1a1a" stroke-width="0.8"/>
<rect x="300.3" y="700.21" width="25" height="104.09" fill="#c96636" stroke="#1a1a1a" stroke-width="0.8"/>
<text x="287.8" y="718.5" font-size="7.8" font-weight="bold" text-anchor="middle" fill="#262626">***</text>
<text x="312.8" y="696.71" font-size="7.8" font-weight="bold" text-anchor="middle" fill="#262626">***</text>
<rect x="346.8" y="753.27" width="25" height="51.03" fill="#56a5d0" stroke="#1a1a1a" stroke-width="0.8"/>
<rect x="371.8" y="789.72" width="25" height="14.58" fill="#c96636" stroke="#1a1a1a" stroke-width="0.8"/>
<text x="359.3" y="749.77" font-size="7.8" font-weight="bold" text-anchor="middle" fill="#262626">*</text>
<text x="384.3" y="786.22" font-size="7.8" font-weight="bold" text-anchor="middle" fill="#262626">n.s.</text>
<rect x="418.8" y="787.09" width="25" height="17.21" fill="#56a5d0" stroke="#1a1a1a" stroke-width="0.8"/>
<rect x="443.8" y="797.62" width="25" height="6.68" fill="#c96636" stroke="#1a1a1a" stroke-width="0.8"/>
<text x="431.3" y="783.59" font-size="7.8" font-weight="bold" text-anchor="middle" fill="#262626">n.s.</text>
<text x="456.3" y="794.12" font-size="7.8" font-weight="bold" text-anchor="middle" fill="#262626">n.s.</text>
<path d="M228.8 804.3V796.8M228.8 682.8V690.3M300.3 804.3V796.8M300.3 682.8V690.3M371.8 804.3V796.8M371.8 682.8V690.3M443.8 804.3V796.8M443.8 682.8V690.3M146.3 784.05H153.8M526 784.05H518.5M146.3 763.8H153.8M526 763.8H518.5M146.3 743.55H153.8M526 743.55H518.5M146.3 723.3H153.8M526 723.3H518.5M146.3 703.05H153.8M526 703.05H518.5" stroke="#262626" stroke-width="1.25" fill="none"/>
<rect x="146.3" y="682.8" width="379.7" height="121.5" fill="none" stroke="#262626" stroke-width="1.25"/>
<text x="228.8" y="816" font-size="9" font-weight="bold" text-anchor="middle" fill="#262626">1</text>
<text x="300.3" y="816" font-size="9" font-weight="bold" text-anchor="middle" fill="#262626">2</text>
<text x="371.8" y="816" font-size="9" font-weight="bold" text-anchor="middle" fill="#262626">3</text>
<text x="443.8" y="816" font-size="9" font-weight="bold" text-anchor="middle" fill="#262626">4</text>
<text x="143.1" y="807.52" font-size="9" font-weight="bold" text-anchor="end" fill="#262626">0</text>
<text x="143.1" y="787.27" font-size="9" font-weight="bold" text-anchor="end" fill="#262626">0.05</text>
<text x="143.1" y="767.02" font-size="9" font-weight="bold" text-anchor="end" fill="#262626">0.1</text>
<text x="143.1" y="746.77" font-size="9" font-weight="bold" text-anchor="end" fill="#262626">0.15</text>
<text x="143.1" y="726.52" font-size="9" font-weight="bold" text-anchor="end" fill="#262626">0.2</text>
<text x="143.1" y="706.27" font-size="9" font-weight="bold" text-anchor="end" fill="#262626">0.25</text>
<text x="143.1" y="686.02" font-size="9" font-weight="bold" text-anchor="end" fill="#262626">0.3</text>
<text x="336.15" y="826.5" font-size="9.2" font-weight="bold" text-anchor="middle" fill="#262626">Head Model</text>
<text x="0" y="0" font-size="9" font-weight="bold" fill="#262626" transform="translate(119.7 743.55) rotate(-90)" text-anchor="middle">|&#961;<tspan font-size="6.5" dy="2">partial</tspan><tspan dy="-2">|</tspan></text>
<rect x="448.1" y="686.3" width="74.7" height="16.3" fill="#fff" stroke="#262626" stroke-width="0.8"/>
<rect x="449.8" y="688.2" width="13.6" height="5.2" fill="#56a5d0" stroke="#1a1a1a" stroke-width="0.6"/>
<rect x="449.8" y="695.9" width="13.6" height="5.2" fill="#c96636" stroke="#1a1a1a" stroke-width="0.6"/>
<text x="464.4" y="693.6" font-size="6.5" font-weight="bold" text-anchor="start" fill="#1a1a1a">Incident Angle</text>
<text x="464.4" y="701.3" font-size="6.5" font-weight="bold" text-anchor="start" fill="#1a1a1a">Distance to Focus</text>
</svg></body></html>
